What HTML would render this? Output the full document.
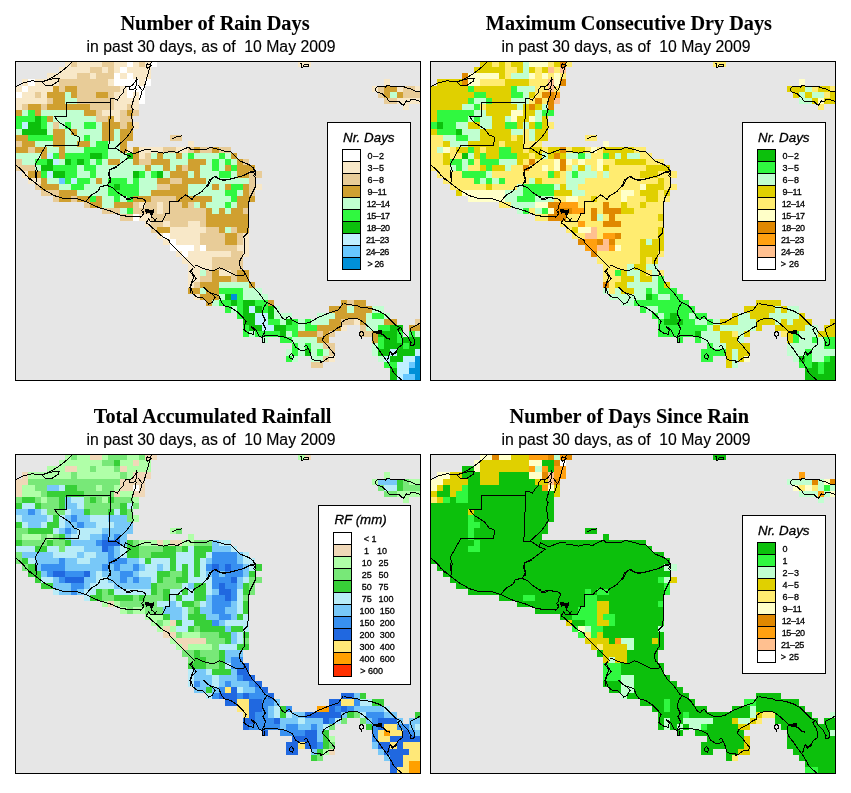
<!DOCTYPE html>
<html><head><meta charset="utf-8"><title>Rainfall maps</title>
<style>
html,body{margin:0;padding:0;background:#fff}
body{width:851px;height:793px;position:relative;overflow:hidden;font-family:"Liberation Sans",sans-serif}
.map{position:absolute;display:block;will-change:transform}
svg text.t1{font-family:"Liberation Serif",serif;font-weight:bold;font-size:20.3px;stroke-width:0.1px}
svg text.t2{font-family:"Liberation Sans",sans-serif;font-size:15.8px;white-space:pre;stroke-width:0.15px}
svg text{font-family:"Liberation Sans",sans-serif;fill:#000;stroke:#000;stroke-width:0.3px}
</style></head><body>

<svg class="map" style="left:0px;top:0px" width="436" height="60" viewBox="0 0 436 60">
<text class="t1" x="120.4" y="29.7" textLength="189.3" lengthAdjust="spacingAndGlyphs">Number of Rain Days</text>
<text class="t2" x="86.5" y="51.5" textLength="249" lengthAdjust="spacingAndGlyphs" xml:space="preserve">in past 30 days, as of  10 May 2009</text>
</svg>
<svg class="map" style="left:15px;top:61px" width="406" height="320" viewBox="0 0 406 320" shape-rendering="crispEdges">
<rect x="0" y="0" width="406" height="320" fill="#e6e6e6"/>
<rect x="50" y="0" width="6" height="6" fill="#f8e8c8"/>
<rect x="56" y="0" width="6" height="6" fill="#e8cc98"/>
<rect x="62" y="0" width="25" height="6" fill="#f8e8c8"/>
<rect x="87" y="0" width="12" height="6" fill="#e8cc98"/>
<rect x="99" y="0" width="13" height="6" fill="#f8e8c8"/>
<rect x="112" y="0" width="6" height="6" fill="#ffffff"/>
<rect x="118" y="0" width="6" height="6" fill="#f8e8c8"/>
<rect x="124" y="0" width="6" height="6" fill="#e8cc98"/>
<rect x="130" y="0" width="6" height="6" fill="#f8e8c8"/>
<rect x="136" y="0" width="6" height="6" fill="#ffffff"/>
<rect x="283" y="0" width="13" height="6" fill="#f8e8c8"/>
<rect x="44" y="6" width="31" height="6" fill="#f8e8c8"/>
<rect x="75" y="6" width="12" height="6" fill="#e8cc98"/>
<rect x="87" y="6" width="6" height="6" fill="#f8e8c8"/>
<rect x="93" y="6" width="6" height="6" fill="#e8cc98"/>
<rect x="99" y="6" width="6" height="6" fill="#f8e8c8"/>
<rect x="105" y="6" width="7" height="6" fill="#ffffff"/>
<rect x="112" y="6" width="24" height="6" fill="#f8e8c8"/>
<rect x="32" y="12" width="30" height="6" fill="#f8e8c8"/>
<rect x="62" y="12" width="13" height="6" fill="#e8cc98"/>
<rect x="75" y="12" width="6" height="6" fill="#f8e8c8"/>
<rect x="81" y="12" width="18" height="6" fill="#e8cc98"/>
<rect x="99" y="12" width="6" height="6" fill="#ffffff"/>
<rect x="105" y="12" width="7" height="6" fill="#f8e8c8"/>
<rect x="112" y="12" width="6" height="6" fill="#ffffff"/>
<rect x="118" y="12" width="18" height="6" fill="#f8e8c8"/>
<rect x="7" y="18" width="6" height="7" fill="#f8e8c8"/>
<rect x="13" y="18" width="7" height="7" fill="#ffffff"/>
<rect x="20" y="18" width="24" height="7" fill="#f8e8c8"/>
<rect x="44" y="18" width="49" height="7" fill="#e8cc98"/>
<rect x="93" y="18" width="6" height="7" fill="#f8e8c8"/>
<rect x="99" y="18" width="25" height="7" fill="#ffffff"/>
<rect x="124" y="18" width="6" height="7" fill="#f8e8c8"/>
<rect x="130" y="18" width="6" height="7" fill="#ffffff"/>
<rect x="369" y="18" width="6" height="7" fill="#f8e8c8"/>
<rect x="1" y="25" width="6" height="6" fill="#f8e8c8"/>
<rect x="7" y="25" width="6" height="6" fill="#ffffff"/>
<rect x="13" y="25" width="25" height="6" fill="#f8e8c8"/>
<rect x="38" y="25" width="6" height="6" fill="#d0a030"/>
<rect x="44" y="25" width="6" height="6" fill="#e8cc98"/>
<rect x="50" y="25" width="12" height="6" fill="#d0a030"/>
<rect x="62" y="25" width="43" height="6" fill="#e8cc98"/>
<rect x="105" y="25" width="7" height="6" fill="#f8e8c8"/>
<rect x="112" y="25" width="18" height="6" fill="#ffffff"/>
<rect x="357" y="25" width="6" height="6" fill="#f8e8c8"/>
<rect x="363" y="25" width="6" height="6" fill="#e8cc98"/>
<rect x="369" y="25" width="13" height="6" fill="#d0a030"/>
<rect x="382" y="25" width="6" height="6" fill="#f8e8c8"/>
<rect x="388" y="25" width="12" height="6" fill="#e8cc98"/>
<rect x="400" y="25" width="6" height="6" fill="#f8e8c8"/>
<rect x="1" y="31" width="6" height="6" fill="#ffffff"/>
<rect x="7" y="31" width="13" height="6" fill="#f8e8c8"/>
<rect x="20" y="31" width="6" height="6" fill="#e8cc98"/>
<rect x="26" y="31" width="6" height="6" fill="#f8e8c8"/>
<rect x="32" y="31" width="18" height="6" fill="#d0a030"/>
<rect x="50" y="31" width="6" height="6" fill="#c0ffd0"/>
<rect x="56" y="31" width="6" height="6" fill="#d0a030"/>
<rect x="62" y="31" width="19" height="6" fill="#e8cc98"/>
<rect x="81" y="31" width="12" height="6" fill="#d0a030"/>
<rect x="93" y="31" width="6" height="6" fill="#e8cc98"/>
<rect x="99" y="31" width="13" height="6" fill="#f8e8c8"/>
<rect x="112" y="31" width="6" height="6" fill="#ffffff"/>
<rect x="118" y="31" width="6" height="6" fill="#f8e8c8"/>
<rect x="124" y="31" width="6" height="6" fill="#ffffff"/>
<rect x="363" y="31" width="6" height="6" fill="#e8cc98"/>
<rect x="369" y="31" width="6" height="6" fill="#d0a030"/>
<rect x="375" y="31" width="7" height="6" fill="#c0ffd0"/>
<rect x="382" y="31" width="6" height="6" fill="#d0a030"/>
<rect x="388" y="31" width="18" height="6" fill="#e8cc98"/>
<rect x="1" y="37" width="31" height="6" fill="#f8e8c8"/>
<rect x="32" y="37" width="6" height="6" fill="#e8cc98"/>
<rect x="38" y="37" width="12" height="6" fill="#d0a030"/>
<rect x="50" y="37" width="12" height="6" fill="#c0ffd0"/>
<rect x="62" y="37" width="37" height="6" fill="#e8cc98"/>
<rect x="99" y="37" width="25" height="6" fill="#f8e8c8"/>
<rect x="124" y="37" width="6" height="6" fill="#ffffff"/>
<rect x="369" y="37" width="13" height="6" fill="#e8cc98"/>
<rect x="382" y="37" width="24" height="6" fill="#f8e8c8"/>
<rect x="1" y="43" width="6" height="6" fill="#f8e8c8"/>
<rect x="7" y="43" width="6" height="6" fill="#e8cc98"/>
<rect x="13" y="43" width="13" height="6" fill="#d0a030"/>
<rect x="26" y="43" width="6" height="6" fill="#e8cc98"/>
<rect x="32" y="43" width="43" height="6" fill="#d0a030"/>
<rect x="75" y="43" width="24" height="6" fill="#e8cc98"/>
<rect x="99" y="43" width="13" height="6" fill="#f8e8c8"/>
<rect x="112" y="43" width="6" height="6" fill="#e8cc98"/>
<rect x="118" y="43" width="6" height="6" fill="#f8e8c8"/>
<rect x="388" y="43" width="6" height="6" fill="#f8e8c8"/>
<rect x="1" y="49" width="6" height="6" fill="#d0a030"/>
<rect x="7" y="49" width="6" height="6" fill="#c0ffd0"/>
<rect x="13" y="49" width="7" height="6" fill="#30f840"/>
<rect x="20" y="49" width="6" height="6" fill="#d0a030"/>
<rect x="26" y="49" width="43" height="6" fill="#c0ffd0"/>
<rect x="69" y="49" width="12" height="6" fill="#d0a030"/>
<rect x="81" y="49" width="6" height="6" fill="#e8cc98"/>
<rect x="87" y="49" width="18" height="6" fill="#f8e8c8"/>
<rect x="105" y="49" width="7" height="6" fill="#e8cc98"/>
<rect x="112" y="49" width="6" height="6" fill="#d0a030"/>
<rect x="118" y="49" width="6" height="6" fill="#e8cc98"/>
<rect x="1" y="55" width="19" height="6" fill="#30f840"/>
<rect x="20" y="55" width="6" height="6" fill="#0cc00c"/>
<rect x="26" y="55" width="6" height="6" fill="#30f840"/>
<rect x="32" y="55" width="6" height="6" fill="#d0a030"/>
<rect x="38" y="55" width="43" height="6" fill="#c0ffd0"/>
<rect x="81" y="55" width="12" height="6" fill="#e8cc98"/>
<rect x="93" y="55" width="6" height="6" fill="#d0a030"/>
<rect x="99" y="55" width="6" height="6" fill="#f8e8c8"/>
<rect x="105" y="55" width="13" height="6" fill="#e8cc98"/>
<rect x="1" y="61" width="6" height="7" fill="#30f840"/>
<rect x="7" y="61" width="6" height="7" fill="#c0f0ff"/>
<rect x="13" y="61" width="13" height="7" fill="#0cc00c"/>
<rect x="26" y="61" width="6" height="7" fill="#30f840"/>
<rect x="32" y="61" width="6" height="7" fill="#c0ffd0"/>
<rect x="38" y="61" width="6" height="7" fill="#e8cc98"/>
<rect x="44" y="61" width="6" height="7" fill="#c0ffd0"/>
<rect x="50" y="61" width="6" height="7" fill="#30f840"/>
<rect x="56" y="61" width="13" height="7" fill="#c0ffd0"/>
<rect x="69" y="61" width="12" height="7" fill="#30f840"/>
<rect x="81" y="61" width="6" height="7" fill="#c0ffd0"/>
<rect x="87" y="61" width="18" height="7" fill="#d0a030"/>
<rect x="105" y="61" width="7" height="7" fill="#e8cc98"/>
<rect x="112" y="61" width="6" height="7" fill="#d0a030"/>
<rect x="118" y="61" width="6" height="7" fill="#f8e8c8"/>
<rect x="1" y="68" width="6" height="6" fill="#c0ffd0"/>
<rect x="7" y="68" width="25" height="6" fill="#0cc00c"/>
<rect x="32" y="68" width="6" height="6" fill="#c0ffd0"/>
<rect x="38" y="68" width="12" height="6" fill="#d0a030"/>
<rect x="50" y="68" width="6" height="6" fill="#c0ffd0"/>
<rect x="56" y="68" width="6" height="6" fill="#d0a030"/>
<rect x="62" y="68" width="25" height="6" fill="#c0ffd0"/>
<rect x="87" y="68" width="12" height="6" fill="#d0a030"/>
<rect x="99" y="68" width="6" height="6" fill="#c0ffd0"/>
<rect x="105" y="68" width="13" height="6" fill="#d0a030"/>
<rect x="1" y="74" width="12" height="6" fill="#d0a030"/>
<rect x="13" y="74" width="25" height="6" fill="#30f840"/>
<rect x="38" y="74" width="12" height="6" fill="#d0a030"/>
<rect x="50" y="74" width="19" height="6" fill="#c0ffd0"/>
<rect x="69" y="74" width="6" height="6" fill="#30f840"/>
<rect x="75" y="74" width="12" height="6" fill="#c0ffd0"/>
<rect x="87" y="74" width="12" height="6" fill="#d0a030"/>
<rect x="99" y="74" width="6" height="6" fill="#c0ffd0"/>
<rect x="105" y="74" width="13" height="6" fill="#d0a030"/>
<rect x="155" y="74" width="12" height="6" fill="#e8cc98"/>
<rect x="1" y="80" width="6" height="6" fill="#e8cc98"/>
<rect x="7" y="80" width="13" height="6" fill="#d0a030"/>
<rect x="20" y="80" width="18" height="6" fill="#c0ffd0"/>
<rect x="38" y="80" width="12" height="6" fill="#d0a030"/>
<rect x="50" y="80" width="12" height="6" fill="#c0ffd0"/>
<rect x="62" y="80" width="13" height="6" fill="#d0a030"/>
<rect x="75" y="80" width="6" height="6" fill="#c0ffd0"/>
<rect x="81" y="80" width="12" height="6" fill="#30f840"/>
<rect x="93" y="80" width="12" height="6" fill="#c0ffd0"/>
<rect x="105" y="80" width="7" height="6" fill="#d0a030"/>
<rect x="173" y="80" width="6" height="6" fill="#f8e8c8"/>
<rect x="1" y="86" width="12" height="6" fill="#d0a030"/>
<rect x="13" y="86" width="7" height="6" fill="#e8cc98"/>
<rect x="20" y="86" width="12" height="6" fill="#d0a030"/>
<rect x="32" y="86" width="12" height="6" fill="#c0ffd0"/>
<rect x="44" y="86" width="6" height="6" fill="#d0a030"/>
<rect x="50" y="86" width="19" height="6" fill="#c0ffd0"/>
<rect x="69" y="86" width="24" height="6" fill="#30f840"/>
<rect x="93" y="86" width="12" height="6" fill="#c0ffd0"/>
<rect x="105" y="86" width="7" height="6" fill="#d0a030"/>
<rect x="112" y="86" width="6" height="6" fill="#f8e8c8"/>
<rect x="118" y="86" width="6" height="6" fill="#d0a030"/>
<rect x="124" y="86" width="24" height="6" fill="#f8e8c8"/>
<rect x="148" y="86" width="13" height="6" fill="#e8cc98"/>
<rect x="161" y="86" width="12" height="6" fill="#f8e8c8"/>
<rect x="173" y="86" width="6" height="6" fill="#e8cc98"/>
<rect x="179" y="86" width="6" height="6" fill="#d0a030"/>
<rect x="185" y="86" width="12" height="6" fill="#e8cc98"/>
<rect x="197" y="86" width="7" height="6" fill="#d0a030"/>
<rect x="204" y="86" width="12" height="6" fill="#e8cc98"/>
<rect x="1" y="92" width="25" height="6" fill="#c0ffd0"/>
<rect x="26" y="92" width="6" height="6" fill="#d0a030"/>
<rect x="32" y="92" width="6" height="6" fill="#c0f0ff"/>
<rect x="38" y="92" width="6" height="6" fill="#30f840"/>
<rect x="44" y="92" width="6" height="6" fill="#d0a030"/>
<rect x="50" y="92" width="25" height="6" fill="#30f840"/>
<rect x="75" y="92" width="12" height="6" fill="#0cc00c"/>
<rect x="87" y="92" width="6" height="6" fill="#30f840"/>
<rect x="93" y="92" width="19" height="6" fill="#c0ffd0"/>
<rect x="112" y="92" width="6" height="6" fill="#0cc00c"/>
<rect x="118" y="92" width="6" height="6" fill="#d0a030"/>
<rect x="124" y="92" width="6" height="6" fill="#f8e8c8"/>
<rect x="130" y="92" width="6" height="6" fill="#e8cc98"/>
<rect x="136" y="92" width="6" height="6" fill="#c0ffd0"/>
<rect x="142" y="92" width="6" height="6" fill="#d0a030"/>
<rect x="148" y="92" width="13" height="6" fill="#c0ffd0"/>
<rect x="161" y="92" width="6" height="6" fill="#d0a030"/>
<rect x="167" y="92" width="6" height="6" fill="#c0ffd0"/>
<rect x="173" y="92" width="6" height="6" fill="#30f840"/>
<rect x="179" y="92" width="25" height="6" fill="#c0ffd0"/>
<rect x="204" y="92" width="6" height="6" fill="#30f840"/>
<rect x="210" y="92" width="6" height="6" fill="#c0ffd0"/>
<rect x="216" y="92" width="6" height="6" fill="#d0a030"/>
<rect x="1" y="98" width="6" height="6" fill="#e8cc98"/>
<rect x="7" y="98" width="13" height="6" fill="#c0ffd0"/>
<rect x="20" y="98" width="12" height="6" fill="#30f840"/>
<rect x="32" y="98" width="6" height="6" fill="#0cc00c"/>
<rect x="38" y="98" width="6" height="6" fill="#c0f0ff"/>
<rect x="44" y="98" width="6" height="6" fill="#c0ffd0"/>
<rect x="50" y="98" width="6" height="6" fill="#0cc00c"/>
<rect x="56" y="98" width="6" height="6" fill="#30f840"/>
<rect x="62" y="98" width="7" height="6" fill="#0cc00c"/>
<rect x="69" y="98" width="6" height="6" fill="#30f840"/>
<rect x="75" y="98" width="6" height="6" fill="#c0ffd0"/>
<rect x="81" y="98" width="6" height="6" fill="#30f840"/>
<rect x="87" y="98" width="6" height="6" fill="#c0ffd0"/>
<rect x="93" y="98" width="12" height="6" fill="#d0a030"/>
<rect x="105" y="98" width="13" height="6" fill="#c0ffd0"/>
<rect x="118" y="98" width="6" height="6" fill="#d0a030"/>
<rect x="124" y="98" width="12" height="6" fill="#e8cc98"/>
<rect x="136" y="98" width="19" height="6" fill="#d0a030"/>
<rect x="155" y="98" width="18" height="6" fill="#c0ffd0"/>
<rect x="173" y="98" width="18" height="6" fill="#d0a030"/>
<rect x="191" y="98" width="6" height="6" fill="#c0ffd0"/>
<rect x="197" y="98" width="7" height="6" fill="#30f840"/>
<rect x="204" y="98" width="6" height="6" fill="#c0ffd0"/>
<rect x="210" y="98" width="6" height="6" fill="#30f840"/>
<rect x="216" y="98" width="6" height="6" fill="#c0ffd0"/>
<rect x="222" y="98" width="6" height="6" fill="#d0a030"/>
<rect x="228" y="98" width="6" height="6" fill="#e8cc98"/>
<rect x="1" y="104" width="19" height="6" fill="#e8cc98"/>
<rect x="20" y="104" width="6" height="6" fill="#c0ffd0"/>
<rect x="26" y="104" width="12" height="6" fill="#0cc00c"/>
<rect x="38" y="104" width="24" height="6" fill="#30f840"/>
<rect x="62" y="104" width="7" height="6" fill="#c0ffd0"/>
<rect x="69" y="104" width="12" height="6" fill="#30f840"/>
<rect x="81" y="104" width="49" height="6" fill="#c0ffd0"/>
<rect x="130" y="104" width="6" height="6" fill="#d0a030"/>
<rect x="136" y="104" width="12" height="6" fill="#c0ffd0"/>
<rect x="148" y="104" width="7" height="6" fill="#d0a030"/>
<rect x="155" y="104" width="6" height="6" fill="#c0ffd0"/>
<rect x="161" y="104" width="6" height="6" fill="#d0a030"/>
<rect x="167" y="104" width="6" height="6" fill="#e8cc98"/>
<rect x="173" y="104" width="12" height="6" fill="#d0a030"/>
<rect x="185" y="104" width="12" height="6" fill="#c0ffd0"/>
<rect x="197" y="104" width="7" height="6" fill="#30f840"/>
<rect x="204" y="104" width="6" height="6" fill="#c0ffd0"/>
<rect x="210" y="104" width="6" height="6" fill="#d0a030"/>
<rect x="216" y="104" width="6" height="6" fill="#30f840"/>
<rect x="222" y="104" width="18" height="6" fill="#d0a030"/>
<rect x="7" y="110" width="6" height="7" fill="#f8e8c8"/>
<rect x="13" y="110" width="13" height="7" fill="#d0a030"/>
<rect x="26" y="110" width="6" height="7" fill="#30f840"/>
<rect x="32" y="110" width="6" height="7" fill="#c0f0ff"/>
<rect x="38" y="110" width="12" height="7" fill="#0cc00c"/>
<rect x="50" y="110" width="12" height="7" fill="#30f840"/>
<rect x="62" y="110" width="13" height="7" fill="#c0ffd0"/>
<rect x="75" y="110" width="6" height="7" fill="#30f840"/>
<rect x="81" y="110" width="37" height="7" fill="#c0ffd0"/>
<rect x="118" y="110" width="6" height="7" fill="#0cc00c"/>
<rect x="124" y="110" width="6" height="7" fill="#30f840"/>
<rect x="130" y="110" width="6" height="7" fill="#c0ffd0"/>
<rect x="136" y="110" width="6" height="7" fill="#30f840"/>
<rect x="142" y="110" width="6" height="7" fill="#0cc00c"/>
<rect x="148" y="110" width="7" height="7" fill="#c0ffd0"/>
<rect x="155" y="110" width="18" height="7" fill="#d0a030"/>
<rect x="173" y="110" width="6" height="7" fill="#c0ffd0"/>
<rect x="179" y="110" width="6" height="7" fill="#d0a030"/>
<rect x="185" y="110" width="19" height="7" fill="#c0ffd0"/>
<rect x="204" y="110" width="12" height="7" fill="#30f840"/>
<rect x="216" y="110" width="6" height="7" fill="#c0ffd0"/>
<rect x="222" y="110" width="12" height="7" fill="#d0a030"/>
<rect x="234" y="110" width="13" height="7" fill="#e8cc98"/>
<rect x="13" y="117" width="13" height="6" fill="#f8e8c8"/>
<rect x="26" y="117" width="6" height="6" fill="#d0a030"/>
<rect x="32" y="117" width="12" height="6" fill="#c0ffd0"/>
<rect x="44" y="117" width="6" height="6" fill="#68c8ff"/>
<rect x="50" y="117" width="6" height="6" fill="#30f840"/>
<rect x="56" y="117" width="6" height="6" fill="#c0f0ff"/>
<rect x="62" y="117" width="13" height="6" fill="#30f840"/>
<rect x="75" y="117" width="6" height="6" fill="#c0ffd0"/>
<rect x="81" y="117" width="6" height="6" fill="#d0a030"/>
<rect x="87" y="117" width="6" height="6" fill="#c0ffd0"/>
<rect x="93" y="117" width="19" height="6" fill="#30f840"/>
<rect x="112" y="117" width="6" height="6" fill="#c0ffd0"/>
<rect x="118" y="117" width="6" height="6" fill="#30f840"/>
<rect x="124" y="117" width="18" height="6" fill="#c0ffd0"/>
<rect x="142" y="117" width="13" height="6" fill="#d0a030"/>
<rect x="155" y="117" width="12" height="6" fill="#e8cc98"/>
<rect x="167" y="117" width="24" height="6" fill="#d0a030"/>
<rect x="191" y="117" width="43" height="6" fill="#c0ffd0"/>
<rect x="234" y="117" width="6" height="6" fill="#e8cc98"/>
<rect x="20" y="123" width="6" height="6" fill="#e8cc98"/>
<rect x="26" y="123" width="18" height="6" fill="#d0a030"/>
<rect x="44" y="123" width="12" height="6" fill="#c0ffd0"/>
<rect x="56" y="123" width="13" height="6" fill="#30f840"/>
<rect x="69" y="123" width="24" height="6" fill="#c0ffd0"/>
<rect x="93" y="123" width="6" height="6" fill="#30f840"/>
<rect x="99" y="123" width="6" height="6" fill="#0cc00c"/>
<rect x="105" y="123" width="19" height="6" fill="#30f840"/>
<rect x="124" y="123" width="18" height="6" fill="#c0ffd0"/>
<rect x="142" y="123" width="13" height="6" fill="#e8cc98"/>
<rect x="155" y="123" width="18" height="6" fill="#d0a030"/>
<rect x="173" y="123" width="24" height="6" fill="#c0ffd0"/>
<rect x="197" y="123" width="7" height="6" fill="#d0a030"/>
<rect x="204" y="123" width="6" height="6" fill="#c0ffd0"/>
<rect x="210" y="123" width="6" height="6" fill="#d0a030"/>
<rect x="216" y="123" width="12" height="6" fill="#30f840"/>
<rect x="228" y="123" width="6" height="6" fill="#d0a030"/>
<rect x="234" y="123" width="6" height="6" fill="#e8cc98"/>
<rect x="240" y="123" width="7" height="6" fill="#f8e8c8"/>
<rect x="26" y="129" width="18" height="6" fill="#e8cc98"/>
<rect x="44" y="129" width="18" height="6" fill="#d0a030"/>
<rect x="62" y="129" width="31" height="6" fill="#c0ffd0"/>
<rect x="93" y="129" width="31" height="6" fill="#30f840"/>
<rect x="124" y="129" width="12" height="6" fill="#c0ffd0"/>
<rect x="136" y="129" width="37" height="6" fill="#d0a030"/>
<rect x="173" y="129" width="37" height="6" fill="#c0ffd0"/>
<rect x="210" y="129" width="12" height="6" fill="#30f840"/>
<rect x="222" y="129" width="6" height="6" fill="#c0ffd0"/>
<rect x="228" y="129" width="6" height="6" fill="#d0a030"/>
<rect x="234" y="129" width="6" height="6" fill="#e8cc98"/>
<rect x="38" y="135" width="6" height="6" fill="#e8cc98"/>
<rect x="44" y="135" width="12" height="6" fill="#d0a030"/>
<rect x="56" y="135" width="6" height="6" fill="#e8cc98"/>
<rect x="62" y="135" width="13" height="6" fill="#d0a030"/>
<rect x="75" y="135" width="6" height="6" fill="#30f840"/>
<rect x="81" y="135" width="6" height="6" fill="#d0a030"/>
<rect x="87" y="135" width="12" height="6" fill="#c0ffd0"/>
<rect x="99" y="135" width="6" height="6" fill="#30f840"/>
<rect x="105" y="135" width="7" height="6" fill="#c0ffd0"/>
<rect x="112" y="135" width="6" height="6" fill="#30f840"/>
<rect x="118" y="135" width="18" height="6" fill="#d0a030"/>
<rect x="136" y="135" width="25" height="6" fill="#e8cc98"/>
<rect x="161" y="135" width="36" height="6" fill="#d0a030"/>
<rect x="197" y="135" width="19" height="6" fill="#c0ffd0"/>
<rect x="216" y="135" width="6" height="6" fill="#30f840"/>
<rect x="222" y="135" width="18" height="6" fill="#d0a030"/>
<rect x="69" y="141" width="6" height="6" fill="#e8cc98"/>
<rect x="75" y="141" width="12" height="6" fill="#d0a030"/>
<rect x="87" y="141" width="12" height="6" fill="#c0ffd0"/>
<rect x="99" y="141" width="19" height="6" fill="#d0a030"/>
<rect x="118" y="141" width="6" height="6" fill="#e8cc98"/>
<rect x="124" y="141" width="6" height="6" fill="#f8e8c8"/>
<rect x="130" y="141" width="12" height="6" fill="#e8cc98"/>
<rect x="142" y="141" width="6" height="6" fill="#f8e8c8"/>
<rect x="148" y="141" width="19" height="6" fill="#e8cc98"/>
<rect x="167" y="141" width="6" height="6" fill="#d0a030"/>
<rect x="173" y="141" width="6" height="6" fill="#e8cc98"/>
<rect x="179" y="141" width="6" height="6" fill="#c0ffd0"/>
<rect x="185" y="141" width="6" height="6" fill="#d0a030"/>
<rect x="191" y="141" width="19" height="6" fill="#c0ffd0"/>
<rect x="210" y="141" width="6" height="6" fill="#30f840"/>
<rect x="216" y="141" width="6" height="6" fill="#c0ffd0"/>
<rect x="222" y="141" width="12" height="6" fill="#d0a030"/>
<rect x="87" y="147" width="18" height="6" fill="#e8cc98"/>
<rect x="105" y="147" width="7" height="6" fill="#c0ffd0"/>
<rect x="112" y="147" width="6" height="6" fill="#30f840"/>
<rect x="118" y="147" width="24" height="6" fill="#e8cc98"/>
<rect x="142" y="147" width="6" height="6" fill="#f8e8c8"/>
<rect x="148" y="147" width="43" height="6" fill="#e8cc98"/>
<rect x="191" y="147" width="6" height="6" fill="#d0a030"/>
<rect x="197" y="147" width="7" height="6" fill="#c0ffd0"/>
<rect x="204" y="147" width="6" height="6" fill="#d0a030"/>
<rect x="210" y="147" width="6" height="6" fill="#c0ffd0"/>
<rect x="216" y="147" width="12" height="6" fill="#d0a030"/>
<rect x="228" y="147" width="6" height="6" fill="#e8cc98"/>
<rect x="105" y="153" width="13" height="7" fill="#e8cc98"/>
<rect x="118" y="153" width="6" height="7" fill="#ffffff"/>
<rect x="124" y="153" width="12" height="7" fill="#f8e8c8"/>
<rect x="136" y="153" width="55" height="7" fill="#e8cc98"/>
<rect x="191" y="153" width="43" height="7" fill="#d0a030"/>
<rect x="130" y="160" width="6" height="6" fill="#f8e8c8"/>
<rect x="136" y="160" width="12" height="6" fill="#e8cc98"/>
<rect x="148" y="160" width="7" height="6" fill="#f8e8c8"/>
<rect x="155" y="160" width="18" height="6" fill="#e8cc98"/>
<rect x="173" y="160" width="12" height="6" fill="#f8e8c8"/>
<rect x="185" y="160" width="6" height="6" fill="#e8cc98"/>
<rect x="191" y="160" width="43" height="6" fill="#d0a030"/>
<rect x="136" y="166" width="6" height="6" fill="#e8cc98"/>
<rect x="142" y="166" width="13" height="6" fill="#d0a030"/>
<rect x="155" y="166" width="36" height="6" fill="#f8e8c8"/>
<rect x="191" y="166" width="13" height="6" fill="#e8cc98"/>
<rect x="204" y="166" width="6" height="6" fill="#d0a030"/>
<rect x="210" y="166" width="6" height="6" fill="#c0ffd0"/>
<rect x="216" y="166" width="6" height="6" fill="#e8cc98"/>
<rect x="222" y="166" width="12" height="6" fill="#d0a030"/>
<rect x="142" y="172" width="6" height="6" fill="#f8e8c8"/>
<rect x="148" y="172" width="7" height="6" fill="#ffffff"/>
<rect x="155" y="172" width="30" height="6" fill="#f8e8c8"/>
<rect x="185" y="172" width="25" height="6" fill="#e8cc98"/>
<rect x="210" y="172" width="12" height="6" fill="#d0a030"/>
<rect x="222" y="172" width="6" height="6" fill="#e8cc98"/>
<rect x="228" y="172" width="6" height="6" fill="#f8e8c8"/>
<rect x="148" y="178" width="7" height="6" fill="#f8e8c8"/>
<rect x="155" y="178" width="6" height="6" fill="#ffffff"/>
<rect x="161" y="178" width="24" height="6" fill="#f8e8c8"/>
<rect x="185" y="178" width="25" height="6" fill="#e8cc98"/>
<rect x="210" y="178" width="12" height="6" fill="#d0a030"/>
<rect x="222" y="178" width="6" height="6" fill="#e8cc98"/>
<rect x="228" y="178" width="6" height="6" fill="#f8e8c8"/>
<rect x="155" y="184" width="24" height="6" fill="#ffffff"/>
<rect x="179" y="184" width="6" height="6" fill="#f8e8c8"/>
<rect x="185" y="184" width="6" height="6" fill="#ffffff"/>
<rect x="191" y="184" width="31" height="6" fill="#e8cc98"/>
<rect x="222" y="184" width="12" height="6" fill="#f8e8c8"/>
<rect x="161" y="190" width="6" height="6" fill="#f8e8c8"/>
<rect x="167" y="190" width="6" height="6" fill="#ffffff"/>
<rect x="173" y="190" width="43" height="6" fill="#f8e8c8"/>
<rect x="216" y="190" width="12" height="6" fill="#e8cc98"/>
<rect x="228" y="190" width="6" height="6" fill="#f8e8c8"/>
<rect x="167" y="196" width="30" height="7" fill="#f8e8c8"/>
<rect x="197" y="196" width="31" height="7" fill="#e8cc98"/>
<rect x="173" y="203" width="24" height="6" fill="#f8e8c8"/>
<rect x="197" y="203" width="31" height="6" fill="#e8cc98"/>
<rect x="173" y="209" width="12" height="6" fill="#f8e8c8"/>
<rect x="185" y="209" width="6" height="6" fill="#c0ffd0"/>
<rect x="191" y="209" width="6" height="6" fill="#e8cc98"/>
<rect x="197" y="209" width="7" height="6" fill="#d0a030"/>
<rect x="204" y="209" width="12" height="6" fill="#f8e8c8"/>
<rect x="216" y="209" width="6" height="6" fill="#e8cc98"/>
<rect x="222" y="209" width="12" height="6" fill="#d0a030"/>
<rect x="173" y="215" width="12" height="6" fill="#f8e8c8"/>
<rect x="185" y="215" width="12" height="6" fill="#e8cc98"/>
<rect x="197" y="215" width="19" height="6" fill="#d0a030"/>
<rect x="216" y="215" width="6" height="6" fill="#e8cc98"/>
<rect x="222" y="215" width="12" height="6" fill="#d0a030"/>
<rect x="173" y="221" width="6" height="6" fill="#f8e8c8"/>
<rect x="179" y="221" width="6" height="6" fill="#e8cc98"/>
<rect x="185" y="221" width="19" height="6" fill="#d0a030"/>
<rect x="204" y="221" width="30" height="6" fill="#c0ffd0"/>
<rect x="234" y="221" width="6" height="6" fill="#d0a030"/>
<rect x="173" y="227" width="12" height="6" fill="#d0a030"/>
<rect x="185" y="227" width="6" height="6" fill="#c0ffd0"/>
<rect x="191" y="227" width="13" height="6" fill="#d0a030"/>
<rect x="204" y="227" width="24" height="6" fill="#30f840"/>
<rect x="228" y="227" width="19" height="6" fill="#c0ffd0"/>
<rect x="179" y="233" width="6" height="6" fill="#f8e8c8"/>
<rect x="185" y="233" width="19" height="6" fill="#d0a030"/>
<rect x="204" y="233" width="6" height="6" fill="#c0ffd0"/>
<rect x="210" y="233" width="6" height="6" fill="#0cc00c"/>
<rect x="216" y="233" width="6" height="6" fill="#0090d8"/>
<rect x="222" y="233" width="6" height="6" fill="#30f840"/>
<rect x="228" y="233" width="25" height="6" fill="#c0ffd0"/>
<rect x="191" y="239" width="6" height="6" fill="#d0a030"/>
<rect x="197" y="239" width="7" height="6" fill="#c0ffd0"/>
<rect x="204" y="239" width="12" height="6" fill="#30f840"/>
<rect x="216" y="239" width="6" height="6" fill="#0cc00c"/>
<rect x="222" y="239" width="6" height="6" fill="#30f840"/>
<rect x="228" y="239" width="12" height="6" fill="#0cc00c"/>
<rect x="240" y="239" width="13" height="6" fill="#30f840"/>
<rect x="253" y="239" width="6" height="6" fill="#d0a030"/>
<rect x="326" y="239" width="6" height="6" fill="#d0a030"/>
<rect x="332" y="239" width="7" height="6" fill="#e8cc98"/>
<rect x="339" y="239" width="12" height="6" fill="#d0a030"/>
<rect x="210" y="245" width="6" height="7" fill="#30f840"/>
<rect x="216" y="245" width="6" height="7" fill="#c0ffd0"/>
<rect x="222" y="245" width="6" height="7" fill="#30f840"/>
<rect x="228" y="245" width="6" height="7" fill="#0cc00c"/>
<rect x="234" y="245" width="6" height="7" fill="#c0f0ff"/>
<rect x="240" y="245" width="7" height="7" fill="#0cc00c"/>
<rect x="247" y="245" width="6" height="7" fill="#30f840"/>
<rect x="253" y="245" width="6" height="7" fill="#0cc00c"/>
<rect x="259" y="245" width="6" height="7" fill="#c0ffd0"/>
<rect x="314" y="245" width="18" height="7" fill="#d0a030"/>
<rect x="332" y="245" width="7" height="7" fill="#c0ffd0"/>
<rect x="339" y="245" width="18" height="7" fill="#d0a030"/>
<rect x="357" y="245" width="12" height="7" fill="#c0ffd0"/>
<rect x="222" y="252" width="6" height="6" fill="#30f840"/>
<rect x="228" y="252" width="12" height="6" fill="#0cc00c"/>
<rect x="240" y="252" width="13" height="6" fill="#c0f0ff"/>
<rect x="253" y="252" width="6" height="6" fill="#0cc00c"/>
<rect x="259" y="252" width="18" height="6" fill="#c0ffd0"/>
<rect x="302" y="252" width="18" height="6" fill="#c0ffd0"/>
<rect x="320" y="252" width="31" height="6" fill="#d0a030"/>
<rect x="351" y="252" width="6" height="6" fill="#c0ffd0"/>
<rect x="357" y="252" width="12" height="6" fill="#30f840"/>
<rect x="369" y="252" width="6" height="6" fill="#c0ffd0"/>
<rect x="228" y="258" width="12" height="6" fill="#0cc00c"/>
<rect x="240" y="258" width="13" height="6" fill="#c0f0ff"/>
<rect x="253" y="258" width="12" height="6" fill="#30f840"/>
<rect x="265" y="258" width="6" height="6" fill="#c0ffd0"/>
<rect x="271" y="258" width="6" height="6" fill="#0cc00c"/>
<rect x="277" y="258" width="6" height="6" fill="#30f840"/>
<rect x="283" y="258" width="7" height="6" fill="#c0ffd0"/>
<rect x="290" y="258" width="6" height="6" fill="#30f840"/>
<rect x="296" y="258" width="18" height="6" fill="#c0ffd0"/>
<rect x="314" y="258" width="12" height="6" fill="#d0a030"/>
<rect x="326" y="258" width="13" height="6" fill="#e8cc98"/>
<rect x="339" y="258" width="6" height="6" fill="#f8e8c8"/>
<rect x="345" y="258" width="6" height="6" fill="#d0a030"/>
<rect x="351" y="258" width="18" height="6" fill="#c0ffd0"/>
<rect x="369" y="258" width="13" height="6" fill="#d0a030"/>
<rect x="400" y="258" width="6" height="6" fill="#e8cc98"/>
<rect x="228" y="264" width="6" height="6" fill="#30f840"/>
<rect x="234" y="264" width="13" height="6" fill="#0cc00c"/>
<rect x="247" y="264" width="12" height="6" fill="#c0f0ff"/>
<rect x="259" y="264" width="12" height="6" fill="#0cc00c"/>
<rect x="271" y="264" width="12" height="6" fill="#30f840"/>
<rect x="283" y="264" width="7" height="6" fill="#c0ffd0"/>
<rect x="290" y="264" width="12" height="6" fill="#30f840"/>
<rect x="302" y="264" width="24" height="6" fill="#d0a030"/>
<rect x="326" y="264" width="6" height="6" fill="#f8e8c8"/>
<rect x="345" y="264" width="6" height="6" fill="#e8cc98"/>
<rect x="351" y="264" width="12" height="6" fill="#c0ffd0"/>
<rect x="363" y="264" width="12" height="6" fill="#30f840"/>
<rect x="375" y="264" width="13" height="6" fill="#0cc00c"/>
<rect x="394" y="264" width="12" height="6" fill="#d0a030"/>
<rect x="228" y="270" width="6" height="6" fill="#30f840"/>
<rect x="234" y="270" width="6" height="6" fill="#c0ffd0"/>
<rect x="240" y="270" width="25" height="6" fill="#30f840"/>
<rect x="265" y="270" width="6" height="6" fill="#0cc00c"/>
<rect x="271" y="270" width="6" height="6" fill="#c0ffd0"/>
<rect x="277" y="270" width="6" height="6" fill="#30f840"/>
<rect x="283" y="270" width="19" height="6" fill="#d0a030"/>
<rect x="302" y="270" width="6" height="6" fill="#e8cc98"/>
<rect x="308" y="270" width="6" height="6" fill="#d0a030"/>
<rect x="314" y="270" width="6" height="6" fill="#e8cc98"/>
<rect x="345" y="270" width="12" height="6" fill="#e8cc98"/>
<rect x="357" y="270" width="6" height="6" fill="#d0a030"/>
<rect x="363" y="270" width="19" height="6" fill="#0cc00c"/>
<rect x="382" y="270" width="6" height="6" fill="#30f840"/>
<rect x="394" y="270" width="6" height="6" fill="#30f840"/>
<rect x="400" y="270" width="6" height="6" fill="#c0ffd0"/>
<rect x="247" y="276" width="6" height="6" fill="#c0ffd0"/>
<rect x="265" y="276" width="12" height="6" fill="#30f840"/>
<rect x="277" y="276" width="25" height="6" fill="#c0ffd0"/>
<rect x="302" y="276" width="12" height="6" fill="#d0a030"/>
<rect x="357" y="276" width="6" height="6" fill="#d0a030"/>
<rect x="363" y="276" width="6" height="6" fill="#30f840"/>
<rect x="369" y="276" width="13" height="6" fill="#0cc00c"/>
<rect x="382" y="276" width="6" height="6" fill="#30f840"/>
<rect x="388" y="276" width="18" height="6" fill="#0cc00c"/>
<rect x="277" y="282" width="6" height="6" fill="#30f840"/>
<rect x="283" y="282" width="7" height="6" fill="#c0ffd0"/>
<rect x="290" y="282" width="6" height="6" fill="#30f840"/>
<rect x="296" y="282" width="12" height="6" fill="#c0ffd0"/>
<rect x="308" y="282" width="12" height="6" fill="#e8cc98"/>
<rect x="357" y="282" width="6" height="6" fill="#c0ffd0"/>
<rect x="363" y="282" width="6" height="6" fill="#30f840"/>
<rect x="369" y="282" width="19" height="6" fill="#0cc00c"/>
<rect x="388" y="282" width="6" height="6" fill="#30f840"/>
<rect x="394" y="282" width="12" height="6" fill="#0cc00c"/>
<rect x="271" y="288" width="6" height="7" fill="#c0ffd0"/>
<rect x="277" y="288" width="6" height="7" fill="#30f840"/>
<rect x="283" y="288" width="7" height="7" fill="#c0ffd0"/>
<rect x="290" y="288" width="6" height="7" fill="#0cc00c"/>
<rect x="296" y="288" width="6" height="7" fill="#c0ffd0"/>
<rect x="302" y="288" width="6" height="7" fill="#30f840"/>
<rect x="308" y="288" width="6" height="7" fill="#c0ffd0"/>
<rect x="314" y="288" width="6" height="7" fill="#e8cc98"/>
<rect x="357" y="288" width="6" height="7" fill="#c0ffd0"/>
<rect x="363" y="288" width="12" height="7" fill="#0cc00c"/>
<rect x="375" y="288" width="7" height="7" fill="#c0f0ff"/>
<rect x="382" y="288" width="18" height="7" fill="#0cc00c"/>
<rect x="400" y="288" width="6" height="7" fill="#c0f0ff"/>
<rect x="271" y="295" width="6" height="6" fill="#30f840"/>
<rect x="277" y="295" width="6" height="6" fill="#c0ffd0"/>
<rect x="296" y="295" width="12" height="6" fill="#c0ffd0"/>
<rect x="308" y="295" width="6" height="6" fill="#e8cc98"/>
<rect x="314" y="295" width="6" height="6" fill="#f8e8c8"/>
<rect x="363" y="295" width="6" height="6" fill="#c0ffd0"/>
<rect x="369" y="295" width="6" height="6" fill="#c0f0ff"/>
<rect x="375" y="295" width="13" height="6" fill="#0cc00c"/>
<rect x="388" y="295" width="12" height="6" fill="#c0f0ff"/>
<rect x="400" y="295" width="6" height="6" fill="#0090d8"/>
<rect x="296" y="301" width="12" height="6" fill="#e8cc98"/>
<rect x="369" y="301" width="13" height="6" fill="#30f840"/>
<rect x="382" y="301" width="12" height="6" fill="#c0f0ff"/>
<rect x="394" y="301" width="6" height="6" fill="#68c8ff"/>
<rect x="400" y="301" width="6" height="6" fill="#0090d8"/>
<rect x="375" y="307" width="7" height="6" fill="#0cc00c"/>
<rect x="382" y="307" width="12" height="6" fill="#c0f0ff"/>
<rect x="394" y="307" width="12" height="6" fill="#0090d8"/>
<rect x="375" y="313" width="7" height="6" fill="#0cc00c"/>
<rect x="382" y="313" width="6" height="6" fill="#c0f0ff"/>
<rect x="388" y="313" width="12" height="6" fill="#68c8ff"/>
<rect x="400" y="313" width="6" height="6" fill="#0090d8"/>
<g fill="none" stroke="#000" stroke-width="1" shape-rendering="crispEdges"><path d="M1.0 25.4 L7.3 22.2 L16.9 19.8 L27.2 21.0 L34.3 17.8 L42.3 13.5 L48.6 8.7 L55.0 3.2 L56.9 0.8"/>
<path d="M27.2 21.0 L30.4 24.6 L37.5 24.1 L43.1 20.3 L43.9 17.8 L39.1 17.5 L32.7 19.0 L27.2 21.0"/>
<path d="M116.6 56.0 L117.7 60.3 L118.1 66.7 L115.3 71.4 L110.5 77.8 L104.2 83.3 L100.2 87.0 L105.8 90.5 L108.9 92.9 L110.5 88.9 L115.3 91.3 L119.3 92.9 L126.4 89.7 L132.7 88.1 L136.1 88.9"/>
<path d="M95.9 41.6 L51.0 41.6 L51.0 55.2 L39.1 55.2 L43.9 61.1 L55.0 68.3 L58.9 73.8 L64.5 76.2 L63.7 84.1 L31.2 84.1 L24.8 95.2 L20.0 104.0 L22.4 109.5 L20.8 117.5"/>
<path d="M95.9 41.6 L94.7 63.5 L93.9 87.0 L100.2 87.0"/>
<path d="M108.9 92.9 L115.3 95.2 L102.6 104.8 L94.7 108.7 L93.9 114.3 L95.4 119.0 L92.3 123.8 L85.1 125.9"/>
<path d="M1.0 104.0 L7.3 109.5 L15.3 119.0"/>
<path d="M4.2 106.0 L10.5 113.9 L20.0 121.9 L29.6 129.0 L39.1 134.6 L47.0 137.0 L61.3 137.4 L70.8 140.6 L83.5 146.5 L94.7 149.7 L105.8 154.4 L115.3 155.5 L125.6 155.5"/>
<path d="M20.8 109.2 L20.8 113.9 L21.6 120.3 L20.0 121.9"/>
<path d="M70.8 140.6 L75.6 134.6 L83.5 129.8 L85.1 125.8 L91.5 124.3 L95.4 121.1"/>
<path d="M101.8 106.0 L94.7 109.2 L93.4 113.1 L95.9 117.9 L95.4 121.1"/>
<path d="M91.5 124.3 L97.8 126.6 L102.6 131.4 L112.1 137.7 L119.3 136.2 L126.4 137.7"/>
<path d="M163.6 140.1 L164.6 138.5 L170.9 133.8 L177.3 138.5 L178.9 135.4 L186.8 130.6 L192.3 124.3 L194.7 118.7 L199.5 115.5 L204.3 117.9 L209.0 119.5 L218.5 117.1 L228.1 114.7 L235.2 111.6 L240.0 110.8"/>
<path d="M237.6 106.0 L240.8 110.8 L240.0 115.5 L240.8 125.0 L237.6 131.4 L234.4 137.7 L233.1 147.3 L233.1 166.3 L232.0 172.7 L228.9 175.8 L229.7 185.4 L229.7 191.7 L226.5 196.5 L224.1 201.2 L225.7 207.6"/>
<path d="M154.7 181.9 L158.2 185.4 L164.6 191.7 L172.5 199.7 L178.1 205.2 L180.4 207.6"/>
<path d="M180.4 204.4 L183.6 205.2 L188.4 207.6 L197.9 210.0 L204.3 206.8 L209.0 208.4 L215.4 211.6 L221.7 214.7 L228.9 214.7 L229.7 212.3"/>
<path d="M178.1 207.6 L174.9 210.8 L178.9 215.5 L176.5 221.9 L174.9 226.6 L175.7 231.9"/>
<path d="M175.7 208.9 L178.1 213.0 L181.2 217.8 L176.5 222.6 L175.7 226.5 L178.1 232.9 L182.0 236.1 L187.6 236.9 L190.8 240.0 L193.9 243.2 L197.1 241.6 L200.3 236.1 L196.3 232.1 L191.6 229.7 L188.4 225.7 L190.8 228.1 L195.5 232.1 L201.1 233.7 L204.3 235.3 L205.8 240.0 L209.0 244.8 L215.4 246.4 L221.7 250.3 L228.1 256.7 L231.2 260.7 L229.7 263.8 L228.9 268.6 L232.8 271.8 L238.4 273.4 L239.2 268.6 L236.0 265.4 L240.8 268.6 L243.9 275.0 L247.1 276.5 L249.5 275.0 L256.6 274.2 L263.0 275.0 L267.7 275.7 L271.1 276.5"/>
<path d="M226.5 207.5 L229.7 211.5 L232.8 217.8 L237.6 225.7 L243.9 232.1 L250.3 240.8 L258.2 244.8 L261.4 248.0 L264.6 252.7 L267.7 257.5 L271.1 259.1"/>
<path d="M251.9 241.6 L248.7 246.4 L247.1 252.7 L250.3 259.1 L247.9 262.3 L250.3 267.0 L249.5 271.8 L247.1 275.7 L247.9 281.3 L249.5 281.3 L249.5 276.5"/>
<path d="M271.0 257.5 L274.2 255.1 L277.3 259.1 L285.3 263.0 L294.8 261.5 L302.7 256.7 L312.3 252.7 L323.4 248.8 L328.1 242.4"/>
<path d="M271.0 276.5 L277.3 279.7 L280.5 286.1 L286.9 290.0 L293.2 287.7 L294.8 290.8 L297.2 298.8 L307.5 300.3"/>
<path d="M274.2 294.8 L276.6 292.4 L278.9 295.6 L277.3 298.0 L275.0 297.2 L274.2 294.8"/>
<path d="M288.5 285.3 L291.6 284.5 L293.2 287.7"/>
<path d="M285.0 2.2 L286.6 2.9 L286.1 6.3 L288.1 6.3"/>
<path d="M288.5 3.8 L293.2 3.8 L293.2 5.7 L288.5 5.7 L288.5 3.8"/>
<path d="M136.0 90.5 L142.3 90.8 L148.7 92.1 L155.0 90.5 L163.0 91.3 L170.1 87.3 L174.1 86.5 L175.7 88.1 L182.0 88.9 L190.0 88.9 L195.5 86.5 L202.7 88.1 L210.6 90.5 L215.4 90.5 L220.1 95.2 L224.9 100.0 L231.2 102.4 L236.0 104.8 L239.2 108.7 L240.8 111.1 L238.4 115.1"/>
<path d="M240.8 110.3 L234.4 111.1 L228.9 114.3 L218.5 117.5 L210.6 119.0 L204.3 118.3 L200.3 115.1 L196.3 118.3 L192.3 125.9"/>
<path d="M157.4 77.8 L162.2 75.4 L167.0 74.9"/>
<path d="M110.0 135.5 L111.4 138.0 L115.6 138.4 L118.5 136.2 L121.3 136.2 L123.4 138.0 L126.9 137.3 L129.8 139.1 L130.8 141.2 L129.1 143.6 L128.7 147.2 L126.6 149.6 L127.6 151.4 L129.1 150.0"/>
<path d="M110.0 155.3 L125.2 155.3 L125.9 156.3 L129.1 152.1 L128.3 150.7"/>
<path d="M135.8 153.2 L136.8 156.3 L139.6 158.5 L141.4 157.8 L140.3 159.2 L138.2 160.6 L135.4 160.6 L133.6 157.8 L131.2 162.0 L134.0 163.4 L138.2 167.6 L141.1 169.8 L145.3 174.0 L149.5 176.8 L153.8 178.9 L154.8 182.0"/>
<path d="M138.2 160.6 L147.4 160.2 L150.9 152.8 L154.5 152.1 L154.1 140.5 L163.6 140.1"/>
<path d="M328.7 242.6 L335.8 243.8 L343.0 245.0 L346.5 246.8 L352.4 246.8 L357.2 247.9 L364.3 250.3 L369.7 253.3 L373.8 257.4 L378.5 262.2 L382.7 265.7 L385.7 266.3 L388.0 271.1 L392.8 275.8 L395.2 280.0 L396.3 281.8"/>
<path d="M405.9 261.6 L399.9 265.1 L395.2 267.5 L396.3 272.3 L398.7 277.0 L399.9 281.8 L398.7 284.1 L395.7 284.1 L395.2 280.6"/>
<path d="M305.0 301.9 L308.6 300.1 L313.3 296.6 L318.6 296.0 L319.8 293.6 L316.9 290.1 L312.1 284.1 L307.4 279.4 L308.6 275.8 L312.1 273.4 L318.0 270.5 L322.8 266.9 L326.4 265.1 L326.9 261.0 L330.5 258.6 L334.7 257.4 L341.8 257.4 L345.3 259.2 L350.1 262.8 L354.8 266.9 L358.4 270.5 L360.8 271.7 L367.9 273.4 L371.4 277.0 L375.0 278.2"/>
<path d="M358.4 270.5 L357.2 275.8 L358.4 281.8 L363.1 287.7 L367.9 294.8 L372.6 300.7 L376.2 306.7 L378.5 311.4 L382.1 315.0 L386.9 319.1"/>
<path d="M385.7 266.3 L382.7 268.7 L386.9 275.8 L388.0 283.5 L383.3 286.5 L380.9 290.7 L377.4 294.2 L375.0 290.7 L373.2 297.2 L371.4 300.1"/>
<path d="M375.0 290.7 L378.5 293.6 L382.1 290.7"/>
<path d="M346.5 270.5 L348.7 271.7 L348.7 274.0 L346.5 275.2 L346.5 277.6 L345.9 275.2 L344.4 274.0 L344.4 271.7 L346.5 270.5"/>
<path d="M136.2 1.1 L135.2 4.2 L134.5 7.1 L133.4 12.0 L131.6 17.6 L129.9 24.0 L128.5 28.2 L126.7 30.3 L126.7 33.2 L125.3 35.3 L124.6 39.5"/>
<path d="M135.2 4.2 L132.3 2.8 L131.3 4.9 L132.3 7.1 L134.5 6.7 L136.2 4.9 L135.2 4.2"/>
<path d="M114.3 26.8 L115.8 25.4 L118.2 23.3 L120.3 20.5 L121.8 16.6 L122.1 18.3 L121.4 23.3 L120.3 27.5 L118.2 28.6 L114.3 28.9 L114.3 26.8"/>
<path d="M123.2 24.0 L124.6 26.1 L126.7 28.9"/>
<path d="M115.8 25.4 L111.2 25.4 L109.1 27.9 L108.0 31.8 L105.5 34.6 L102.4 39.2 L100.6 38.5 L98.5 37.1 L95.6 37.4 L95.3 41.6"/>
<path d="M121.1 28.2 L120.3 33.9 L118.9 37.4 L117.5 42.3 L116.5 45.9 L118.2 48.7 L116.8 52.2 L116.5 56.0"/>
<path d="M360.5 27.2 L362.9 25.4 L369.3 25.1 L370.7 26.1 L371.4 24.7 L375.6 25.1 L381.3 25.4 L388.3 25.4 L391.2 26.8 L395.4 27.5 L398.2 29.3 L400.3 30.3 L405.3 30.7"/>
<path d="M360.5 27.2 L360.1 29.3 L362.2 31.4 L367.2 32.5 L369.3 34.9 L372.1 37.1 L373.5 39.9 L375.6 40.6 L384.1 40.6 L388.3 44.5 L390.5 41.3 L391.5 39.9 L392.6 40.6 L395.4 39.9 L396.1 38.1 L398.2 38.1 L401.8 39.2 L405.3 40.6"/>
<path d="M130.5 148.2 L134.0 148.6 L134.3 151.8 L131.2 152.1Z" fill="#000"/>
<path d="M135.1 149.6 L138.2 148.9 L138.9 150.7 L137.2 153.2 L135.4 152.8Z" fill="#000"/>
<path d="M360.2 270.1 L366.7 269.9 L366.7 272.9 L361.9 272.5Z" fill="#000"/></g>
<g shape-rendering="crispEdges"><rect x="312.5" y="61.5" width="83" height="158" fill="#fff" stroke="#000" stroke-width="1"/>
<text x="328" y="80.8" font-size="13" font-style="italic" textLength="51.5" lengthAdjust="spacingAndGlyphs">Nr. Days</text>
<rect x="327.5" y="88.5" width="18" height="12" fill="#ffffff" stroke="#000" stroke-width="1"/>
<text x="352.6" y="97.6" font-size="9" textLength="16.3">0–2</text>
<rect x="327.5" y="100.5" width="18" height="12" fill="#f8e8c8" stroke="#000" stroke-width="1"/>
<text x="352.6" y="109.6" font-size="9" textLength="16.3">3–5</text>
<rect x="327.5" y="112.5" width="18" height="12" fill="#e8cc98" stroke="#000" stroke-width="1"/>
<text x="352.6" y="121.6" font-size="9" textLength="16.3">6–8</text>
<rect x="327.5" y="124.5" width="18" height="12" fill="#d0a030" stroke="#000" stroke-width="1"/>
<text x="352.6" y="133.6" font-size="9" textLength="19.2">9–11</text>
<rect x="327.5" y="136.5" width="18" height="12" fill="#c0ffd0" stroke="#000" stroke-width="1"/>
<text x="351.8" y="145.6" font-size="9" textLength="23.2">12–14</text>
<rect x="327.5" y="148.5" width="18" height="12" fill="#30f840" stroke="#000" stroke-width="1"/>
<text x="351.8" y="157.6" font-size="9" textLength="23.2">15–17</text>
<rect x="327.5" y="160.5" width="18" height="12" fill="#0cc00c" stroke="#000" stroke-width="1"/>
<text x="351.8" y="169.6" font-size="9" textLength="23.2">18–20</text>
<rect x="327.5" y="172.5" width="18" height="12" fill="#c0f0ff" stroke="#000" stroke-width="1"/>
<text x="351.0" y="181.6" font-size="9" textLength="23.2">21–23</text>
<rect x="327.5" y="184.5" width="18" height="12" fill="#68c8ff" stroke="#000" stroke-width="1"/>
<text x="351.0" y="193.6" font-size="9" textLength="23.2">24–26</text>
<rect x="327.5" y="196.5" width="18" height="12" fill="#0090d8" stroke="#000" stroke-width="1"/>
<text x="352.6" y="205.6" font-size="9" textLength="16.5">&gt; 26</text></g>
<rect x="0.5" y="0.5" width="405" height="319" fill="none" stroke="#000" stroke-width="1"/>
</svg>
<svg class="map" style="left:415px;top:0px" width="436" height="60" viewBox="0 0 436 60">
<text class="t1" x="70.8" y="29.7" textLength="286.2" lengthAdjust="spacingAndGlyphs">Maximum Consecutive Dry Days</text>
<text class="t2" x="86.5" y="51.5" textLength="249" lengthAdjust="spacingAndGlyphs" xml:space="preserve">in past 30 days, as of  10 May 2009</text>
</svg>
<svg class="map" style="left:430px;top:61px" width="406" height="320" viewBox="0 0 406 320" shape-rendering="crispEdges">
<rect x="0" y="0" width="406" height="320" fill="#e6e6e6"/>
<rect x="50" y="0" width="12" height="6" fill="#e0d000"/>
<rect x="62" y="0" width="7" height="6" fill="#ffec70"/>
<rect x="69" y="0" width="6" height="6" fill="#e0d000"/>
<rect x="75" y="0" width="6" height="6" fill="#ffec70"/>
<rect x="81" y="0" width="12" height="6" fill="#e0d000"/>
<rect x="93" y="0" width="6" height="6" fill="#c0ffd0"/>
<rect x="99" y="0" width="19" height="6" fill="#ffffc8"/>
<rect x="118" y="0" width="6" height="6" fill="#ffec70"/>
<rect x="124" y="0" width="6" height="6" fill="#e0d000"/>
<rect x="130" y="0" width="6" height="6" fill="#e08800"/>
<rect x="136" y="0" width="6" height="6" fill="#ffec70"/>
<rect x="283" y="0" width="13" height="6" fill="#ffec70"/>
<rect x="44" y="6" width="31" height="6" fill="#e0d000"/>
<rect x="75" y="6" width="12" height="6" fill="#ffec70"/>
<rect x="87" y="6" width="6" height="6" fill="#e0d000"/>
<rect x="93" y="6" width="6" height="6" fill="#c0ffd0"/>
<rect x="99" y="6" width="6" height="6" fill="#e0d000"/>
<rect x="105" y="6" width="7" height="6" fill="#ffec70"/>
<rect x="112" y="6" width="6" height="6" fill="#e0d000"/>
<rect x="118" y="6" width="6" height="6" fill="#ffc090"/>
<rect x="124" y="6" width="6" height="6" fill="#ffec70"/>
<rect x="130" y="6" width="6" height="6" fill="#ffc090"/>
<rect x="32" y="12" width="6" height="6" fill="#e08800"/>
<rect x="38" y="12" width="31" height="6" fill="#ffffc8"/>
<rect x="69" y="12" width="6" height="6" fill="#e0d000"/>
<rect x="75" y="12" width="6" height="6" fill="#ffec70"/>
<rect x="81" y="12" width="18" height="6" fill="#c0ffd0"/>
<rect x="99" y="12" width="6" height="6" fill="#ffffc8"/>
<rect x="105" y="12" width="7" height="6" fill="#ffec70"/>
<rect x="112" y="12" width="6" height="6" fill="#ffffc8"/>
<rect x="118" y="12" width="6" height="6" fill="#ffec70"/>
<rect x="124" y="12" width="6" height="6" fill="#ffffc8"/>
<rect x="130" y="12" width="6" height="6" fill="#ffec70"/>
<rect x="7" y="18" width="25" height="7" fill="#e0d000"/>
<rect x="32" y="18" width="6" height="7" fill="#e08800"/>
<rect x="38" y="18" width="12" height="7" fill="#ffffc8"/>
<rect x="50" y="18" width="25" height="7" fill="#ffec70"/>
<rect x="75" y="18" width="24" height="7" fill="#e0d000"/>
<rect x="99" y="18" width="19" height="7" fill="#ffec70"/>
<rect x="118" y="18" width="6" height="7" fill="#ffc090"/>
<rect x="124" y="18" width="6" height="7" fill="#ffffc8"/>
<rect x="130" y="18" width="6" height="7" fill="#e08800"/>
<rect x="369" y="18" width="6" height="7" fill="#ffffc8"/>
<rect x="1" y="25" width="37" height="6" fill="#e0d000"/>
<rect x="38" y="25" width="6" height="6" fill="#30f840"/>
<rect x="44" y="25" width="37" height="6" fill="#e0d000"/>
<rect x="81" y="25" width="6" height="6" fill="#30f840"/>
<rect x="87" y="25" width="18" height="6" fill="#c0ffd0"/>
<rect x="105" y="25" width="13" height="6" fill="#ffec70"/>
<rect x="118" y="25" width="6" height="6" fill="#ffc090"/>
<rect x="124" y="25" width="6" height="6" fill="#ffec70"/>
<rect x="357" y="25" width="18" height="6" fill="#e0d000"/>
<rect x="375" y="25" width="7" height="6" fill="#c0ffd0"/>
<rect x="382" y="25" width="6" height="6" fill="#ffec70"/>
<rect x="388" y="25" width="12" height="6" fill="#e0d000"/>
<rect x="400" y="25" width="6" height="6" fill="#ffec70"/>
<rect x="1" y="31" width="43" height="6" fill="#e0d000"/>
<rect x="44" y="31" width="12" height="6" fill="#30f840"/>
<rect x="56" y="31" width="25" height="6" fill="#e0d000"/>
<rect x="81" y="31" width="12" height="6" fill="#30f840"/>
<rect x="93" y="31" width="6" height="6" fill="#c0ffd0"/>
<rect x="99" y="31" width="6" height="6" fill="#e0d000"/>
<rect x="105" y="31" width="7" height="6" fill="#ffec70"/>
<rect x="112" y="31" width="12" height="6" fill="#e08800"/>
<rect x="124" y="31" width="6" height="6" fill="#ffa010"/>
<rect x="363" y="31" width="6" height="6" fill="#e0d000"/>
<rect x="369" y="31" width="6" height="6" fill="#c0ffd0"/>
<rect x="375" y="31" width="7" height="6" fill="#e0d000"/>
<rect x="382" y="31" width="12" height="6" fill="#c0ffd0"/>
<rect x="394" y="31" width="6" height="6" fill="#ffec70"/>
<rect x="400" y="31" width="6" height="6" fill="#e0d000"/>
<rect x="1" y="37" width="37" height="6" fill="#e0d000"/>
<rect x="38" y="37" width="6" height="6" fill="#30f840"/>
<rect x="44" y="37" width="12" height="6" fill="#c0ffd0"/>
<rect x="56" y="37" width="6" height="6" fill="#30f840"/>
<rect x="62" y="37" width="19" height="6" fill="#e0d000"/>
<rect x="81" y="37" width="18" height="6" fill="#c0ffd0"/>
<rect x="99" y="37" width="6" height="6" fill="#ffec70"/>
<rect x="105" y="37" width="7" height="6" fill="#e08800"/>
<rect x="112" y="37" width="6" height="6" fill="#ffec70"/>
<rect x="118" y="37" width="6" height="6" fill="#e08800"/>
<rect x="124" y="37" width="6" height="6" fill="#ffc090"/>
<rect x="369" y="37" width="13" height="6" fill="#c0ffd0"/>
<rect x="382" y="37" width="6" height="6" fill="#e0d000"/>
<rect x="388" y="37" width="6" height="6" fill="#ffffc8"/>
<rect x="394" y="37" width="12" height="6" fill="#e0d000"/>
<rect x="1" y="43" width="31" height="6" fill="#e0d000"/>
<rect x="32" y="43" width="12" height="6" fill="#c0ffd0"/>
<rect x="44" y="43" width="6" height="6" fill="#30f840"/>
<rect x="50" y="43" width="6" height="6" fill="#ffec70"/>
<rect x="56" y="43" width="31" height="6" fill="#e0d000"/>
<rect x="87" y="43" width="6" height="6" fill="#c0ffd0"/>
<rect x="93" y="43" width="6" height="6" fill="#e0d000"/>
<rect x="99" y="43" width="6" height="6" fill="#e08800"/>
<rect x="105" y="43" width="7" height="6" fill="#e0d000"/>
<rect x="112" y="43" width="6" height="6" fill="#c0ffd0"/>
<rect x="118" y="43" width="6" height="6" fill="#e08800"/>
<rect x="388" y="43" width="6" height="6" fill="#ffec70"/>
<rect x="1" y="49" width="6" height="6" fill="#e0d000"/>
<rect x="7" y="49" width="37" height="6" fill="#30f840"/>
<rect x="44" y="49" width="12" height="6" fill="#c0ffd0"/>
<rect x="56" y="49" width="25" height="6" fill="#e0d000"/>
<rect x="81" y="49" width="12" height="6" fill="#ffffc8"/>
<rect x="93" y="49" width="12" height="6" fill="#e0d000"/>
<rect x="105" y="49" width="7" height="6" fill="#c0ffd0"/>
<rect x="112" y="49" width="12" height="6" fill="#30f840"/>
<rect x="1" y="55" width="6" height="6" fill="#e0d000"/>
<rect x="7" y="55" width="31" height="6" fill="#30f840"/>
<rect x="38" y="55" width="6" height="6" fill="#c0ffd0"/>
<rect x="44" y="55" width="6" height="6" fill="#30f840"/>
<rect x="50" y="55" width="12" height="6" fill="#c0ffd0"/>
<rect x="62" y="55" width="13" height="6" fill="#e0d000"/>
<rect x="75" y="55" width="6" height="6" fill="#c0ffd0"/>
<rect x="81" y="55" width="6" height="6" fill="#ffffc8"/>
<rect x="87" y="55" width="12" height="6" fill="#e0d000"/>
<rect x="99" y="55" width="6" height="6" fill="#ffffc8"/>
<rect x="105" y="55" width="7" height="6" fill="#c0ffd0"/>
<rect x="112" y="55" width="6" height="6" fill="#e0d000"/>
<rect x="1" y="61" width="6" height="7" fill="#30f840"/>
<rect x="7" y="61" width="6" height="7" fill="#0cc00c"/>
<rect x="13" y="61" width="13" height="7" fill="#30f840"/>
<rect x="26" y="61" width="12" height="7" fill="#c0ffd0"/>
<rect x="38" y="61" width="12" height="7" fill="#e0d000"/>
<rect x="50" y="61" width="12" height="7" fill="#c0ffd0"/>
<rect x="62" y="61" width="13" height="7" fill="#e0d000"/>
<rect x="75" y="61" width="12" height="7" fill="#30f840"/>
<rect x="87" y="61" width="6" height="7" fill="#e0d000"/>
<rect x="93" y="61" width="6" height="7" fill="#c0ffd0"/>
<rect x="99" y="61" width="6" height="7" fill="#e0d000"/>
<rect x="105" y="61" width="7" height="7" fill="#30f840"/>
<rect x="112" y="61" width="6" height="7" fill="#e0d000"/>
<rect x="118" y="61" width="6" height="7" fill="#ffec70"/>
<rect x="1" y="68" width="6" height="6" fill="#e0d000"/>
<rect x="7" y="68" width="19" height="6" fill="#30f840"/>
<rect x="26" y="68" width="6" height="6" fill="#0cc00c"/>
<rect x="32" y="68" width="18" height="6" fill="#c0ffd0"/>
<rect x="50" y="68" width="31" height="6" fill="#e0d000"/>
<rect x="81" y="68" width="12" height="6" fill="#c0ffd0"/>
<rect x="93" y="68" width="6" height="6" fill="#ffec70"/>
<rect x="99" y="68" width="6" height="6" fill="#c0ffd0"/>
<rect x="105" y="68" width="13" height="6" fill="#e0d000"/>
<rect x="1" y="74" width="12" height="6" fill="#ffec70"/>
<rect x="13" y="74" width="13" height="6" fill="#c0ffd0"/>
<rect x="26" y="74" width="12" height="6" fill="#30f840"/>
<rect x="38" y="74" width="12" height="6" fill="#c0ffd0"/>
<rect x="50" y="74" width="31" height="6" fill="#e0d000"/>
<rect x="81" y="74" width="6" height="6" fill="#ffec70"/>
<rect x="87" y="74" width="6" height="6" fill="#e0d000"/>
<rect x="93" y="74" width="6" height="6" fill="#ffec70"/>
<rect x="99" y="74" width="6" height="6" fill="#c0ffd0"/>
<rect x="105" y="74" width="13" height="6" fill="#e0d000"/>
<rect x="155" y="74" width="12" height="6" fill="#ffec70"/>
<rect x="1" y="80" width="12" height="6" fill="#ffec70"/>
<rect x="13" y="80" width="7" height="6" fill="#e0d000"/>
<rect x="20" y="80" width="18" height="6" fill="#c0ffd0"/>
<rect x="38" y="80" width="31" height="6" fill="#e0d000"/>
<rect x="69" y="80" width="6" height="6" fill="#ffec70"/>
<rect x="75" y="80" width="18" height="6" fill="#e0d000"/>
<rect x="93" y="80" width="19" height="6" fill="#ffec70"/>
<rect x="173" y="80" width="6" height="6" fill="#ffffc8"/>
<rect x="1" y="86" width="6" height="6" fill="#ffec70"/>
<rect x="7" y="86" width="6" height="6" fill="#c0ffd0"/>
<rect x="13" y="86" width="7" height="6" fill="#ffffc8"/>
<rect x="20" y="86" width="6" height="6" fill="#ffec70"/>
<rect x="26" y="86" width="12" height="6" fill="#e0d000"/>
<rect x="38" y="86" width="6" height="6" fill="#30f840"/>
<rect x="44" y="86" width="6" height="6" fill="#e0d000"/>
<rect x="50" y="86" width="6" height="6" fill="#ffec70"/>
<rect x="56" y="86" width="13" height="6" fill="#e0d000"/>
<rect x="69" y="86" width="12" height="6" fill="#30f840"/>
<rect x="81" y="86" width="12" height="6" fill="#e0d000"/>
<rect x="93" y="86" width="6" height="6" fill="#ffec70"/>
<rect x="99" y="86" width="13" height="6" fill="#e0d000"/>
<rect x="112" y="86" width="6" height="6" fill="#ffec70"/>
<rect x="118" y="86" width="12" height="6" fill="#e0d000"/>
<rect x="130" y="86" width="6" height="6" fill="#e08800"/>
<rect x="136" y="86" width="6" height="6" fill="#ffec70"/>
<rect x="142" y="86" width="13" height="6" fill="#e0d000"/>
<rect x="155" y="86" width="6" height="6" fill="#ffec70"/>
<rect x="161" y="86" width="6" height="6" fill="#ffffc8"/>
<rect x="167" y="86" width="6" height="6" fill="#ffec70"/>
<rect x="173" y="86" width="31" height="6" fill="#e0d000"/>
<rect x="204" y="86" width="12" height="6" fill="#ffec70"/>
<rect x="1" y="92" width="12" height="6" fill="#ffec70"/>
<rect x="13" y="92" width="7" height="6" fill="#e0d000"/>
<rect x="20" y="92" width="12" height="6" fill="#ffec70"/>
<rect x="32" y="92" width="6" height="6" fill="#0cc00c"/>
<rect x="38" y="92" width="6" height="6" fill="#c0ffd0"/>
<rect x="44" y="92" width="6" height="6" fill="#e0d000"/>
<rect x="50" y="92" width="6" height="6" fill="#30f840"/>
<rect x="56" y="92" width="13" height="6" fill="#e0d000"/>
<rect x="69" y="92" width="18" height="6" fill="#30f840"/>
<rect x="87" y="92" width="12" height="6" fill="#e0d000"/>
<rect x="99" y="92" width="6" height="6" fill="#ffec70"/>
<rect x="105" y="92" width="7" height="6" fill="#e0d000"/>
<rect x="112" y="92" width="6" height="6" fill="#c0ffd0"/>
<rect x="118" y="92" width="6" height="6" fill="#e0d000"/>
<rect x="124" y="92" width="6" height="6" fill="#e08800"/>
<rect x="130" y="92" width="6" height="6" fill="#e0d000"/>
<rect x="136" y="92" width="12" height="6" fill="#c0ffd0"/>
<rect x="148" y="92" width="7" height="6" fill="#30f840"/>
<rect x="155" y="92" width="6" height="6" fill="#c0ffd0"/>
<rect x="161" y="92" width="12" height="6" fill="#ffec70"/>
<rect x="173" y="92" width="6" height="6" fill="#30f840"/>
<rect x="179" y="92" width="6" height="6" fill="#e0d000"/>
<rect x="185" y="92" width="6" height="6" fill="#c0ffd0"/>
<rect x="191" y="92" width="6" height="6" fill="#e0d000"/>
<rect x="197" y="92" width="13" height="6" fill="#c0ffd0"/>
<rect x="210" y="92" width="12" height="6" fill="#ffec70"/>
<rect x="1" y="98" width="12" height="6" fill="#ffec70"/>
<rect x="13" y="98" width="7" height="6" fill="#e0d000"/>
<rect x="20" y="98" width="12" height="6" fill="#30f840"/>
<rect x="32" y="98" width="6" height="6" fill="#c0ffd0"/>
<rect x="38" y="98" width="6" height="6" fill="#30f840"/>
<rect x="44" y="98" width="6" height="6" fill="#ffec70"/>
<rect x="50" y="98" width="19" height="6" fill="#30f840"/>
<rect x="69" y="98" width="18" height="6" fill="#c0ffd0"/>
<rect x="87" y="98" width="6" height="6" fill="#e0d000"/>
<rect x="93" y="98" width="6" height="6" fill="#ffec70"/>
<rect x="99" y="98" width="6" height="6" fill="#e08800"/>
<rect x="105" y="98" width="19" height="6" fill="#ffec70"/>
<rect x="124" y="98" width="6" height="6" fill="#ffffc8"/>
<rect x="130" y="98" width="6" height="6" fill="#e08800"/>
<rect x="136" y="98" width="6" height="6" fill="#ffffc8"/>
<rect x="142" y="98" width="6" height="6" fill="#ffec70"/>
<rect x="148" y="98" width="7" height="6" fill="#ffffc8"/>
<rect x="155" y="98" width="12" height="6" fill="#ffec70"/>
<rect x="167" y="98" width="6" height="6" fill="#ffffc8"/>
<rect x="173" y="98" width="12" height="6" fill="#ffec70"/>
<rect x="185" y="98" width="31" height="6" fill="#e0d000"/>
<rect x="216" y="98" width="18" height="6" fill="#ffec70"/>
<rect x="1" y="104" width="19" height="6" fill="#ffec70"/>
<rect x="20" y="104" width="6" height="6" fill="#c0ffd0"/>
<rect x="26" y="104" width="6" height="6" fill="#30f840"/>
<rect x="32" y="104" width="6" height="6" fill="#c0ffd0"/>
<rect x="38" y="104" width="12" height="6" fill="#ffec70"/>
<rect x="50" y="104" width="6" height="6" fill="#e0d000"/>
<rect x="56" y="104" width="6" height="6" fill="#30f840"/>
<rect x="62" y="104" width="13" height="6" fill="#e0d000"/>
<rect x="75" y="104" width="6" height="6" fill="#c0ffd0"/>
<rect x="81" y="104" width="12" height="6" fill="#ffec70"/>
<rect x="93" y="104" width="6" height="6" fill="#e08800"/>
<rect x="99" y="104" width="13" height="6" fill="#ffec70"/>
<rect x="112" y="104" width="6" height="6" fill="#ffffc8"/>
<rect x="118" y="104" width="6" height="6" fill="#ffec70"/>
<rect x="124" y="104" width="6" height="6" fill="#ffffc8"/>
<rect x="130" y="104" width="6" height="6" fill="#e08800"/>
<rect x="136" y="104" width="6" height="6" fill="#ffec70"/>
<rect x="142" y="104" width="6" height="6" fill="#c0ffd0"/>
<rect x="148" y="104" width="7" height="6" fill="#e0d000"/>
<rect x="155" y="104" width="6" height="6" fill="#c0ffd0"/>
<rect x="161" y="104" width="6" height="6" fill="#ffec70"/>
<rect x="167" y="104" width="6" height="6" fill="#ffffc8"/>
<rect x="173" y="104" width="6" height="6" fill="#e0d000"/>
<rect x="179" y="104" width="37" height="6" fill="#ffec70"/>
<rect x="216" y="104" width="24" height="6" fill="#e0d000"/>
<rect x="7" y="110" width="25" height="7" fill="#ffec70"/>
<rect x="32" y="110" width="24" height="7" fill="#30f840"/>
<rect x="56" y="110" width="6" height="7" fill="#c0ffd0"/>
<rect x="62" y="110" width="56" height="7" fill="#ffec70"/>
<rect x="118" y="110" width="6" height="7" fill="#30f840"/>
<rect x="124" y="110" width="6" height="7" fill="#e0d000"/>
<rect x="130" y="110" width="6" height="7" fill="#ffec70"/>
<rect x="136" y="110" width="6" height="7" fill="#c0ffd0"/>
<rect x="142" y="110" width="6" height="7" fill="#30f840"/>
<rect x="148" y="110" width="19" height="7" fill="#c0ffd0"/>
<rect x="167" y="110" width="6" height="7" fill="#ffec70"/>
<rect x="173" y="110" width="6" height="7" fill="#c0ffd0"/>
<rect x="179" y="110" width="31" height="7" fill="#ffec70"/>
<rect x="210" y="110" width="18" height="7" fill="#e0d000"/>
<rect x="228" y="110" width="19" height="7" fill="#ffec70"/>
<rect x="13" y="117" width="31" height="6" fill="#ffec70"/>
<rect x="44" y="117" width="6" height="6" fill="#30f840"/>
<rect x="50" y="117" width="6" height="6" fill="#c0ffd0"/>
<rect x="56" y="117" width="6" height="6" fill="#30f840"/>
<rect x="62" y="117" width="7" height="6" fill="#c0ffd0"/>
<rect x="69" y="117" width="6" height="6" fill="#30f840"/>
<rect x="75" y="117" width="24" height="6" fill="#ffec70"/>
<rect x="99" y="117" width="6" height="6" fill="#c0ffd0"/>
<rect x="105" y="117" width="7" height="6" fill="#e0d000"/>
<rect x="112" y="117" width="24" height="6" fill="#ffec70"/>
<rect x="136" y="117" width="19" height="6" fill="#c0ffd0"/>
<rect x="155" y="117" width="73" height="6" fill="#ffec70"/>
<rect x="228" y="117" width="6" height="6" fill="#e0d000"/>
<rect x="234" y="117" width="6" height="6" fill="#ffec70"/>
<rect x="20" y="123" width="36" height="6" fill="#ffec70"/>
<rect x="56" y="123" width="6" height="6" fill="#e0d000"/>
<rect x="62" y="123" width="25" height="6" fill="#ffec70"/>
<rect x="87" y="123" width="6" height="6" fill="#c0ffd0"/>
<rect x="93" y="123" width="31" height="6" fill="#30f840"/>
<rect x="124" y="123" width="6" height="6" fill="#c0ffd0"/>
<rect x="130" y="123" width="6" height="6" fill="#e0d000"/>
<rect x="136" y="123" width="12" height="6" fill="#c0ffd0"/>
<rect x="148" y="123" width="62" height="6" fill="#ffec70"/>
<rect x="210" y="123" width="6" height="6" fill="#ffffc8"/>
<rect x="216" y="123" width="18" height="6" fill="#e0d000"/>
<rect x="234" y="123" width="13" height="6" fill="#ffec70"/>
<rect x="26" y="129" width="6" height="6" fill="#e0d000"/>
<rect x="32" y="129" width="43" height="6" fill="#ffffc8"/>
<rect x="75" y="129" width="18" height="6" fill="#c0ffd0"/>
<rect x="93" y="129" width="31" height="6" fill="#30f840"/>
<rect x="124" y="129" width="18" height="6" fill="#e0d000"/>
<rect x="142" y="129" width="13" height="6" fill="#c0ffd0"/>
<rect x="155" y="129" width="36" height="6" fill="#ffec70"/>
<rect x="191" y="129" width="13" height="6" fill="#ffffc8"/>
<rect x="204" y="129" width="6" height="6" fill="#ffec70"/>
<rect x="210" y="129" width="18" height="6" fill="#e0d000"/>
<rect x="228" y="129" width="6" height="6" fill="#ffec70"/>
<rect x="234" y="129" width="6" height="6" fill="#e0d000"/>
<rect x="38" y="135" width="37" height="6" fill="#ffffc8"/>
<rect x="75" y="135" width="12" height="6" fill="#c0ffd0"/>
<rect x="87" y="135" width="18" height="6" fill="#30f840"/>
<rect x="105" y="135" width="19" height="6" fill="#c0ffd0"/>
<rect x="124" y="135" width="12" height="6" fill="#ffec70"/>
<rect x="136" y="135" width="12" height="6" fill="#ffffc8"/>
<rect x="148" y="135" width="13" height="6" fill="#ffec70"/>
<rect x="161" y="135" width="6" height="6" fill="#e0d000"/>
<rect x="167" y="135" width="24" height="6" fill="#ffec70"/>
<rect x="191" y="135" width="6" height="6" fill="#ffffc8"/>
<rect x="197" y="135" width="19" height="6" fill="#ffec70"/>
<rect x="216" y="135" width="12" height="6" fill="#e0d000"/>
<rect x="228" y="135" width="12" height="6" fill="#ffec70"/>
<rect x="69" y="141" width="12" height="6" fill="#ffec70"/>
<rect x="81" y="141" width="24" height="6" fill="#c0ffd0"/>
<rect x="105" y="141" width="13" height="6" fill="#ffffc8"/>
<rect x="118" y="141" width="12" height="6" fill="#e08800"/>
<rect x="130" y="141" width="18" height="6" fill="#ffa010"/>
<rect x="148" y="141" width="25" height="6" fill="#ffec70"/>
<rect x="173" y="141" width="6" height="6" fill="#e08800"/>
<rect x="179" y="141" width="12" height="6" fill="#ffec70"/>
<rect x="191" y="141" width="6" height="6" fill="#e0d000"/>
<rect x="197" y="141" width="13" height="6" fill="#ffec70"/>
<rect x="210" y="141" width="6" height="6" fill="#e0d000"/>
<rect x="216" y="141" width="18" height="6" fill="#ffec70"/>
<rect x="87" y="147" width="6" height="6" fill="#c0ffd0"/>
<rect x="93" y="147" width="6" height="6" fill="#30f840"/>
<rect x="99" y="147" width="6" height="6" fill="#ffec70"/>
<rect x="105" y="147" width="7" height="6" fill="#c0ffd0"/>
<rect x="112" y="147" width="6" height="6" fill="#30f840"/>
<rect x="118" y="147" width="6" height="6" fill="#ffffc8"/>
<rect x="124" y="147" width="18" height="6" fill="#e08800"/>
<rect x="142" y="147" width="13" height="6" fill="#ffa010"/>
<rect x="155" y="147" width="6" height="6" fill="#ffec70"/>
<rect x="161" y="147" width="6" height="6" fill="#e08800"/>
<rect x="167" y="147" width="6" height="6" fill="#ffec70"/>
<rect x="173" y="147" width="18" height="6" fill="#e08800"/>
<rect x="191" y="147" width="13" height="6" fill="#e0d000"/>
<rect x="204" y="147" width="30" height="6" fill="#ffec70"/>
<rect x="105" y="153" width="13" height="7" fill="#ffec70"/>
<rect x="118" y="153" width="18" height="7" fill="#e08800"/>
<rect x="136" y="153" width="25" height="7" fill="#ffec70"/>
<rect x="161" y="153" width="6" height="7" fill="#e08800"/>
<rect x="167" y="153" width="6" height="7" fill="#c0ffd0"/>
<rect x="173" y="153" width="6" height="7" fill="#ffec70"/>
<rect x="179" y="153" width="6" height="7" fill="#e08800"/>
<rect x="185" y="153" width="43" height="7" fill="#ffec70"/>
<rect x="228" y="153" width="6" height="7" fill="#e0d000"/>
<rect x="130" y="160" width="18" height="6" fill="#ffec70"/>
<rect x="148" y="160" width="7" height="6" fill="#ffa010"/>
<rect x="155" y="160" width="18" height="6" fill="#ffec70"/>
<rect x="173" y="160" width="18" height="6" fill="#e08800"/>
<rect x="191" y="160" width="43" height="6" fill="#ffec70"/>
<rect x="136" y="166" width="6" height="6" fill="#ffec70"/>
<rect x="142" y="166" width="6" height="6" fill="#e0d000"/>
<rect x="148" y="166" width="13" height="6" fill="#ffffc8"/>
<rect x="161" y="166" width="6" height="6" fill="#ffc090"/>
<rect x="167" y="166" width="61" height="6" fill="#ffec70"/>
<rect x="228" y="166" width="6" height="6" fill="#e0d000"/>
<rect x="142" y="172" width="13" height="6" fill="#ffec70"/>
<rect x="155" y="172" width="12" height="6" fill="#ffc090"/>
<rect x="167" y="172" width="6" height="6" fill="#ffec70"/>
<rect x="173" y="172" width="12" height="6" fill="#ffa010"/>
<rect x="185" y="172" width="6" height="6" fill="#e08800"/>
<rect x="191" y="172" width="37" height="6" fill="#ffec70"/>
<rect x="228" y="172" width="6" height="6" fill="#e0d000"/>
<rect x="148" y="178" width="7" height="6" fill="#e08800"/>
<rect x="155" y="178" width="12" height="6" fill="#ffa010"/>
<rect x="167" y="178" width="6" height="6" fill="#e08800"/>
<rect x="173" y="178" width="6" height="6" fill="#ffc090"/>
<rect x="179" y="178" width="6" height="6" fill="#e08800"/>
<rect x="185" y="178" width="25" height="6" fill="#ffec70"/>
<rect x="210" y="178" width="6" height="6" fill="#e0d000"/>
<rect x="216" y="178" width="6" height="6" fill="#c0ffd0"/>
<rect x="222" y="178" width="12" height="6" fill="#e0d000"/>
<rect x="155" y="184" width="12" height="6" fill="#ffa010"/>
<rect x="167" y="184" width="12" height="6" fill="#ffc090"/>
<rect x="179" y="184" width="6" height="6" fill="#ffa010"/>
<rect x="185" y="184" width="6" height="6" fill="#ffffc8"/>
<rect x="191" y="184" width="19" height="6" fill="#ffec70"/>
<rect x="210" y="184" width="24" height="6" fill="#e0d000"/>
<rect x="161" y="190" width="6" height="6" fill="#e08800"/>
<rect x="167" y="190" width="43" height="6" fill="#ffec70"/>
<rect x="210" y="190" width="18" height="6" fill="#e0d000"/>
<rect x="228" y="190" width="6" height="6" fill="#ffec70"/>
<rect x="167" y="196" width="43" height="7" fill="#ffec70"/>
<rect x="210" y="196" width="6" height="7" fill="#e0d000"/>
<rect x="216" y="196" width="6" height="7" fill="#ffec70"/>
<rect x="222" y="196" width="6" height="7" fill="#e0d000"/>
<rect x="173" y="203" width="24" height="6" fill="#ffec70"/>
<rect x="197" y="203" width="7" height="6" fill="#c0ffd0"/>
<rect x="204" y="203" width="12" height="6" fill="#e0d000"/>
<rect x="216" y="203" width="12" height="6" fill="#c0ffd0"/>
<rect x="173" y="209" width="12" height="6" fill="#ffec70"/>
<rect x="185" y="209" width="6" height="6" fill="#30f840"/>
<rect x="191" y="209" width="6" height="6" fill="#e0d000"/>
<rect x="197" y="209" width="13" height="6" fill="#c0ffd0"/>
<rect x="210" y="209" width="6" height="6" fill="#e0d000"/>
<rect x="216" y="209" width="6" height="6" fill="#ffec70"/>
<rect x="222" y="209" width="6" height="6" fill="#c0ffd0"/>
<rect x="228" y="209" width="6" height="6" fill="#ffec70"/>
<rect x="173" y="215" width="18" height="6" fill="#ffec70"/>
<rect x="191" y="215" width="13" height="6" fill="#e0d000"/>
<rect x="204" y="215" width="6" height="6" fill="#c0ffd0"/>
<rect x="210" y="215" width="12" height="6" fill="#e0d000"/>
<rect x="222" y="215" width="6" height="6" fill="#c0ffd0"/>
<rect x="228" y="215" width="6" height="6" fill="#30f840"/>
<rect x="173" y="221" width="6" height="6" fill="#e08800"/>
<rect x="179" y="221" width="6" height="6" fill="#ffec70"/>
<rect x="185" y="221" width="12" height="6" fill="#e0d000"/>
<rect x="197" y="221" width="31" height="6" fill="#c0ffd0"/>
<rect x="228" y="221" width="6" height="6" fill="#30f840"/>
<rect x="234" y="221" width="6" height="6" fill="#e0d000"/>
<rect x="173" y="227" width="6" height="6" fill="#c0ffd0"/>
<rect x="179" y="227" width="6" height="6" fill="#ffec70"/>
<rect x="185" y="227" width="6" height="6" fill="#c0ffd0"/>
<rect x="191" y="227" width="13" height="6" fill="#e0d000"/>
<rect x="204" y="227" width="12" height="6" fill="#c0ffd0"/>
<rect x="216" y="227" width="6" height="6" fill="#30f840"/>
<rect x="222" y="227" width="6" height="6" fill="#c0ffd0"/>
<rect x="228" y="227" width="19" height="6" fill="#30f840"/>
<rect x="179" y="233" width="37" height="6" fill="#c0ffd0"/>
<rect x="216" y="233" width="6" height="6" fill="#0cc00c"/>
<rect x="222" y="233" width="6" height="6" fill="#30f840"/>
<rect x="228" y="233" width="12" height="6" fill="#c0ffd0"/>
<rect x="240" y="233" width="13" height="6" fill="#30f840"/>
<rect x="191" y="239" width="13" height="6" fill="#c0ffd0"/>
<rect x="204" y="239" width="55" height="6" fill="#30f840"/>
<rect x="326" y="239" width="25" height="6" fill="#e0d000"/>
<rect x="210" y="245" width="6" height="7" fill="#30f840"/>
<rect x="216" y="245" width="12" height="7" fill="#c0ffd0"/>
<rect x="228" y="245" width="37" height="7" fill="#30f840"/>
<rect x="314" y="245" width="31" height="7" fill="#e0d000"/>
<rect x="345" y="245" width="6" height="7" fill="#c0ffd0"/>
<rect x="351" y="245" width="6" height="7" fill="#e0d000"/>
<rect x="357" y="245" width="12" height="7" fill="#c0ffd0"/>
<rect x="222" y="252" width="6" height="6" fill="#30f840"/>
<rect x="228" y="252" width="6" height="6" fill="#c0ffd0"/>
<rect x="234" y="252" width="6" height="6" fill="#30f840"/>
<rect x="240" y="252" width="7" height="6" fill="#0cc00c"/>
<rect x="247" y="252" width="12" height="6" fill="#30f840"/>
<rect x="259" y="252" width="6" height="6" fill="#c0ffd0"/>
<rect x="265" y="252" width="12" height="6" fill="#30f840"/>
<rect x="302" y="252" width="6" height="6" fill="#e0d000"/>
<rect x="308" y="252" width="12" height="6" fill="#c0ffd0"/>
<rect x="320" y="252" width="19" height="6" fill="#e0d000"/>
<rect x="339" y="252" width="30" height="6" fill="#c0ffd0"/>
<rect x="369" y="252" width="6" height="6" fill="#e0d000"/>
<rect x="228" y="258" width="6" height="6" fill="#30f840"/>
<rect x="234" y="258" width="19" height="6" fill="#0cc00c"/>
<rect x="253" y="258" width="12" height="6" fill="#30f840"/>
<rect x="265" y="258" width="12" height="6" fill="#c0ffd0"/>
<rect x="277" y="258" width="6" height="6" fill="#30f840"/>
<rect x="283" y="258" width="7" height="6" fill="#c0ffd0"/>
<rect x="290" y="258" width="18" height="6" fill="#e0d000"/>
<rect x="308" y="258" width="18" height="6" fill="#c0ffd0"/>
<rect x="326" y="258" width="19" height="6" fill="#e0d000"/>
<rect x="345" y="258" width="6" height="6" fill="#c0ffd0"/>
<rect x="351" y="258" width="6" height="6" fill="#e0d000"/>
<rect x="357" y="258" width="6" height="6" fill="#c0ffd0"/>
<rect x="363" y="258" width="19" height="6" fill="#e0d000"/>
<rect x="400" y="258" width="6" height="6" fill="#e0d000"/>
<rect x="228" y="264" width="49" height="6" fill="#30f840"/>
<rect x="277" y="264" width="6" height="6" fill="#c0ffd0"/>
<rect x="283" y="264" width="7" height="6" fill="#e0d000"/>
<rect x="290" y="264" width="36" height="6" fill="#c0ffd0"/>
<rect x="326" y="264" width="6" height="6" fill="#e0d000"/>
<rect x="345" y="264" width="30" height="6" fill="#e0d000"/>
<rect x="375" y="264" width="13" height="6" fill="#c0ffd0"/>
<rect x="394" y="264" width="12" height="6" fill="#e0d000"/>
<rect x="228" y="270" width="37" height="6" fill="#30f840"/>
<rect x="265" y="270" width="6" height="6" fill="#0cc00c"/>
<rect x="271" y="270" width="19" height="6" fill="#c0ffd0"/>
<rect x="290" y="270" width="12" height="6" fill="#e0d000"/>
<rect x="302" y="270" width="6" height="6" fill="#ffec70"/>
<rect x="308" y="270" width="6" height="6" fill="#c0ffd0"/>
<rect x="314" y="270" width="6" height="6" fill="#e0d000"/>
<rect x="351" y="270" width="6" height="6" fill="#ffec70"/>
<rect x="357" y="270" width="6" height="6" fill="#e0d000"/>
<rect x="363" y="270" width="6" height="6" fill="#30f840"/>
<rect x="369" y="270" width="19" height="6" fill="#c0ffd0"/>
<rect x="388" y="270" width="18" height="6" fill="#e0d000"/>
<rect x="247" y="276" width="6" height="6" fill="#30f840"/>
<rect x="265" y="276" width="6" height="6" fill="#30f840"/>
<rect x="271" y="276" width="19" height="6" fill="#c0ffd0"/>
<rect x="290" y="276" width="18" height="6" fill="#e0d000"/>
<rect x="308" y="276" width="6" height="6" fill="#c0ffd0"/>
<rect x="357" y="276" width="6" height="6" fill="#e0d000"/>
<rect x="363" y="276" width="6" height="6" fill="#30f840"/>
<rect x="369" y="276" width="13" height="6" fill="#c0ffd0"/>
<rect x="382" y="276" width="6" height="6" fill="#30f840"/>
<rect x="388" y="276" width="6" height="6" fill="#c0ffd0"/>
<rect x="394" y="276" width="12" height="6" fill="#30f840"/>
<rect x="277" y="282" width="6" height="6" fill="#30f840"/>
<rect x="283" y="282" width="13" height="6" fill="#c0ffd0"/>
<rect x="296" y="282" width="24" height="6" fill="#e0d000"/>
<rect x="357" y="282" width="37" height="6" fill="#c0ffd0"/>
<rect x="394" y="282" width="12" height="6" fill="#30f840"/>
<rect x="271" y="288" width="25" height="7" fill="#30f840"/>
<rect x="296" y="288" width="6" height="7" fill="#e0d000"/>
<rect x="302" y="288" width="6" height="7" fill="#c0ffd0"/>
<rect x="308" y="288" width="12" height="7" fill="#e0d000"/>
<rect x="357" y="288" width="18" height="7" fill="#c0ffd0"/>
<rect x="375" y="288" width="7" height="7" fill="#30f840"/>
<rect x="382" y="288" width="24" height="7" fill="#c0ffd0"/>
<rect x="271" y="295" width="12" height="6" fill="#30f840"/>
<rect x="296" y="295" width="6" height="6" fill="#e0d000"/>
<rect x="302" y="295" width="6" height="6" fill="#c0ffd0"/>
<rect x="308" y="295" width="6" height="6" fill="#e0d000"/>
<rect x="314" y="295" width="6" height="6" fill="#ffffc8"/>
<rect x="363" y="295" width="6" height="6" fill="#c0ffd0"/>
<rect x="369" y="295" width="6" height="6" fill="#0cc00c"/>
<rect x="375" y="295" width="7" height="6" fill="#30f840"/>
<rect x="382" y="295" width="12" height="6" fill="#c0ffd0"/>
<rect x="394" y="295" width="6" height="6" fill="#30f840"/>
<rect x="400" y="295" width="6" height="6" fill="#0cc00c"/>
<rect x="296" y="301" width="6" height="6" fill="#e0d000"/>
<rect x="302" y="301" width="6" height="6" fill="#c0ffd0"/>
<rect x="369" y="301" width="13" height="6" fill="#30f840"/>
<rect x="382" y="301" width="6" height="6" fill="#0cc00c"/>
<rect x="388" y="301" width="6" height="6" fill="#30f840"/>
<rect x="394" y="301" width="12" height="6" fill="#0cc00c"/>
<rect x="375" y="307" width="13" height="6" fill="#0cc00c"/>
<rect x="388" y="307" width="6" height="6" fill="#30f840"/>
<rect x="394" y="307" width="12" height="6" fill="#0cc00c"/>
<rect x="375" y="313" width="31" height="6" fill="#0cc00c"/>
<g fill="none" stroke="#000" stroke-width="1" shape-rendering="crispEdges"><path d="M1.0 25.4 L7.3 22.2 L16.9 19.8 L27.2 21.0 L34.3 17.8 L42.3 13.5 L48.6 8.7 L55.0 3.2 L56.9 0.8"/>
<path d="M27.2 21.0 L30.4 24.6 L37.5 24.1 L43.1 20.3 L43.9 17.8 L39.1 17.5 L32.7 19.0 L27.2 21.0"/>
<path d="M116.6 56.0 L117.7 60.3 L118.1 66.7 L115.3 71.4 L110.5 77.8 L104.2 83.3 L100.2 87.0 L105.8 90.5 L108.9 92.9 L110.5 88.9 L115.3 91.3 L119.3 92.9 L126.4 89.7 L132.7 88.1 L136.1 88.9"/>
<path d="M95.9 41.6 L51.0 41.6 L51.0 55.2 L39.1 55.2 L43.9 61.1 L55.0 68.3 L58.9 73.8 L64.5 76.2 L63.7 84.1 L31.2 84.1 L24.8 95.2 L20.0 104.0 L22.4 109.5 L20.8 117.5"/>
<path d="M95.9 41.6 L94.7 63.5 L93.9 87.0 L100.2 87.0"/>
<path d="M108.9 92.9 L115.3 95.2 L102.6 104.8 L94.7 108.7 L93.9 114.3 L95.4 119.0 L92.3 123.8 L85.1 125.9"/>
<path d="M1.0 104.0 L7.3 109.5 L15.3 119.0"/>
<path d="M4.2 106.0 L10.5 113.9 L20.0 121.9 L29.6 129.0 L39.1 134.6 L47.0 137.0 L61.3 137.4 L70.8 140.6 L83.5 146.5 L94.7 149.7 L105.8 154.4 L115.3 155.5 L125.6 155.5"/>
<path d="M20.8 109.2 L20.8 113.9 L21.6 120.3 L20.0 121.9"/>
<path d="M70.8 140.6 L75.6 134.6 L83.5 129.8 L85.1 125.8 L91.5 124.3 L95.4 121.1"/>
<path d="M101.8 106.0 L94.7 109.2 L93.4 113.1 L95.9 117.9 L95.4 121.1"/>
<path d="M91.5 124.3 L97.8 126.6 L102.6 131.4 L112.1 137.7 L119.3 136.2 L126.4 137.7"/>
<path d="M163.6 140.1 L164.6 138.5 L170.9 133.8 L177.3 138.5 L178.9 135.4 L186.8 130.6 L192.3 124.3 L194.7 118.7 L199.5 115.5 L204.3 117.9 L209.0 119.5 L218.5 117.1 L228.1 114.7 L235.2 111.6 L240.0 110.8"/>
<path d="M237.6 106.0 L240.8 110.8 L240.0 115.5 L240.8 125.0 L237.6 131.4 L234.4 137.7 L233.1 147.3 L233.1 166.3 L232.0 172.7 L228.9 175.8 L229.7 185.4 L229.7 191.7 L226.5 196.5 L224.1 201.2 L225.7 207.6"/>
<path d="M154.7 181.9 L158.2 185.4 L164.6 191.7 L172.5 199.7 L178.1 205.2 L180.4 207.6"/>
<path d="M180.4 204.4 L183.6 205.2 L188.4 207.6 L197.9 210.0 L204.3 206.8 L209.0 208.4 L215.4 211.6 L221.7 214.7 L228.9 214.7 L229.7 212.3"/>
<path d="M178.1 207.6 L174.9 210.8 L178.9 215.5 L176.5 221.9 L174.9 226.6 L175.7 231.9"/>
<path d="M175.7 208.9 L178.1 213.0 L181.2 217.8 L176.5 222.6 L175.7 226.5 L178.1 232.9 L182.0 236.1 L187.6 236.9 L190.8 240.0 L193.9 243.2 L197.1 241.6 L200.3 236.1 L196.3 232.1 L191.6 229.7 L188.4 225.7 L190.8 228.1 L195.5 232.1 L201.1 233.7 L204.3 235.3 L205.8 240.0 L209.0 244.8 L215.4 246.4 L221.7 250.3 L228.1 256.7 L231.2 260.7 L229.7 263.8 L228.9 268.6 L232.8 271.8 L238.4 273.4 L239.2 268.6 L236.0 265.4 L240.8 268.6 L243.9 275.0 L247.1 276.5 L249.5 275.0 L256.6 274.2 L263.0 275.0 L267.7 275.7 L271.1 276.5"/>
<path d="M226.5 207.5 L229.7 211.5 L232.8 217.8 L237.6 225.7 L243.9 232.1 L250.3 240.8 L258.2 244.8 L261.4 248.0 L264.6 252.7 L267.7 257.5 L271.1 259.1"/>
<path d="M251.9 241.6 L248.7 246.4 L247.1 252.7 L250.3 259.1 L247.9 262.3 L250.3 267.0 L249.5 271.8 L247.1 275.7 L247.9 281.3 L249.5 281.3 L249.5 276.5"/>
<path d="M271.0 257.5 L274.2 255.1 L277.3 259.1 L285.3 263.0 L294.8 261.5 L302.7 256.7 L312.3 252.7 L323.4 248.8 L328.1 242.4"/>
<path d="M271.0 276.5 L277.3 279.7 L280.5 286.1 L286.9 290.0 L293.2 287.7 L294.8 290.8 L297.2 298.8 L307.5 300.3"/>
<path d="M274.2 294.8 L276.6 292.4 L278.9 295.6 L277.3 298.0 L275.0 297.2 L274.2 294.8"/>
<path d="M288.5 285.3 L291.6 284.5 L293.2 287.7"/>
<path d="M285.0 2.2 L286.6 2.9 L286.1 6.3 L288.1 6.3"/>
<path d="M288.5 3.8 L293.2 3.8 L293.2 5.7 L288.5 5.7 L288.5 3.8"/>
<path d="M136.0 90.5 L142.3 90.8 L148.7 92.1 L155.0 90.5 L163.0 91.3 L170.1 87.3 L174.1 86.5 L175.7 88.1 L182.0 88.9 L190.0 88.9 L195.5 86.5 L202.7 88.1 L210.6 90.5 L215.4 90.5 L220.1 95.2 L224.9 100.0 L231.2 102.4 L236.0 104.8 L239.2 108.7 L240.8 111.1 L238.4 115.1"/>
<path d="M240.8 110.3 L234.4 111.1 L228.9 114.3 L218.5 117.5 L210.6 119.0 L204.3 118.3 L200.3 115.1 L196.3 118.3 L192.3 125.9"/>
<path d="M157.4 77.8 L162.2 75.4 L167.0 74.9"/>
<path d="M110.0 135.5 L111.4 138.0 L115.6 138.4 L118.5 136.2 L121.3 136.2 L123.4 138.0 L126.9 137.3 L129.8 139.1 L130.8 141.2 L129.1 143.6 L128.7 147.2 L126.6 149.6 L127.6 151.4 L129.1 150.0"/>
<path d="M110.0 155.3 L125.2 155.3 L125.9 156.3 L129.1 152.1 L128.3 150.7"/>
<path d="M135.8 153.2 L136.8 156.3 L139.6 158.5 L141.4 157.8 L140.3 159.2 L138.2 160.6 L135.4 160.6 L133.6 157.8 L131.2 162.0 L134.0 163.4 L138.2 167.6 L141.1 169.8 L145.3 174.0 L149.5 176.8 L153.8 178.9 L154.8 182.0"/>
<path d="M138.2 160.6 L147.4 160.2 L150.9 152.8 L154.5 152.1 L154.1 140.5 L163.6 140.1"/>
<path d="M328.7 242.6 L335.8 243.8 L343.0 245.0 L346.5 246.8 L352.4 246.8 L357.2 247.9 L364.3 250.3 L369.7 253.3 L373.8 257.4 L378.5 262.2 L382.7 265.7 L385.7 266.3 L388.0 271.1 L392.8 275.8 L395.2 280.0 L396.3 281.8"/>
<path d="M405.9 261.6 L399.9 265.1 L395.2 267.5 L396.3 272.3 L398.7 277.0 L399.9 281.8 L398.7 284.1 L395.7 284.1 L395.2 280.6"/>
<path d="M305.0 301.9 L308.6 300.1 L313.3 296.6 L318.6 296.0 L319.8 293.6 L316.9 290.1 L312.1 284.1 L307.4 279.4 L308.6 275.8 L312.1 273.4 L318.0 270.5 L322.8 266.9 L326.4 265.1 L326.9 261.0 L330.5 258.6 L334.7 257.4 L341.8 257.4 L345.3 259.2 L350.1 262.8 L354.8 266.9 L358.4 270.5 L360.8 271.7 L367.9 273.4 L371.4 277.0 L375.0 278.2"/>
<path d="M358.4 270.5 L357.2 275.8 L358.4 281.8 L363.1 287.7 L367.9 294.8 L372.6 300.7 L376.2 306.7 L378.5 311.4 L382.1 315.0 L386.9 319.1"/>
<path d="M385.7 266.3 L382.7 268.7 L386.9 275.8 L388.0 283.5 L383.3 286.5 L380.9 290.7 L377.4 294.2 L375.0 290.7 L373.2 297.2 L371.4 300.1"/>
<path d="M375.0 290.7 L378.5 293.6 L382.1 290.7"/>
<path d="M346.5 270.5 L348.7 271.7 L348.7 274.0 L346.5 275.2 L346.5 277.6 L345.9 275.2 L344.4 274.0 L344.4 271.7 L346.5 270.5"/>
<path d="M136.2 1.1 L135.2 4.2 L134.5 7.1 L133.4 12.0 L131.6 17.6 L129.9 24.0 L128.5 28.2 L126.7 30.3 L126.7 33.2 L125.3 35.3 L124.6 39.5"/>
<path d="M135.2 4.2 L132.3 2.8 L131.3 4.9 L132.3 7.1 L134.5 6.7 L136.2 4.9 L135.2 4.2"/>
<path d="M114.3 26.8 L115.8 25.4 L118.2 23.3 L120.3 20.5 L121.8 16.6 L122.1 18.3 L121.4 23.3 L120.3 27.5 L118.2 28.6 L114.3 28.9 L114.3 26.8"/>
<path d="M123.2 24.0 L124.6 26.1 L126.7 28.9"/>
<path d="M115.8 25.4 L111.2 25.4 L109.1 27.9 L108.0 31.8 L105.5 34.6 L102.4 39.2 L100.6 38.5 L98.5 37.1 L95.6 37.4 L95.3 41.6"/>
<path d="M121.1 28.2 L120.3 33.9 L118.9 37.4 L117.5 42.3 L116.5 45.9 L118.2 48.7 L116.8 52.2 L116.5 56.0"/>
<path d="M360.5 27.2 L362.9 25.4 L369.3 25.1 L370.7 26.1 L371.4 24.7 L375.6 25.1 L381.3 25.4 L388.3 25.4 L391.2 26.8 L395.4 27.5 L398.2 29.3 L400.3 30.3 L405.3 30.7"/>
<path d="M360.5 27.2 L360.1 29.3 L362.2 31.4 L367.2 32.5 L369.3 34.9 L372.1 37.1 L373.5 39.9 L375.6 40.6 L384.1 40.6 L388.3 44.5 L390.5 41.3 L391.5 39.9 L392.6 40.6 L395.4 39.9 L396.1 38.1 L398.2 38.1 L401.8 39.2 L405.3 40.6"/>
<path d="M130.5 148.2 L134.0 148.6 L134.3 151.8 L131.2 152.1Z" fill="#000"/>
<path d="M135.1 149.6 L138.2 148.9 L138.9 150.7 L137.2 153.2 L135.4 152.8Z" fill="#000"/>
<path d="M360.2 270.1 L366.7 269.9 L366.7 272.9 L361.9 272.5Z" fill="#000"/></g>
<g shape-rendering="crispEdges"><rect x="312.5" y="61.5" width="83" height="158" fill="#fff" stroke="#000" stroke-width="1"/>
<text x="328" y="80.8" font-size="13" font-style="italic" textLength="51.5" lengthAdjust="spacingAndGlyphs">Nr. Days</text>
<rect x="327.5" y="88.5" width="18" height="12" fill="#0cc00c" stroke="#000" stroke-width="1"/>
<text x="352.6" y="97.6" font-size="9" textLength="16.3">0–2</text>
<rect x="327.5" y="100.5" width="18" height="12" fill="#30f840" stroke="#000" stroke-width="1"/>
<text x="352.6" y="109.6" font-size="9" textLength="16.3">3–5</text>
<rect x="327.5" y="112.5" width="18" height="12" fill="#c0ffd0" stroke="#000" stroke-width="1"/>
<text x="352.6" y="121.6" font-size="9" textLength="16.3">6–8</text>
<rect x="327.5" y="124.5" width="18" height="12" fill="#e0d000" stroke="#000" stroke-width="1"/>
<text x="352.6" y="133.6" font-size="9" textLength="19.2">9–11</text>
<rect x="327.5" y="136.5" width="18" height="12" fill="#ffec70" stroke="#000" stroke-width="1"/>
<text x="351.8" y="145.6" font-size="9" textLength="23.2">12–14</text>
<rect x="327.5" y="148.5" width="18" height="12" fill="#ffffc8" stroke="#000" stroke-width="1"/>
<text x="351.8" y="157.6" font-size="9" textLength="23.2">15–17</text>
<rect x="327.5" y="160.5" width="18" height="12" fill="#e08800" stroke="#000" stroke-width="1"/>
<text x="351.8" y="169.6" font-size="9" textLength="23.2">18–20</text>
<rect x="327.5" y="172.5" width="18" height="12" fill="#ffa010" stroke="#000" stroke-width="1"/>
<text x="351.0" y="181.6" font-size="9" textLength="23.2">21–23</text>
<rect x="327.5" y="184.5" width="18" height="12" fill="#ffc090" stroke="#000" stroke-width="1"/>
<text x="351.0" y="193.6" font-size="9" textLength="23.2">24–26</text>
<rect x="327.5" y="196.5" width="18" height="12" fill="#ffffff" stroke="#000" stroke-width="1"/>
<text x="350.8" y="205.6" font-size="9" textLength="18.3">&gt; 26</text></g>
<rect x="0.5" y="0.5" width="405" height="319" fill="none" stroke="#000" stroke-width="1"/>
</svg>
<svg class="map" style="left:0px;top:393px" width="436" height="60" viewBox="0 0 436 60">
<text class="t1" x="93.8" y="29.7" textLength="237.7" lengthAdjust="spacingAndGlyphs">Total Accumulated Rainfall</text>
<text class="t2" x="86.5" y="51.5" textLength="249" lengthAdjust="spacingAndGlyphs" xml:space="preserve">in past 30 days, as of  10 May 2009</text>
</svg>
<svg class="map" style="left:15px;top:454px" width="406" height="320" viewBox="0 0 406 320" shape-rendering="crispEdges">
<rect x="0" y="0" width="406" height="320" fill="#e6e6e6"/>
<rect x="50" y="0" width="6" height="6" fill="#b0ffa8"/>
<rect x="56" y="0" width="6" height="6" fill="#78e878"/>
<rect x="62" y="0" width="13" height="6" fill="#b0ffa8"/>
<rect x="75" y="0" width="12" height="6" fill="#f0d8b8"/>
<rect x="87" y="0" width="6" height="6" fill="#b0ffa8"/>
<rect x="93" y="0" width="19" height="6" fill="#78e878"/>
<rect x="112" y="0" width="12" height="6" fill="#b0ffa8"/>
<rect x="124" y="0" width="6" height="6" fill="#78e878"/>
<rect x="130" y="0" width="12" height="6" fill="#f0d8b8"/>
<rect x="283" y="0" width="7" height="6" fill="#b0ffa8"/>
<rect x="290" y="0" width="6" height="6" fill="#f0d8b8"/>
<rect x="44" y="6" width="43" height="6" fill="#b0ffa8"/>
<rect x="87" y="6" width="12" height="6" fill="#78e878"/>
<rect x="99" y="6" width="6" height="6" fill="#38d038"/>
<rect x="105" y="6" width="13" height="6" fill="#b0ffa8"/>
<rect x="118" y="6" width="6" height="6" fill="#f0d8b8"/>
<rect x="124" y="6" width="12" height="6" fill="#b0ffa8"/>
<rect x="32" y="12" width="18" height="6" fill="#b0ffa8"/>
<rect x="50" y="12" width="12" height="6" fill="#f0d8b8"/>
<rect x="62" y="12" width="13" height="6" fill="#b0ffa8"/>
<rect x="75" y="12" width="6" height="6" fill="#78e878"/>
<rect x="81" y="12" width="18" height="6" fill="#b0ffa8"/>
<rect x="99" y="12" width="6" height="6" fill="#78e878"/>
<rect x="105" y="12" width="7" height="6" fill="#f0d8b8"/>
<rect x="112" y="12" width="24" height="6" fill="#b0ffa8"/>
<rect x="7" y="18" width="6" height="7" fill="#f0d8b8"/>
<rect x="13" y="18" width="43" height="7" fill="#b0ffa8"/>
<rect x="56" y="18" width="6" height="7" fill="#78e878"/>
<rect x="62" y="18" width="43" height="7" fill="#b0ffa8"/>
<rect x="105" y="18" width="7" height="7" fill="#78e878"/>
<rect x="112" y="18" width="6" height="7" fill="#b0ffa8"/>
<rect x="118" y="18" width="18" height="7" fill="#f0d8b8"/>
<rect x="369" y="18" width="6" height="7" fill="#b0ffa8"/>
<rect x="1" y="25" width="12" height="6" fill="#f0d8b8"/>
<rect x="13" y="25" width="92" height="6" fill="#78e878"/>
<rect x="105" y="25" width="25" height="6" fill="#f0d8b8"/>
<rect x="357" y="25" width="6" height="6" fill="#b0ffa8"/>
<rect x="363" y="25" width="19" height="6" fill="#78c8f8"/>
<rect x="382" y="25" width="6" height="6" fill="#38d038"/>
<rect x="388" y="25" width="6" height="6" fill="#78e878"/>
<rect x="394" y="25" width="12" height="6" fill="#b0ffa8"/>
<rect x="1" y="31" width="6" height="6" fill="#f0d8b8"/>
<rect x="7" y="31" width="13" height="6" fill="#b0ffa8"/>
<rect x="20" y="31" width="12" height="6" fill="#78e878"/>
<rect x="32" y="31" width="12" height="6" fill="#78c8f8"/>
<rect x="44" y="31" width="6" height="6" fill="#b8ecf8"/>
<rect x="50" y="31" width="12" height="6" fill="#38d038"/>
<rect x="62" y="31" width="19" height="6" fill="#78e878"/>
<rect x="81" y="31" width="6" height="6" fill="#b0ffa8"/>
<rect x="87" y="31" width="12" height="6" fill="#78e878"/>
<rect x="99" y="31" width="6" height="6" fill="#b0ffa8"/>
<rect x="105" y="31" width="13" height="6" fill="#f0d8b8"/>
<rect x="118" y="31" width="6" height="6" fill="#ffffff"/>
<rect x="124" y="31" width="6" height="6" fill="#f0d8b8"/>
<rect x="363" y="31" width="6" height="6" fill="#78e878"/>
<rect x="369" y="31" width="13" height="6" fill="#b8ecf8"/>
<rect x="382" y="31" width="6" height="6" fill="#38d038"/>
<rect x="388" y="31" width="18" height="6" fill="#78e878"/>
<rect x="1" y="37" width="6" height="6" fill="#f0d8b8"/>
<rect x="7" y="37" width="19" height="6" fill="#b0ffa8"/>
<rect x="26" y="37" width="6" height="6" fill="#78e878"/>
<rect x="32" y="37" width="37" height="6" fill="#38d038"/>
<rect x="69" y="37" width="30" height="6" fill="#78e878"/>
<rect x="99" y="37" width="6" height="6" fill="#f0d8b8"/>
<rect x="105" y="37" width="13" height="6" fill="#b0ffa8"/>
<rect x="118" y="37" width="12" height="6" fill="#f0d8b8"/>
<rect x="369" y="37" width="13" height="6" fill="#78e878"/>
<rect x="382" y="37" width="24" height="6" fill="#b0ffa8"/>
<rect x="1" y="43" width="6" height="6" fill="#78e878"/>
<rect x="7" y="43" width="13" height="6" fill="#38d038"/>
<rect x="20" y="43" width="6" height="6" fill="#78e878"/>
<rect x="26" y="43" width="6" height="6" fill="#b0ffa8"/>
<rect x="32" y="43" width="12" height="6" fill="#78e878"/>
<rect x="44" y="43" width="6" height="6" fill="#38d038"/>
<rect x="50" y="43" width="6" height="6" fill="#78c8f8"/>
<rect x="56" y="43" width="13" height="6" fill="#b8ecf8"/>
<rect x="69" y="43" width="6" height="6" fill="#78e878"/>
<rect x="75" y="43" width="6" height="6" fill="#38d038"/>
<rect x="81" y="43" width="6" height="6" fill="#78e878"/>
<rect x="87" y="43" width="6" height="6" fill="#b0ffa8"/>
<rect x="93" y="43" width="6" height="6" fill="#38d038"/>
<rect x="99" y="43" width="19" height="6" fill="#78e878"/>
<rect x="118" y="43" width="6" height="6" fill="#b0ffa8"/>
<rect x="388" y="43" width="6" height="6" fill="#b0ffa8"/>
<rect x="1" y="49" width="6" height="6" fill="#38d038"/>
<rect x="7" y="49" width="13" height="6" fill="#b8ecf8"/>
<rect x="20" y="49" width="6" height="6" fill="#38d038"/>
<rect x="26" y="49" width="18" height="6" fill="#78e878"/>
<rect x="44" y="49" width="6" height="6" fill="#38d038"/>
<rect x="50" y="49" width="12" height="6" fill="#78c8f8"/>
<rect x="62" y="49" width="7" height="6" fill="#b8ecf8"/>
<rect x="69" y="49" width="36" height="6" fill="#78e878"/>
<rect x="105" y="49" width="7" height="6" fill="#38d038"/>
<rect x="112" y="49" width="6" height="6" fill="#b8ecf8"/>
<rect x="118" y="49" width="6" height="6" fill="#78e878"/>
<rect x="1" y="55" width="12" height="6" fill="#78c8f8"/>
<rect x="13" y="55" width="7" height="6" fill="#3890f0"/>
<rect x="20" y="55" width="6" height="6" fill="#78c8f8"/>
<rect x="26" y="55" width="6" height="6" fill="#b8ecf8"/>
<rect x="32" y="55" width="18" height="6" fill="#78e878"/>
<rect x="50" y="55" width="6" height="6" fill="#b8ecf8"/>
<rect x="56" y="55" width="13" height="6" fill="#78c8f8"/>
<rect x="69" y="55" width="6" height="6" fill="#38d038"/>
<rect x="75" y="55" width="18" height="6" fill="#78e878"/>
<rect x="93" y="55" width="6" height="6" fill="#38d038"/>
<rect x="99" y="55" width="6" height="6" fill="#b8ecf8"/>
<rect x="105" y="55" width="7" height="6" fill="#38d038"/>
<rect x="112" y="55" width="6" height="6" fill="#78e878"/>
<rect x="1" y="61" width="6" height="7" fill="#b8ecf8"/>
<rect x="7" y="61" width="25" height="7" fill="#78c8f8"/>
<rect x="32" y="61" width="6" height="7" fill="#b8ecf8"/>
<rect x="38" y="61" width="6" height="7" fill="#38d038"/>
<rect x="44" y="61" width="6" height="7" fill="#b8ecf8"/>
<rect x="50" y="61" width="6" height="7" fill="#78c8f8"/>
<rect x="56" y="61" width="6" height="7" fill="#3890f0"/>
<rect x="62" y="61" width="13" height="7" fill="#78c8f8"/>
<rect x="75" y="61" width="18" height="7" fill="#b8ecf8"/>
<rect x="93" y="61" width="19" height="7" fill="#78c8f8"/>
<rect x="112" y="61" width="6" height="7" fill="#78e878"/>
<rect x="118" y="61" width="6" height="7" fill="#b0ffa8"/>
<rect x="1" y="68" width="6" height="6" fill="#38d038"/>
<rect x="7" y="68" width="6" height="6" fill="#b8ecf8"/>
<rect x="13" y="68" width="13" height="6" fill="#78c8f8"/>
<rect x="26" y="68" width="6" height="6" fill="#b8ecf8"/>
<rect x="32" y="68" width="12" height="6" fill="#38d038"/>
<rect x="44" y="68" width="6" height="6" fill="#b8ecf8"/>
<rect x="50" y="68" width="12" height="6" fill="#78c8f8"/>
<rect x="62" y="68" width="7" height="6" fill="#3890f0"/>
<rect x="69" y="68" width="12" height="6" fill="#78c8f8"/>
<rect x="81" y="68" width="18" height="6" fill="#b8ecf8"/>
<rect x="99" y="68" width="19" height="6" fill="#78c8f8"/>
<rect x="1" y="74" width="12" height="6" fill="#78e878"/>
<rect x="13" y="74" width="25" height="6" fill="#38d038"/>
<rect x="38" y="74" width="6" height="6" fill="#b8ecf8"/>
<rect x="44" y="74" width="6" height="6" fill="#78c8f8"/>
<rect x="50" y="74" width="6" height="6" fill="#3890f0"/>
<rect x="56" y="74" width="6" height="6" fill="#78c8f8"/>
<rect x="62" y="74" width="25" height="6" fill="#b8ecf8"/>
<rect x="87" y="74" width="31" height="6" fill="#78c8f8"/>
<rect x="155" y="74" width="6" height="6" fill="#b0ffa8"/>
<rect x="161" y="74" width="6" height="6" fill="#78e878"/>
<rect x="1" y="80" width="6" height="6" fill="#78e878"/>
<rect x="7" y="80" width="19" height="6" fill="#b0ffa8"/>
<rect x="26" y="80" width="6" height="6" fill="#78e878"/>
<rect x="32" y="80" width="6" height="6" fill="#b0ffa8"/>
<rect x="38" y="80" width="6" height="6" fill="#78e878"/>
<rect x="44" y="80" width="6" height="6" fill="#38d038"/>
<rect x="50" y="80" width="6" height="6" fill="#78c8f8"/>
<rect x="56" y="80" width="19" height="6" fill="#b8ecf8"/>
<rect x="75" y="80" width="12" height="6" fill="#78c8f8"/>
<rect x="87" y="80" width="6" height="6" fill="#3890f0"/>
<rect x="93" y="80" width="6" height="6" fill="#78c8f8"/>
<rect x="99" y="80" width="6" height="6" fill="#3890f0"/>
<rect x="105" y="80" width="7" height="6" fill="#78c8f8"/>
<rect x="173" y="80" width="6" height="6" fill="#b0ffa8"/>
<rect x="1" y="86" width="6" height="6" fill="#38d038"/>
<rect x="7" y="86" width="25" height="6" fill="#78e878"/>
<rect x="32" y="86" width="6" height="6" fill="#38d038"/>
<rect x="38" y="86" width="12" height="6" fill="#78e878"/>
<rect x="50" y="86" width="6" height="6" fill="#38d038"/>
<rect x="56" y="86" width="25" height="6" fill="#78c8f8"/>
<rect x="81" y="86" width="6" height="6" fill="#3890f0"/>
<rect x="87" y="86" width="18" height="6" fill="#2068e0"/>
<rect x="105" y="86" width="7" height="6" fill="#78c8f8"/>
<rect x="112" y="86" width="6" height="6" fill="#38d038"/>
<rect x="118" y="86" width="6" height="6" fill="#78e878"/>
<rect x="124" y="86" width="18" height="6" fill="#b0ffa8"/>
<rect x="142" y="86" width="6" height="6" fill="#f0d8b8"/>
<rect x="148" y="86" width="7" height="6" fill="#b0ffa8"/>
<rect x="155" y="86" width="12" height="6" fill="#f0d8b8"/>
<rect x="167" y="86" width="12" height="6" fill="#b0ffa8"/>
<rect x="179" y="86" width="18" height="6" fill="#78e878"/>
<rect x="197" y="86" width="7" height="6" fill="#78c8f8"/>
<rect x="204" y="86" width="12" height="6" fill="#b8ecf8"/>
<rect x="1" y="92" width="19" height="6" fill="#b8ecf8"/>
<rect x="20" y="92" width="12" height="6" fill="#38d038"/>
<rect x="32" y="92" width="12" height="6" fill="#b8ecf8"/>
<rect x="44" y="92" width="6" height="6" fill="#78e878"/>
<rect x="50" y="92" width="19" height="6" fill="#b8ecf8"/>
<rect x="69" y="92" width="18" height="6" fill="#78c8f8"/>
<rect x="87" y="92" width="6" height="6" fill="#2068e0"/>
<rect x="93" y="92" width="6" height="6" fill="#3890f0"/>
<rect x="99" y="92" width="6" height="6" fill="#78c8f8"/>
<rect x="105" y="92" width="7" height="6" fill="#b8ecf8"/>
<rect x="112" y="92" width="12" height="6" fill="#38d038"/>
<rect x="124" y="92" width="24" height="6" fill="#78e878"/>
<rect x="148" y="92" width="13" height="6" fill="#38d038"/>
<rect x="161" y="92" width="6" height="6" fill="#78e878"/>
<rect x="167" y="92" width="6" height="6" fill="#38d038"/>
<rect x="173" y="92" width="6" height="6" fill="#b8ecf8"/>
<rect x="179" y="92" width="18" height="6" fill="#38d038"/>
<rect x="197" y="92" width="19" height="6" fill="#78c8f8"/>
<rect x="216" y="92" width="6" height="6" fill="#b8ecf8"/>
<rect x="1" y="98" width="6" height="6" fill="#78e878"/>
<rect x="7" y="98" width="31" height="6" fill="#78c8f8"/>
<rect x="38" y="98" width="24" height="6" fill="#b8ecf8"/>
<rect x="62" y="98" width="7" height="6" fill="#78c8f8"/>
<rect x="69" y="98" width="12" height="6" fill="#b8ecf8"/>
<rect x="81" y="98" width="12" height="6" fill="#78c8f8"/>
<rect x="93" y="98" width="6" height="6" fill="#3890f0"/>
<rect x="99" y="98" width="6" height="6" fill="#78c8f8"/>
<rect x="105" y="98" width="7" height="6" fill="#b8ecf8"/>
<rect x="112" y="98" width="12" height="6" fill="#38d038"/>
<rect x="124" y="98" width="12" height="6" fill="#78e878"/>
<rect x="136" y="98" width="25" height="6" fill="#38d038"/>
<rect x="161" y="98" width="18" height="6" fill="#b8ecf8"/>
<rect x="179" y="98" width="12" height="6" fill="#38d038"/>
<rect x="191" y="98" width="6" height="6" fill="#b8ecf8"/>
<rect x="197" y="98" width="25" height="6" fill="#3890f0"/>
<rect x="222" y="98" width="6" height="6" fill="#78c8f8"/>
<rect x="228" y="98" width="6" height="6" fill="#b8ecf8"/>
<rect x="1" y="104" width="6" height="6" fill="#78e878"/>
<rect x="7" y="104" width="6" height="6" fill="#38d038"/>
<rect x="13" y="104" width="7" height="6" fill="#b8ecf8"/>
<rect x="20" y="104" width="24" height="6" fill="#78c8f8"/>
<rect x="44" y="104" width="6" height="6" fill="#3890f0"/>
<rect x="50" y="104" width="12" height="6" fill="#78c8f8"/>
<rect x="62" y="104" width="13" height="6" fill="#b8ecf8"/>
<rect x="75" y="104" width="18" height="6" fill="#78c8f8"/>
<rect x="93" y="104" width="19" height="6" fill="#3890f0"/>
<rect x="112" y="104" width="12" height="6" fill="#78c8f8"/>
<rect x="124" y="104" width="6" height="6" fill="#b8ecf8"/>
<rect x="130" y="104" width="6" height="6" fill="#38d038"/>
<rect x="136" y="104" width="19" height="6" fill="#b8ecf8"/>
<rect x="155" y="104" width="6" height="6" fill="#38d038"/>
<rect x="161" y="104" width="18" height="6" fill="#b8ecf8"/>
<rect x="179" y="104" width="6" height="6" fill="#38d038"/>
<rect x="185" y="104" width="6" height="6" fill="#b8ecf8"/>
<rect x="191" y="104" width="6" height="6" fill="#78c8f8"/>
<rect x="197" y="104" width="25" height="6" fill="#3890f0"/>
<rect x="222" y="104" width="6" height="6" fill="#78c8f8"/>
<rect x="228" y="104" width="12" height="6" fill="#b8ecf8"/>
<rect x="7" y="110" width="6" height="7" fill="#78e878"/>
<rect x="13" y="110" width="7" height="7" fill="#38d038"/>
<rect x="20" y="110" width="6" height="7" fill="#78c8f8"/>
<rect x="26" y="110" width="24" height="7" fill="#3890f0"/>
<rect x="50" y="110" width="37" height="7" fill="#78c8f8"/>
<rect x="87" y="110" width="6" height="7" fill="#3890f0"/>
<rect x="93" y="110" width="6" height="7" fill="#78c8f8"/>
<rect x="99" y="110" width="6" height="7" fill="#3890f0"/>
<rect x="105" y="110" width="13" height="7" fill="#78c8f8"/>
<rect x="118" y="110" width="6" height="7" fill="#3890f0"/>
<rect x="124" y="110" width="6" height="7" fill="#78c8f8"/>
<rect x="130" y="110" width="12" height="7" fill="#b8ecf8"/>
<rect x="142" y="110" width="6" height="7" fill="#78c8f8"/>
<rect x="148" y="110" width="7" height="7" fill="#b8ecf8"/>
<rect x="155" y="110" width="6" height="7" fill="#38d038"/>
<rect x="161" y="110" width="6" height="7" fill="#b8ecf8"/>
<rect x="167" y="110" width="6" height="7" fill="#38d038"/>
<rect x="173" y="110" width="6" height="7" fill="#b8ecf8"/>
<rect x="179" y="110" width="6" height="7" fill="#38d038"/>
<rect x="185" y="110" width="6" height="7" fill="#b8ecf8"/>
<rect x="191" y="110" width="6" height="7" fill="#3890f0"/>
<rect x="197" y="110" width="7" height="7" fill="#2068e0"/>
<rect x="204" y="110" width="6" height="7" fill="#3890f0"/>
<rect x="210" y="110" width="6" height="7" fill="#2068e0"/>
<rect x="216" y="110" width="12" height="7" fill="#3890f0"/>
<rect x="228" y="110" width="6" height="7" fill="#78c8f8"/>
<rect x="234" y="110" width="6" height="7" fill="#b8ecf8"/>
<rect x="240" y="110" width="7" height="7" fill="#38d038"/>
<rect x="13" y="117" width="13" height="6" fill="#38d038"/>
<rect x="26" y="117" width="6" height="6" fill="#78c8f8"/>
<rect x="32" y="117" width="6" height="6" fill="#3890f0"/>
<rect x="38" y="117" width="12" height="6" fill="#2068e0"/>
<rect x="50" y="117" width="19" height="6" fill="#3890f0"/>
<rect x="69" y="117" width="6" height="6" fill="#2068e0"/>
<rect x="75" y="117" width="6" height="6" fill="#78c8f8"/>
<rect x="81" y="117" width="6" height="6" fill="#b8ecf8"/>
<rect x="87" y="117" width="18" height="6" fill="#78c8f8"/>
<rect x="105" y="117" width="13" height="6" fill="#3890f0"/>
<rect x="118" y="117" width="6" height="6" fill="#78c8f8"/>
<rect x="124" y="117" width="18" height="6" fill="#b8ecf8"/>
<rect x="142" y="117" width="13" height="6" fill="#38d038"/>
<rect x="155" y="117" width="12" height="6" fill="#78e878"/>
<rect x="167" y="117" width="6" height="6" fill="#38d038"/>
<rect x="173" y="117" width="6" height="6" fill="#b8ecf8"/>
<rect x="179" y="117" width="6" height="6" fill="#38d038"/>
<rect x="185" y="117" width="6" height="6" fill="#b8ecf8"/>
<rect x="191" y="117" width="6" height="6" fill="#78c8f8"/>
<rect x="197" y="117" width="7" height="6" fill="#3890f0"/>
<rect x="204" y="117" width="6" height="6" fill="#78c8f8"/>
<rect x="210" y="117" width="18" height="6" fill="#3890f0"/>
<rect x="228" y="117" width="6" height="6" fill="#78c8f8"/>
<rect x="234" y="117" width="6" height="6" fill="#38d038"/>
<rect x="20" y="123" width="6" height="6" fill="#38d038"/>
<rect x="26" y="123" width="12" height="6" fill="#b8ecf8"/>
<rect x="38" y="123" width="6" height="6" fill="#78c8f8"/>
<rect x="44" y="123" width="6" height="6" fill="#3890f0"/>
<rect x="50" y="123" width="19" height="6" fill="#2068e0"/>
<rect x="69" y="123" width="12" height="6" fill="#78c8f8"/>
<rect x="81" y="123" width="12" height="6" fill="#b8ecf8"/>
<rect x="93" y="123" width="12" height="6" fill="#78c8f8"/>
<rect x="105" y="123" width="7" height="6" fill="#3890f0"/>
<rect x="112" y="123" width="6" height="6" fill="#78c8f8"/>
<rect x="118" y="123" width="6" height="6" fill="#3890f0"/>
<rect x="124" y="123" width="12" height="6" fill="#78c8f8"/>
<rect x="136" y="123" width="6" height="6" fill="#b8ecf8"/>
<rect x="142" y="123" width="6" height="6" fill="#38d038"/>
<rect x="148" y="123" width="13" height="6" fill="#78e878"/>
<rect x="161" y="123" width="12" height="6" fill="#38d038"/>
<rect x="173" y="123" width="24" height="6" fill="#b8ecf8"/>
<rect x="197" y="123" width="19" height="6" fill="#3890f0"/>
<rect x="216" y="123" width="6" height="6" fill="#2068e0"/>
<rect x="222" y="123" width="6" height="6" fill="#78c8f8"/>
<rect x="228" y="123" width="6" height="6" fill="#b8ecf8"/>
<rect x="234" y="123" width="13" height="6" fill="#78e878"/>
<rect x="26" y="129" width="12" height="6" fill="#38d038"/>
<rect x="38" y="129" width="18" height="6" fill="#78c8f8"/>
<rect x="56" y="129" width="13" height="6" fill="#3890f0"/>
<rect x="69" y="129" width="6" height="6" fill="#78c8f8"/>
<rect x="75" y="129" width="24" height="6" fill="#b8ecf8"/>
<rect x="99" y="129" width="37" height="6" fill="#78c8f8"/>
<rect x="136" y="129" width="6" height="6" fill="#38d038"/>
<rect x="142" y="129" width="25" height="6" fill="#78e878"/>
<rect x="167" y="129" width="6" height="6" fill="#b8ecf8"/>
<rect x="173" y="129" width="6" height="6" fill="#78c8f8"/>
<rect x="179" y="129" width="12" height="6" fill="#38d038"/>
<rect x="191" y="129" width="6" height="6" fill="#b8ecf8"/>
<rect x="197" y="129" width="7" height="6" fill="#3890f0"/>
<rect x="204" y="129" width="6" height="6" fill="#2068e0"/>
<rect x="210" y="129" width="12" height="6" fill="#3890f0"/>
<rect x="222" y="129" width="6" height="6" fill="#78c8f8"/>
<rect x="228" y="129" width="6" height="6" fill="#38d038"/>
<rect x="234" y="129" width="6" height="6" fill="#78e878"/>
<rect x="38" y="135" width="6" height="6" fill="#b8ecf8"/>
<rect x="44" y="135" width="12" height="6" fill="#78c8f8"/>
<rect x="56" y="135" width="6" height="6" fill="#3890f0"/>
<rect x="62" y="135" width="7" height="6" fill="#78c8f8"/>
<rect x="69" y="135" width="12" height="6" fill="#b8ecf8"/>
<rect x="81" y="135" width="6" height="6" fill="#38d038"/>
<rect x="87" y="135" width="6" height="6" fill="#78e878"/>
<rect x="93" y="135" width="6" height="6" fill="#38d038"/>
<rect x="99" y="135" width="37" height="6" fill="#b8ecf8"/>
<rect x="136" y="135" width="6" height="6" fill="#38d038"/>
<rect x="142" y="135" width="6" height="6" fill="#78e878"/>
<rect x="148" y="135" width="7" height="6" fill="#38d038"/>
<rect x="155" y="135" width="12" height="6" fill="#b8ecf8"/>
<rect x="167" y="135" width="6" height="6" fill="#38d038"/>
<rect x="173" y="135" width="6" height="6" fill="#b8ecf8"/>
<rect x="179" y="135" width="12" height="6" fill="#38d038"/>
<rect x="191" y="135" width="6" height="6" fill="#b8ecf8"/>
<rect x="197" y="135" width="7" height="6" fill="#78c8f8"/>
<rect x="204" y="135" width="12" height="6" fill="#2068e0"/>
<rect x="216" y="135" width="6" height="6" fill="#3890f0"/>
<rect x="222" y="135" width="6" height="6" fill="#b8ecf8"/>
<rect x="228" y="135" width="6" height="6" fill="#38d038"/>
<rect x="234" y="135" width="6" height="6" fill="#78e878"/>
<rect x="69" y="141" width="6" height="6" fill="#b8ecf8"/>
<rect x="75" y="141" width="12" height="6" fill="#38d038"/>
<rect x="87" y="141" width="12" height="6" fill="#78e878"/>
<rect x="99" y="141" width="19" height="6" fill="#38d038"/>
<rect x="118" y="141" width="6" height="6" fill="#78e878"/>
<rect x="124" y="141" width="6" height="6" fill="#38d038"/>
<rect x="130" y="141" width="18" height="6" fill="#78e878"/>
<rect x="148" y="141" width="7" height="6" fill="#38d038"/>
<rect x="155" y="141" width="6" height="6" fill="#b8ecf8"/>
<rect x="161" y="141" width="6" height="6" fill="#38d038"/>
<rect x="167" y="141" width="12" height="6" fill="#b8ecf8"/>
<rect x="179" y="141" width="12" height="6" fill="#38d038"/>
<rect x="191" y="141" width="6" height="6" fill="#78c8f8"/>
<rect x="197" y="141" width="13" height="6" fill="#3890f0"/>
<rect x="210" y="141" width="6" height="6" fill="#2068e0"/>
<rect x="216" y="141" width="6" height="6" fill="#3890f0"/>
<rect x="222" y="141" width="6" height="6" fill="#b8ecf8"/>
<rect x="228" y="141" width="6" height="6" fill="#78e878"/>
<rect x="87" y="147" width="6" height="6" fill="#b0ffa8"/>
<rect x="93" y="147" width="6" height="6" fill="#f0d8b8"/>
<rect x="99" y="147" width="6" height="6" fill="#b0ffa8"/>
<rect x="105" y="147" width="37" height="6" fill="#78e878"/>
<rect x="142" y="147" width="13" height="6" fill="#b8ecf8"/>
<rect x="155" y="147" width="6" height="6" fill="#78c8f8"/>
<rect x="161" y="147" width="6" height="6" fill="#b8ecf8"/>
<rect x="167" y="147" width="12" height="6" fill="#38d038"/>
<rect x="179" y="147" width="6" height="6" fill="#78e878"/>
<rect x="185" y="147" width="6" height="6" fill="#b8ecf8"/>
<rect x="191" y="147" width="6" height="6" fill="#78c8f8"/>
<rect x="197" y="147" width="19" height="6" fill="#3890f0"/>
<rect x="216" y="147" width="6" height="6" fill="#78c8f8"/>
<rect x="222" y="147" width="6" height="6" fill="#b8ecf8"/>
<rect x="228" y="147" width="6" height="6" fill="#38d038"/>
<rect x="105" y="153" width="7" height="7" fill="#b0ffa8"/>
<rect x="112" y="153" width="6" height="7" fill="#78e878"/>
<rect x="118" y="153" width="12" height="7" fill="#b0ffa8"/>
<rect x="130" y="153" width="18" height="7" fill="#78e878"/>
<rect x="148" y="153" width="19" height="7" fill="#78c8f8"/>
<rect x="167" y="153" width="6" height="7" fill="#b8ecf8"/>
<rect x="173" y="153" width="6" height="7" fill="#78e878"/>
<rect x="179" y="153" width="6" height="7" fill="#38d038"/>
<rect x="185" y="153" width="12" height="7" fill="#78c8f8"/>
<rect x="197" y="153" width="13" height="7" fill="#3890f0"/>
<rect x="210" y="153" width="12" height="7" fill="#78c8f8"/>
<rect x="222" y="153" width="6" height="7" fill="#b8ecf8"/>
<rect x="228" y="153" width="6" height="7" fill="#38d038"/>
<rect x="130" y="160" width="18" height="6" fill="#b0ffa8"/>
<rect x="148" y="160" width="7" height="6" fill="#38d038"/>
<rect x="155" y="160" width="12" height="6" fill="#78c8f8"/>
<rect x="167" y="160" width="6" height="6" fill="#b8ecf8"/>
<rect x="173" y="160" width="18" height="6" fill="#38d038"/>
<rect x="191" y="160" width="13" height="6" fill="#78c8f8"/>
<rect x="204" y="160" width="12" height="6" fill="#3890f0"/>
<rect x="216" y="160" width="6" height="6" fill="#78c8f8"/>
<rect x="222" y="160" width="6" height="6" fill="#38d038"/>
<rect x="228" y="160" width="6" height="6" fill="#b8ecf8"/>
<rect x="136" y="166" width="6" height="6" fill="#b0ffa8"/>
<rect x="142" y="166" width="6" height="6" fill="#78e878"/>
<rect x="148" y="166" width="7" height="6" fill="#b0ffa8"/>
<rect x="155" y="166" width="6" height="6" fill="#f0d8b8"/>
<rect x="161" y="166" width="6" height="6" fill="#38d038"/>
<rect x="167" y="166" width="12" height="6" fill="#b8ecf8"/>
<rect x="179" y="166" width="18" height="6" fill="#38d038"/>
<rect x="197" y="166" width="7" height="6" fill="#3890f0"/>
<rect x="204" y="166" width="6" height="6" fill="#78c8f8"/>
<rect x="210" y="166" width="24" height="6" fill="#b8ecf8"/>
<rect x="142" y="172" width="6" height="6" fill="#b0ffa8"/>
<rect x="148" y="172" width="7" height="6" fill="#f0d8b8"/>
<rect x="155" y="172" width="6" height="6" fill="#b0ffa8"/>
<rect x="161" y="172" width="12" height="6" fill="#b8ecf8"/>
<rect x="173" y="172" width="6" height="6" fill="#38d038"/>
<rect x="179" y="172" width="6" height="6" fill="#78e878"/>
<rect x="185" y="172" width="25" height="6" fill="#38d038"/>
<rect x="210" y="172" width="6" height="6" fill="#78c8f8"/>
<rect x="216" y="172" width="12" height="6" fill="#38d038"/>
<rect x="228" y="172" width="6" height="6" fill="#b8ecf8"/>
<rect x="148" y="178" width="13" height="6" fill="#f0d8b8"/>
<rect x="161" y="178" width="6" height="6" fill="#78e878"/>
<rect x="167" y="178" width="18" height="6" fill="#b0ffa8"/>
<rect x="185" y="178" width="19" height="6" fill="#78e878"/>
<rect x="204" y="178" width="12" height="6" fill="#38d038"/>
<rect x="216" y="178" width="6" height="6" fill="#78c8f8"/>
<rect x="222" y="178" width="6" height="6" fill="#b8ecf8"/>
<rect x="228" y="178" width="6" height="6" fill="#38d038"/>
<rect x="155" y="184" width="6" height="6" fill="#b0ffa8"/>
<rect x="161" y="184" width="30" height="6" fill="#f0d8b8"/>
<rect x="191" y="184" width="19" height="6" fill="#78e878"/>
<rect x="210" y="184" width="6" height="6" fill="#38d038"/>
<rect x="216" y="184" width="6" height="6" fill="#78c8f8"/>
<rect x="222" y="184" width="6" height="6" fill="#b8ecf8"/>
<rect x="228" y="184" width="6" height="6" fill="#78e878"/>
<rect x="161" y="190" width="6" height="6" fill="#b0ffa8"/>
<rect x="167" y="190" width="6" height="6" fill="#f0d8b8"/>
<rect x="173" y="190" width="24" height="6" fill="#b0ffa8"/>
<rect x="197" y="190" width="7" height="6" fill="#78e878"/>
<rect x="204" y="190" width="18" height="6" fill="#b8ecf8"/>
<rect x="222" y="190" width="12" height="6" fill="#38d038"/>
<rect x="167" y="196" width="12" height="7" fill="#78e878"/>
<rect x="179" y="196" width="6" height="7" fill="#38d038"/>
<rect x="185" y="196" width="19" height="7" fill="#78e878"/>
<rect x="204" y="196" width="6" height="7" fill="#38d038"/>
<rect x="210" y="196" width="18" height="7" fill="#78c8f8"/>
<rect x="173" y="203" width="6" height="6" fill="#78e878"/>
<rect x="179" y="203" width="12" height="6" fill="#38d038"/>
<rect x="191" y="203" width="13" height="6" fill="#78e878"/>
<rect x="204" y="203" width="6" height="6" fill="#38d038"/>
<rect x="210" y="203" width="6" height="6" fill="#78c8f8"/>
<rect x="216" y="203" width="12" height="6" fill="#3890f0"/>
<rect x="173" y="209" width="18" height="6" fill="#38d038"/>
<rect x="191" y="209" width="13" height="6" fill="#78e878"/>
<rect x="204" y="209" width="6" height="6" fill="#38d038"/>
<rect x="210" y="209" width="6" height="6" fill="#b8ecf8"/>
<rect x="216" y="209" width="12" height="6" fill="#3890f0"/>
<rect x="228" y="209" width="6" height="6" fill="#2068e0"/>
<rect x="173" y="215" width="6" height="6" fill="#b8ecf8"/>
<rect x="179" y="215" width="12" height="6" fill="#78c8f8"/>
<rect x="191" y="215" width="6" height="6" fill="#b8ecf8"/>
<rect x="197" y="215" width="19" height="6" fill="#38d038"/>
<rect x="216" y="215" width="6" height="6" fill="#78c8f8"/>
<rect x="222" y="215" width="12" height="6" fill="#2068e0"/>
<rect x="173" y="221" width="6" height="6" fill="#b8ecf8"/>
<rect x="179" y="221" width="18" height="6" fill="#78c8f8"/>
<rect x="197" y="221" width="7" height="6" fill="#b8ecf8"/>
<rect x="204" y="221" width="18" height="6" fill="#78c8f8"/>
<rect x="222" y="221" width="6" height="6" fill="#3890f0"/>
<rect x="228" y="221" width="12" height="6" fill="#2068e0"/>
<rect x="173" y="227" width="6" height="6" fill="#b8ecf8"/>
<rect x="179" y="227" width="6" height="6" fill="#3890f0"/>
<rect x="185" y="227" width="12" height="6" fill="#78c8f8"/>
<rect x="197" y="227" width="7" height="6" fill="#b8ecf8"/>
<rect x="204" y="227" width="6" height="6" fill="#78c8f8"/>
<rect x="210" y="227" width="6" height="6" fill="#3890f0"/>
<rect x="216" y="227" width="18" height="6" fill="#78c8f8"/>
<rect x="234" y="227" width="6" height="6" fill="#3890f0"/>
<rect x="240" y="227" width="7" height="6" fill="#2068e0"/>
<rect x="179" y="233" width="12" height="6" fill="#78c8f8"/>
<rect x="191" y="233" width="6" height="6" fill="#38d038"/>
<rect x="197" y="233" width="7" height="6" fill="#78c8f8"/>
<rect x="204" y="233" width="6" height="6" fill="#3890f0"/>
<rect x="210" y="233" width="6" height="6" fill="#ffe878"/>
<rect x="216" y="233" width="6" height="6" fill="#2068e0"/>
<rect x="222" y="233" width="6" height="6" fill="#b8ecf8"/>
<rect x="228" y="233" width="12" height="6" fill="#78c8f8"/>
<rect x="240" y="233" width="7" height="6" fill="#3890f0"/>
<rect x="247" y="233" width="6" height="6" fill="#2068e0"/>
<rect x="191" y="239" width="6" height="6" fill="#b8ecf8"/>
<rect x="197" y="239" width="7" height="6" fill="#3890f0"/>
<rect x="204" y="239" width="18" height="6" fill="#2068e0"/>
<rect x="222" y="239" width="6" height="6" fill="#3890f0"/>
<rect x="228" y="239" width="6" height="6" fill="#2068e0"/>
<rect x="234" y="239" width="19" height="6" fill="#3890f0"/>
<rect x="253" y="239" width="6" height="6" fill="#2068e0"/>
<rect x="326" y="239" width="13" height="6" fill="#2068e0"/>
<rect x="339" y="239" width="6" height="6" fill="#78c8f8"/>
<rect x="345" y="239" width="6" height="6" fill="#38d038"/>
<rect x="210" y="245" width="12" height="7" fill="#2068e0"/>
<rect x="222" y="245" width="12" height="7" fill="#ffe878"/>
<rect x="234" y="245" width="13" height="7" fill="#2068e0"/>
<rect x="247" y="245" width="12" height="7" fill="#3890f0"/>
<rect x="259" y="245" width="6" height="7" fill="#78c8f8"/>
<rect x="314" y="245" width="12" height="7" fill="#2068e0"/>
<rect x="326" y="245" width="13" height="7" fill="#ffe878"/>
<rect x="339" y="245" width="6" height="7" fill="#3890f0"/>
<rect x="345" y="245" width="12" height="7" fill="#b8ecf8"/>
<rect x="357" y="245" width="12" height="7" fill="#38d038"/>
<rect x="222" y="252" width="12" height="6" fill="#ffe878"/>
<rect x="234" y="252" width="13" height="6" fill="#2068e0"/>
<rect x="247" y="252" width="6" height="6" fill="#3890f0"/>
<rect x="253" y="252" width="6" height="6" fill="#78c8f8"/>
<rect x="259" y="252" width="6" height="6" fill="#b8ecf8"/>
<rect x="265" y="252" width="6" height="6" fill="#38d038"/>
<rect x="271" y="252" width="6" height="6" fill="#3890f0"/>
<rect x="302" y="252" width="12" height="6" fill="#ffa000"/>
<rect x="314" y="252" width="6" height="6" fill="#2068e0"/>
<rect x="320" y="252" width="6" height="6" fill="#3890f0"/>
<rect x="326" y="252" width="6" height="6" fill="#2068e0"/>
<rect x="332" y="252" width="7" height="6" fill="#3890f0"/>
<rect x="339" y="252" width="30" height="6" fill="#78c8f8"/>
<rect x="369" y="252" width="6" height="6" fill="#b8ecf8"/>
<rect x="228" y="258" width="6" height="6" fill="#ffe878"/>
<rect x="234" y="258" width="6" height="6" fill="#2068e0"/>
<rect x="240" y="258" width="13" height="6" fill="#3890f0"/>
<rect x="253" y="258" width="6" height="6" fill="#78c8f8"/>
<rect x="259" y="258" width="6" height="6" fill="#b8ecf8"/>
<rect x="265" y="258" width="6" height="6" fill="#38d038"/>
<rect x="271" y="258" width="6" height="6" fill="#b8ecf8"/>
<rect x="277" y="258" width="13" height="6" fill="#78c8f8"/>
<rect x="290" y="258" width="36" height="6" fill="#2068e0"/>
<rect x="326" y="258" width="6" height="6" fill="#78c8f8"/>
<rect x="332" y="258" width="7" height="6" fill="#38d038"/>
<rect x="339" y="258" width="6" height="6" fill="#78e878"/>
<rect x="345" y="258" width="6" height="6" fill="#b8ecf8"/>
<rect x="351" y="258" width="18" height="6" fill="#3890f0"/>
<rect x="369" y="258" width="13" height="6" fill="#78c8f8"/>
<rect x="400" y="258" width="6" height="6" fill="#38d038"/>
<rect x="228" y="264" width="12" height="6" fill="#2068e0"/>
<rect x="240" y="264" width="19" height="6" fill="#3890f0"/>
<rect x="259" y="264" width="6" height="6" fill="#2068e0"/>
<rect x="265" y="264" width="18" height="6" fill="#78c8f8"/>
<rect x="283" y="264" width="7" height="6" fill="#b8ecf8"/>
<rect x="290" y="264" width="18" height="6" fill="#78c8f8"/>
<rect x="308" y="264" width="6" height="6" fill="#2068e0"/>
<rect x="314" y="264" width="6" height="6" fill="#3890f0"/>
<rect x="320" y="264" width="6" height="6" fill="#b8ecf8"/>
<rect x="326" y="264" width="6" height="6" fill="#78e878"/>
<rect x="345" y="264" width="6" height="6" fill="#78e878"/>
<rect x="351" y="264" width="6" height="6" fill="#78c8f8"/>
<rect x="357" y="264" width="6" height="6" fill="#3890f0"/>
<rect x="363" y="264" width="19" height="6" fill="#2068e0"/>
<rect x="382" y="264" width="6" height="6" fill="#78c8f8"/>
<rect x="394" y="264" width="12" height="6" fill="#78c8f8"/>
<rect x="228" y="270" width="6" height="6" fill="#2068e0"/>
<rect x="234" y="270" width="31" height="6" fill="#3890f0"/>
<rect x="265" y="270" width="6" height="6" fill="#78c8f8"/>
<rect x="271" y="270" width="12" height="6" fill="#3890f0"/>
<rect x="283" y="270" width="13" height="6" fill="#78c8f8"/>
<rect x="296" y="270" width="6" height="6" fill="#3890f0"/>
<rect x="302" y="270" width="6" height="6" fill="#78c8f8"/>
<rect x="308" y="270" width="6" height="6" fill="#b8ecf8"/>
<rect x="314" y="270" width="6" height="6" fill="#78e878"/>
<rect x="351" y="270" width="6" height="6" fill="#38d038"/>
<rect x="357" y="270" width="6" height="6" fill="#3890f0"/>
<rect x="363" y="270" width="6" height="6" fill="#2068e0"/>
<rect x="369" y="270" width="13" height="6" fill="#ffe878"/>
<rect x="382" y="270" width="12" height="6" fill="#3890f0"/>
<rect x="394" y="270" width="6" height="6" fill="#78c8f8"/>
<rect x="400" y="270" width="6" height="6" fill="#b8ecf8"/>
<rect x="247" y="276" width="6" height="6" fill="#2068e0"/>
<rect x="265" y="276" width="25" height="6" fill="#3890f0"/>
<rect x="290" y="276" width="12" height="6" fill="#2068e0"/>
<rect x="302" y="276" width="6" height="6" fill="#78c8f8"/>
<rect x="308" y="276" width="6" height="6" fill="#38d038"/>
<rect x="357" y="276" width="6" height="6" fill="#3890f0"/>
<rect x="363" y="276" width="6" height="6" fill="#ffe878"/>
<rect x="369" y="276" width="6" height="6" fill="#ffa000"/>
<rect x="375" y="276" width="13" height="6" fill="#ffe878"/>
<rect x="388" y="276" width="6" height="6" fill="#2068e0"/>
<rect x="394" y="276" width="6" height="6" fill="#3890f0"/>
<rect x="400" y="276" width="6" height="6" fill="#78c8f8"/>
<rect x="277" y="282" width="25" height="6" fill="#2068e0"/>
<rect x="302" y="282" width="6" height="6" fill="#78c8f8"/>
<rect x="308" y="282" width="6" height="6" fill="#38d038"/>
<rect x="314" y="282" width="6" height="6" fill="#b0ffa8"/>
<rect x="357" y="282" width="6" height="6" fill="#3890f0"/>
<rect x="363" y="282" width="12" height="6" fill="#ffe878"/>
<rect x="375" y="282" width="31" height="6" fill="#2068e0"/>
<rect x="271" y="288" width="12" height="7" fill="#2068e0"/>
<rect x="283" y="288" width="7" height="7" fill="#ffe878"/>
<rect x="290" y="288" width="12" height="7" fill="#2068e0"/>
<rect x="302" y="288" width="6" height="7" fill="#3890f0"/>
<rect x="308" y="288" width="6" height="7" fill="#38d038"/>
<rect x="314" y="288" width="6" height="7" fill="#78e878"/>
<rect x="357" y="288" width="6" height="7" fill="#78c8f8"/>
<rect x="363" y="288" width="12" height="7" fill="#2068e0"/>
<rect x="375" y="288" width="7" height="7" fill="#ffe878"/>
<rect x="382" y="288" width="6" height="7" fill="#2068e0"/>
<rect x="388" y="288" width="18" height="7" fill="#ffe878"/>
<rect x="271" y="295" width="12" height="6" fill="#2068e0"/>
<rect x="296" y="295" width="6" height="6" fill="#78c8f8"/>
<rect x="302" y="295" width="6" height="6" fill="#38d038"/>
<rect x="308" y="295" width="6" height="6" fill="#b0ffa8"/>
<rect x="314" y="295" width="6" height="6" fill="#f0d8b8"/>
<rect x="363" y="295" width="6" height="6" fill="#78c8f8"/>
<rect x="369" y="295" width="25" height="6" fill="#2068e0"/>
<rect x="394" y="295" width="12" height="6" fill="#ffe878"/>
<rect x="296" y="301" width="6" height="6" fill="#38d038"/>
<rect x="302" y="301" width="6" height="6" fill="#78e878"/>
<rect x="369" y="301" width="6" height="6" fill="#78c8f8"/>
<rect x="375" y="301" width="13" height="6" fill="#2068e0"/>
<rect x="388" y="301" width="18" height="6" fill="#ffe878"/>
<rect x="375" y="307" width="13" height="6" fill="#2068e0"/>
<rect x="388" y="307" width="6" height="6" fill="#ffe878"/>
<rect x="394" y="307" width="12" height="6" fill="#ffa000"/>
<rect x="375" y="313" width="7" height="6" fill="#2068e0"/>
<rect x="382" y="313" width="12" height="6" fill="#ffe878"/>
<rect x="394" y="313" width="12" height="6" fill="#ffa000"/>
<g fill="none" stroke="#000" stroke-width="1" shape-rendering="crispEdges"><path d="M1.0 25.4 L7.3 22.2 L16.9 19.8 L27.2 21.0 L34.3 17.8 L42.3 13.5 L48.6 8.7 L55.0 3.2 L56.9 0.8"/>
<path d="M27.2 21.0 L30.4 24.6 L37.5 24.1 L43.1 20.3 L43.9 17.8 L39.1 17.5 L32.7 19.0 L27.2 21.0"/>
<path d="M116.6 56.0 L117.7 60.3 L118.1 66.7 L115.3 71.4 L110.5 77.8 L104.2 83.3 L100.2 87.0 L105.8 90.5 L108.9 92.9 L110.5 88.9 L115.3 91.3 L119.3 92.9 L126.4 89.7 L132.7 88.1 L136.1 88.9"/>
<path d="M95.9 41.6 L51.0 41.6 L51.0 55.2 L39.1 55.2 L43.9 61.1 L55.0 68.3 L58.9 73.8 L64.5 76.2 L63.7 84.1 L31.2 84.1 L24.8 95.2 L20.0 104.0 L22.4 109.5 L20.8 117.5"/>
<path d="M95.9 41.6 L94.7 63.5 L93.9 87.0 L100.2 87.0"/>
<path d="M108.9 92.9 L115.3 95.2 L102.6 104.8 L94.7 108.7 L93.9 114.3 L95.4 119.0 L92.3 123.8 L85.1 125.9"/>
<path d="M1.0 104.0 L7.3 109.5 L15.3 119.0"/>
<path d="M4.2 106.0 L10.5 113.9 L20.0 121.9 L29.6 129.0 L39.1 134.6 L47.0 137.0 L61.3 137.4 L70.8 140.6 L83.5 146.5 L94.7 149.7 L105.8 154.4 L115.3 155.5 L125.6 155.5"/>
<path d="M20.8 109.2 L20.8 113.9 L21.6 120.3 L20.0 121.9"/>
<path d="M70.8 140.6 L75.6 134.6 L83.5 129.8 L85.1 125.8 L91.5 124.3 L95.4 121.1"/>
<path d="M101.8 106.0 L94.7 109.2 L93.4 113.1 L95.9 117.9 L95.4 121.1"/>
<path d="M91.5 124.3 L97.8 126.6 L102.6 131.4 L112.1 137.7 L119.3 136.2 L126.4 137.7"/>
<path d="M163.6 140.1 L164.6 138.5 L170.9 133.8 L177.3 138.5 L178.9 135.4 L186.8 130.6 L192.3 124.3 L194.7 118.7 L199.5 115.5 L204.3 117.9 L209.0 119.5 L218.5 117.1 L228.1 114.7 L235.2 111.6 L240.0 110.8"/>
<path d="M237.6 106.0 L240.8 110.8 L240.0 115.5 L240.8 125.0 L237.6 131.4 L234.4 137.7 L233.1 147.3 L233.1 166.3 L232.0 172.7 L228.9 175.8 L229.7 185.4 L229.7 191.7 L226.5 196.5 L224.1 201.2 L225.7 207.6"/>
<path d="M154.7 181.9 L158.2 185.4 L164.6 191.7 L172.5 199.7 L178.1 205.2 L180.4 207.6"/>
<path d="M180.4 204.4 L183.6 205.2 L188.4 207.6 L197.9 210.0 L204.3 206.8 L209.0 208.4 L215.4 211.6 L221.7 214.7 L228.9 214.7 L229.7 212.3"/>
<path d="M178.1 207.6 L174.9 210.8 L178.9 215.5 L176.5 221.9 L174.9 226.6 L175.7 231.9"/>
<path d="M175.7 208.9 L178.1 213.0 L181.2 217.8 L176.5 222.6 L175.7 226.5 L178.1 232.9 L182.0 236.1 L187.6 236.9 L190.8 240.0 L193.9 243.2 L197.1 241.6 L200.3 236.1 L196.3 232.1 L191.6 229.7 L188.4 225.7 L190.8 228.1 L195.5 232.1 L201.1 233.7 L204.3 235.3 L205.8 240.0 L209.0 244.8 L215.4 246.4 L221.7 250.3 L228.1 256.7 L231.2 260.7 L229.7 263.8 L228.9 268.6 L232.8 271.8 L238.4 273.4 L239.2 268.6 L236.0 265.4 L240.8 268.6 L243.9 275.0 L247.1 276.5 L249.5 275.0 L256.6 274.2 L263.0 275.0 L267.7 275.7 L271.1 276.5"/>
<path d="M226.5 207.5 L229.7 211.5 L232.8 217.8 L237.6 225.7 L243.9 232.1 L250.3 240.8 L258.2 244.8 L261.4 248.0 L264.6 252.7 L267.7 257.5 L271.1 259.1"/>
<path d="M251.9 241.6 L248.7 246.4 L247.1 252.7 L250.3 259.1 L247.9 262.3 L250.3 267.0 L249.5 271.8 L247.1 275.7 L247.9 281.3 L249.5 281.3 L249.5 276.5"/>
<path d="M271.0 257.5 L274.2 255.1 L277.3 259.1 L285.3 263.0 L294.8 261.5 L302.7 256.7 L312.3 252.7 L323.4 248.8 L328.1 242.4"/>
<path d="M271.0 276.5 L277.3 279.7 L280.5 286.1 L286.9 290.0 L293.2 287.7 L294.8 290.8 L297.2 298.8 L307.5 300.3"/>
<path d="M274.2 294.8 L276.6 292.4 L278.9 295.6 L277.3 298.0 L275.0 297.2 L274.2 294.8"/>
<path d="M288.5 285.3 L291.6 284.5 L293.2 287.7"/>
<path d="M285.0 2.2 L286.6 2.9 L286.1 6.3 L288.1 6.3"/>
<path d="M288.5 3.8 L293.2 3.8 L293.2 5.7 L288.5 5.7 L288.5 3.8"/>
<path d="M136.0 90.5 L142.3 90.8 L148.7 92.1 L155.0 90.5 L163.0 91.3 L170.1 87.3 L174.1 86.5 L175.7 88.1 L182.0 88.9 L190.0 88.9 L195.5 86.5 L202.7 88.1 L210.6 90.5 L215.4 90.5 L220.1 95.2 L224.9 100.0 L231.2 102.4 L236.0 104.8 L239.2 108.7 L240.8 111.1 L238.4 115.1"/>
<path d="M240.8 110.3 L234.4 111.1 L228.9 114.3 L218.5 117.5 L210.6 119.0 L204.3 118.3 L200.3 115.1 L196.3 118.3 L192.3 125.9"/>
<path d="M157.4 77.8 L162.2 75.4 L167.0 74.9"/>
<path d="M110.0 135.5 L111.4 138.0 L115.6 138.4 L118.5 136.2 L121.3 136.2 L123.4 138.0 L126.9 137.3 L129.8 139.1 L130.8 141.2 L129.1 143.6 L128.7 147.2 L126.6 149.6 L127.6 151.4 L129.1 150.0"/>
<path d="M110.0 155.3 L125.2 155.3 L125.9 156.3 L129.1 152.1 L128.3 150.7"/>
<path d="M135.8 153.2 L136.8 156.3 L139.6 158.5 L141.4 157.8 L140.3 159.2 L138.2 160.6 L135.4 160.6 L133.6 157.8 L131.2 162.0 L134.0 163.4 L138.2 167.6 L141.1 169.8 L145.3 174.0 L149.5 176.8 L153.8 178.9 L154.8 182.0"/>
<path d="M138.2 160.6 L147.4 160.2 L150.9 152.8 L154.5 152.1 L154.1 140.5 L163.6 140.1"/>
<path d="M328.7 242.6 L335.8 243.8 L343.0 245.0 L346.5 246.8 L352.4 246.8 L357.2 247.9 L364.3 250.3 L369.7 253.3 L373.8 257.4 L378.5 262.2 L382.7 265.7 L385.7 266.3 L388.0 271.1 L392.8 275.8 L395.2 280.0 L396.3 281.8"/>
<path d="M405.9 261.6 L399.9 265.1 L395.2 267.5 L396.3 272.3 L398.7 277.0 L399.9 281.8 L398.7 284.1 L395.7 284.1 L395.2 280.6"/>
<path d="M305.0 301.9 L308.6 300.1 L313.3 296.6 L318.6 296.0 L319.8 293.6 L316.9 290.1 L312.1 284.1 L307.4 279.4 L308.6 275.8 L312.1 273.4 L318.0 270.5 L322.8 266.9 L326.4 265.1 L326.9 261.0 L330.5 258.6 L334.7 257.4 L341.8 257.4 L345.3 259.2 L350.1 262.8 L354.8 266.9 L358.4 270.5 L360.8 271.7 L367.9 273.4 L371.4 277.0 L375.0 278.2"/>
<path d="M358.4 270.5 L357.2 275.8 L358.4 281.8 L363.1 287.7 L367.9 294.8 L372.6 300.7 L376.2 306.7 L378.5 311.4 L382.1 315.0 L386.9 319.1"/>
<path d="M385.7 266.3 L382.7 268.7 L386.9 275.8 L388.0 283.5 L383.3 286.5 L380.9 290.7 L377.4 294.2 L375.0 290.7 L373.2 297.2 L371.4 300.1"/>
<path d="M375.0 290.7 L378.5 293.6 L382.1 290.7"/>
<path d="M346.5 270.5 L348.7 271.7 L348.7 274.0 L346.5 275.2 L346.5 277.6 L345.9 275.2 L344.4 274.0 L344.4 271.7 L346.5 270.5"/>
<path d="M136.2 1.1 L135.2 4.2 L134.5 7.1 L133.4 12.0 L131.6 17.6 L129.9 24.0 L128.5 28.2 L126.7 30.3 L126.7 33.2 L125.3 35.3 L124.6 39.5"/>
<path d="M135.2 4.2 L132.3 2.8 L131.3 4.9 L132.3 7.1 L134.5 6.7 L136.2 4.9 L135.2 4.2"/>
<path d="M114.3 26.8 L115.8 25.4 L118.2 23.3 L120.3 20.5 L121.8 16.6 L122.1 18.3 L121.4 23.3 L120.3 27.5 L118.2 28.6 L114.3 28.9 L114.3 26.8"/>
<path d="M123.2 24.0 L124.6 26.1 L126.7 28.9"/>
<path d="M115.8 25.4 L111.2 25.4 L109.1 27.9 L108.0 31.8 L105.5 34.6 L102.4 39.2 L100.6 38.5 L98.5 37.1 L95.6 37.4 L95.3 41.6"/>
<path d="M121.1 28.2 L120.3 33.9 L118.9 37.4 L117.5 42.3 L116.5 45.9 L118.2 48.7 L116.8 52.2 L116.5 56.0"/>
<path d="M360.5 27.2 L362.9 25.4 L369.3 25.1 L370.7 26.1 L371.4 24.7 L375.6 25.1 L381.3 25.4 L388.3 25.4 L391.2 26.8 L395.4 27.5 L398.2 29.3 L400.3 30.3 L405.3 30.7"/>
<path d="M360.5 27.2 L360.1 29.3 L362.2 31.4 L367.2 32.5 L369.3 34.9 L372.1 37.1 L373.5 39.9 L375.6 40.6 L384.1 40.6 L388.3 44.5 L390.5 41.3 L391.5 39.9 L392.6 40.6 L395.4 39.9 L396.1 38.1 L398.2 38.1 L401.8 39.2 L405.3 40.6"/>
<path d="M130.5 148.2 L134.0 148.6 L134.3 151.8 L131.2 152.1Z" fill="#000"/>
<path d="M135.1 149.6 L138.2 148.9 L138.9 150.7 L137.2 153.2 L135.4 152.8Z" fill="#000"/>
<path d="M360.2 270.1 L366.7 269.9 L366.7 272.9 L361.9 272.5Z" fill="#000"/></g>
<g shape-rendering="crispEdges"><rect x="303.5" y="51.5" width="92" height="179" fill="#fff" stroke="#000" stroke-width="1"/>
<text x="319.4" y="70.4" font-size="13" font-style="italic" textLength="52.4" lengthAdjust="spacingAndGlyphs">RF (mm)</text>
<rect x="318.5" y="78.50" width="18" height="12.03" fill="#ffffff" stroke="#000" stroke-width="1"/>
<text x="348.8" y="87.8" font-size="9">&lt; 1</text>
<rect x="318.5" y="90.53" width="18" height="12.03" fill="#f0d8b8" stroke="#000" stroke-width="1"/>
<text x="354.0" y="99.8" font-size="9" text-anchor="end">1</text>
<text x="362.0" y="99.8" font-size="9">10</text>
<rect x="318.5" y="102.56" width="18" height="12.03" fill="#b0ffa8" stroke="#000" stroke-width="1"/>
<text x="356.8" y="111.9" font-size="9" text-anchor="end">10</text>
<text x="363.6" y="111.9" font-size="9">25</text>
<rect x="318.5" y="114.59" width="18" height="12.03" fill="#78e878" stroke="#000" stroke-width="1"/>
<text x="356.8" y="123.9" font-size="9" text-anchor="end">25</text>
<text x="363.6" y="123.9" font-size="9">50</text>
<rect x="318.5" y="126.62" width="18" height="12.03" fill="#38d038" stroke="#000" stroke-width="1"/>
<text x="356.8" y="135.9" font-size="9" text-anchor="end">50</text>
<text x="363.6" y="135.9" font-size="9">75</text>
<rect x="318.5" y="138.65" width="18" height="12.03" fill="#b8ecf8" stroke="#000" stroke-width="1"/>
<text x="356.8" y="148.0" font-size="9" text-anchor="end">75</text>
<text x="363.6" y="148.0" font-size="9">100</text>
<rect x="318.5" y="150.68" width="18" height="12.03" fill="#78c8f8" stroke="#000" stroke-width="1"/>
<text x="359.6" y="160.0" font-size="9" text-anchor="end">100</text>
<text x="364.8" y="160.0" font-size="9">150</text>
<rect x="318.5" y="162.71" width="18" height="12.03" fill="#3890f0" stroke="#000" stroke-width="1"/>
<text x="359.6" y="172.0" font-size="9" text-anchor="end">150</text>
<text x="364.8" y="172.0" font-size="9">200</text>
<rect x="318.5" y="174.74" width="18" height="12.03" fill="#2068e0" stroke="#000" stroke-width="1"/>
<text x="359.6" y="184.0" font-size="9" text-anchor="end">200</text>
<text x="364.8" y="184.0" font-size="9">300</text>
<rect x="318.5" y="186.77" width="18" height="12.03" fill="#ffe878" stroke="#000" stroke-width="1"/>
<text x="359.6" y="196.1" font-size="9" text-anchor="end">300</text>
<text x="364.8" y="196.1" font-size="9">400</text>
<rect x="318.5" y="198.80" width="18" height="12.03" fill="#ffa000" stroke="#000" stroke-width="1"/>
<text x="359.6" y="208.1" font-size="9" text-anchor="end">400</text>
<text x="364.8" y="208.1" font-size="9">600</text>
<rect x="318.5" y="210.83" width="18" height="12.03" fill="#ff3000" stroke="#000" stroke-width="1"/>
<text x="345.3" y="220.1" font-size="9">&gt; 600</text></g>
<rect x="0.5" y="0.5" width="405" height="319" fill="none" stroke="#000" stroke-width="1"/>
</svg>
<svg class="map" style="left:415px;top:393px" width="436" height="60" viewBox="0 0 436 60">
<text class="t1" x="94.5" y="29.7" textLength="239.5" lengthAdjust="spacingAndGlyphs">Number of Days Since Rain</text>
<text class="t2" x="86.5" y="51.5" textLength="249" lengthAdjust="spacingAndGlyphs" xml:space="preserve">in past 30 days, as of  10 May 2009</text>
</svg>
<svg class="map" style="left:430px;top:454px" width="406" height="320" viewBox="0 0 406 320" shape-rendering="crispEdges">
<rect x="0" y="0" width="406" height="320" fill="#e6e6e6"/>
<rect x="50" y="0" width="12" height="6" fill="#ffffc8"/>
<rect x="62" y="0" width="7" height="6" fill="#e08800"/>
<rect x="69" y="0" width="12" height="6" fill="#ffffc8"/>
<rect x="81" y="0" width="18" height="6" fill="#e0d000"/>
<rect x="99" y="0" width="19" height="6" fill="#ffa010"/>
<rect x="118" y="0" width="6" height="6" fill="#e08800"/>
<rect x="124" y="0" width="6" height="6" fill="#c0ffd0"/>
<rect x="130" y="0" width="6" height="6" fill="#ffa010"/>
<rect x="136" y="0" width="6" height="6" fill="#e08800"/>
<rect x="283" y="0" width="13" height="6" fill="#0cc00c"/>
<rect x="44" y="6" width="6" height="6" fill="#ffffc8"/>
<rect x="50" y="6" width="49" height="6" fill="#e0d000"/>
<rect x="99" y="6" width="13" height="6" fill="#ffffc8"/>
<rect x="112" y="6" width="12" height="6" fill="#0cc00c"/>
<rect x="124" y="6" width="6" height="6" fill="#e08800"/>
<rect x="130" y="6" width="6" height="6" fill="#ffffff"/>
<rect x="32" y="12" width="12" height="6" fill="#0cc00c"/>
<rect x="44" y="12" width="6" height="6" fill="#ffffc8"/>
<rect x="50" y="12" width="49" height="6" fill="#e0d000"/>
<rect x="99" y="12" width="6" height="6" fill="#ffa010"/>
<rect x="105" y="12" width="7" height="6" fill="#c0ffd0"/>
<rect x="112" y="12" width="6" height="6" fill="#ffa010"/>
<rect x="118" y="12" width="6" height="6" fill="#0cc00c"/>
<rect x="124" y="12" width="12" height="6" fill="#ffa010"/>
<rect x="7" y="18" width="13" height="7" fill="#ffffc8"/>
<rect x="20" y="18" width="12" height="7" fill="#e0d000"/>
<rect x="32" y="18" width="18" height="7" fill="#0cc00c"/>
<rect x="50" y="18" width="19" height="7" fill="#e0d000"/>
<rect x="69" y="18" width="30" height="7" fill="#0cc00c"/>
<rect x="99" y="18" width="13" height="7" fill="#ffffc8"/>
<rect x="112" y="18" width="6" height="7" fill="#e08800"/>
<rect x="118" y="18" width="6" height="7" fill="#ffc090"/>
<rect x="124" y="18" width="12" height="7" fill="#ffa010"/>
<rect x="369" y="18" width="6" height="7" fill="#ffa010"/>
<rect x="1" y="25" width="12" height="6" fill="#ffffc8"/>
<rect x="13" y="25" width="25" height="6" fill="#e0d000"/>
<rect x="38" y="25" width="12" height="6" fill="#0cc00c"/>
<rect x="50" y="25" width="19" height="6" fill="#e0d000"/>
<rect x="69" y="25" width="36" height="6" fill="#0cc00c"/>
<rect x="105" y="25" width="13" height="6" fill="#e0d000"/>
<rect x="118" y="25" width="6" height="6" fill="#ffc090"/>
<rect x="124" y="25" width="6" height="6" fill="#e08800"/>
<rect x="357" y="25" width="25" height="6" fill="#c0ffd0"/>
<rect x="382" y="25" width="6" height="6" fill="#e08800"/>
<rect x="388" y="25" width="6" height="6" fill="#c0ffd0"/>
<rect x="394" y="25" width="6" height="6" fill="#ffffc8"/>
<rect x="400" y="25" width="6" height="6" fill="#e08800"/>
<rect x="1" y="31" width="6" height="6" fill="#ffffc8"/>
<rect x="7" y="31" width="6" height="6" fill="#e0d000"/>
<rect x="13" y="31" width="7" height="6" fill="#0cc00c"/>
<rect x="20" y="31" width="12" height="6" fill="#e0d000"/>
<rect x="32" y="31" width="6" height="6" fill="#30f840"/>
<rect x="38" y="31" width="74" height="6" fill="#0cc00c"/>
<rect x="112" y="31" width="6" height="6" fill="#ffa010"/>
<rect x="118" y="31" width="6" height="6" fill="#ffffc8"/>
<rect x="124" y="31" width="6" height="6" fill="#e0d000"/>
<rect x="363" y="31" width="6" height="6" fill="#ffffc8"/>
<rect x="369" y="31" width="6" height="6" fill="#ffec70"/>
<rect x="375" y="31" width="7" height="6" fill="#ffffc8"/>
<rect x="382" y="31" width="6" height="6" fill="#ffec70"/>
<rect x="388" y="31" width="6" height="6" fill="#c0ffd0"/>
<rect x="394" y="31" width="6" height="6" fill="#30f840"/>
<rect x="400" y="31" width="6" height="6" fill="#c0ffd0"/>
<rect x="1" y="37" width="6" height="6" fill="#e0d000"/>
<rect x="7" y="37" width="13" height="6" fill="#0cc00c"/>
<rect x="20" y="37" width="6" height="6" fill="#e0d000"/>
<rect x="26" y="37" width="12" height="6" fill="#30f840"/>
<rect x="38" y="37" width="86" height="6" fill="#0cc00c"/>
<rect x="124" y="37" width="6" height="6" fill="#e0d000"/>
<rect x="369" y="37" width="19" height="6" fill="#c0ffd0"/>
<rect x="388" y="37" width="6" height="6" fill="#ffa010"/>
<rect x="394" y="37" width="6" height="6" fill="#c0ffd0"/>
<rect x="400" y="37" width="6" height="6" fill="#ffffc8"/>
<rect x="1" y="43" width="6" height="6" fill="#ffec70"/>
<rect x="7" y="43" width="6" height="6" fill="#e0d000"/>
<rect x="13" y="43" width="7" height="6" fill="#30f840"/>
<rect x="20" y="43" width="6" height="6" fill="#0cc00c"/>
<rect x="26" y="43" width="12" height="6" fill="#30f840"/>
<rect x="38" y="43" width="86" height="6" fill="#0cc00c"/>
<rect x="388" y="43" width="6" height="6" fill="#c0ffd0"/>
<rect x="1" y="49" width="123" height="6" fill="#0cc00c"/>
<rect x="1" y="55" width="37" height="6" fill="#0cc00c"/>
<rect x="38" y="55" width="6" height="6" fill="#e0d000"/>
<rect x="44" y="55" width="80" height="6" fill="#0cc00c"/>
<rect x="1" y="61" width="37" height="7" fill="#0cc00c"/>
<rect x="38" y="61" width="6" height="7" fill="#30f840"/>
<rect x="44" y="61" width="80" height="7" fill="#0cc00c"/>
<rect x="1" y="68" width="37" height="6" fill="#0cc00c"/>
<rect x="38" y="68" width="12" height="6" fill="#30f840"/>
<rect x="50" y="68" width="68" height="6" fill="#0cc00c"/>
<rect x="1" y="74" width="37" height="6" fill="#0cc00c"/>
<rect x="38" y="74" width="6" height="6" fill="#30f840"/>
<rect x="44" y="74" width="74" height="6" fill="#0cc00c"/>
<rect x="155" y="74" width="12" height="6" fill="#0cc00c"/>
<rect x="1" y="80" width="37" height="6" fill="#0cc00c"/>
<rect x="38" y="80" width="6" height="6" fill="#30f840"/>
<rect x="44" y="80" width="68" height="6" fill="#0cc00c"/>
<rect x="173" y="80" width="6" height="6" fill="#0cc00c"/>
<rect x="1" y="86" width="43" height="6" fill="#0cc00c"/>
<rect x="44" y="86" width="6" height="6" fill="#30f840"/>
<rect x="50" y="86" width="166" height="6" fill="#0cc00c"/>
<rect x="1" y="92" width="37" height="6" fill="#0cc00c"/>
<rect x="38" y="92" width="12" height="6" fill="#30f840"/>
<rect x="50" y="92" width="172" height="6" fill="#0cc00c"/>
<rect x="1" y="98" width="233" height="6" fill="#0cc00c"/>
<rect x="1" y="104" width="239" height="6" fill="#0cc00c"/>
<rect x="7" y="110" width="227" height="7" fill="#0cc00c"/>
<rect x="234" y="110" width="13" height="7" fill="#c0ffd0"/>
<rect x="13" y="117" width="227" height="6" fill="#0cc00c"/>
<rect x="20" y="123" width="208" height="6" fill="#0cc00c"/>
<rect x="228" y="123" width="6" height="6" fill="#30f840"/>
<rect x="234" y="123" width="6" height="6" fill="#c0ffd0"/>
<rect x="240" y="123" width="7" height="6" fill="#e0d000"/>
<rect x="26" y="129" width="208" height="6" fill="#0cc00c"/>
<rect x="234" y="129" width="6" height="6" fill="#30f840"/>
<rect x="38" y="135" width="117" height="6" fill="#0cc00c"/>
<rect x="155" y="135" width="6" height="6" fill="#30f840"/>
<rect x="161" y="135" width="6" height="6" fill="#0cc00c"/>
<rect x="167" y="135" width="12" height="6" fill="#30f840"/>
<rect x="179" y="135" width="55" height="6" fill="#0cc00c"/>
<rect x="234" y="135" width="6" height="6" fill="#30f840"/>
<rect x="69" y="141" width="24" height="6" fill="#0cc00c"/>
<rect x="93" y="141" width="12" height="6" fill="#30f840"/>
<rect x="105" y="141" width="50" height="6" fill="#0cc00c"/>
<rect x="155" y="141" width="12" height="6" fill="#30f840"/>
<rect x="167" y="141" width="67" height="6" fill="#0cc00c"/>
<rect x="87" y="147" width="68" height="6" fill="#0cc00c"/>
<rect x="155" y="147" width="12" height="6" fill="#30f840"/>
<rect x="167" y="147" width="12" height="6" fill="#e0d000"/>
<rect x="179" y="147" width="49" height="6" fill="#0cc00c"/>
<rect x="228" y="147" width="6" height="6" fill="#30f840"/>
<rect x="105" y="153" width="43" height="7" fill="#0cc00c"/>
<rect x="148" y="153" width="19" height="7" fill="#30f840"/>
<rect x="167" y="153" width="12" height="7" fill="#e0d000"/>
<rect x="179" y="153" width="55" height="7" fill="#0cc00c"/>
<rect x="130" y="160" width="12" height="6" fill="#0cc00c"/>
<rect x="142" y="160" width="25" height="6" fill="#30f840"/>
<rect x="167" y="160" width="6" height="6" fill="#e0d000"/>
<rect x="173" y="160" width="12" height="6" fill="#30f840"/>
<rect x="185" y="160" width="49" height="6" fill="#0cc00c"/>
<rect x="136" y="166" width="6" height="6" fill="#e0d000"/>
<rect x="142" y="166" width="13" height="6" fill="#0cc00c"/>
<rect x="155" y="166" width="12" height="6" fill="#30f840"/>
<rect x="167" y="166" width="12" height="6" fill="#e0d000"/>
<rect x="179" y="166" width="6" height="6" fill="#30f840"/>
<rect x="185" y="166" width="49" height="6" fill="#0cc00c"/>
<rect x="142" y="172" width="6" height="6" fill="#30f840"/>
<rect x="148" y="172" width="7" height="6" fill="#ffffc8"/>
<rect x="155" y="172" width="6" height="6" fill="#c0ffd0"/>
<rect x="161" y="172" width="12" height="6" fill="#30f840"/>
<rect x="173" y="172" width="55" height="6" fill="#0cc00c"/>
<rect x="228" y="172" width="6" height="6" fill="#c0ffd0"/>
<rect x="148" y="178" width="7" height="6" fill="#30f840"/>
<rect x="155" y="178" width="6" height="6" fill="#ffec70"/>
<rect x="161" y="178" width="6" height="6" fill="#30f840"/>
<rect x="167" y="178" width="6" height="6" fill="#e0d000"/>
<rect x="173" y="178" width="61" height="6" fill="#0cc00c"/>
<rect x="155" y="184" width="24" height="6" fill="#e0d000"/>
<rect x="179" y="184" width="6" height="6" fill="#0cc00c"/>
<rect x="185" y="184" width="6" height="6" fill="#ffa010"/>
<rect x="191" y="184" width="13" height="6" fill="#c0ffd0"/>
<rect x="204" y="184" width="18" height="6" fill="#0cc00c"/>
<rect x="222" y="184" width="6" height="6" fill="#e0d000"/>
<rect x="228" y="184" width="6" height="6" fill="#0cc00c"/>
<rect x="161" y="190" width="6" height="6" fill="#e0d000"/>
<rect x="167" y="190" width="6" height="6" fill="#ffec70"/>
<rect x="173" y="190" width="24" height="6" fill="#e0d000"/>
<rect x="197" y="190" width="7" height="6" fill="#c0ffd0"/>
<rect x="204" y="190" width="30" height="6" fill="#0cc00c"/>
<rect x="167" y="196" width="6" height="7" fill="#0cc00c"/>
<rect x="173" y="196" width="24" height="7" fill="#e0d000"/>
<rect x="197" y="196" width="31" height="7" fill="#0cc00c"/>
<rect x="173" y="203" width="6" height="6" fill="#e0d000"/>
<rect x="179" y="203" width="6" height="6" fill="#c0ffd0"/>
<rect x="185" y="203" width="12" height="6" fill="#e0d000"/>
<rect x="197" y="203" width="31" height="6" fill="#0cc00c"/>
<rect x="173" y="209" width="18" height="6" fill="#30f840"/>
<rect x="191" y="209" width="43" height="6" fill="#0cc00c"/>
<rect x="173" y="215" width="18" height="6" fill="#30f840"/>
<rect x="191" y="215" width="43" height="6" fill="#0cc00c"/>
<rect x="173" y="221" width="18" height="6" fill="#30f840"/>
<rect x="191" y="221" width="13" height="6" fill="#c0ffd0"/>
<rect x="204" y="221" width="36" height="6" fill="#0cc00c"/>
<rect x="173" y="227" width="18" height="6" fill="#0cc00c"/>
<rect x="191" y="227" width="13" height="6" fill="#c0ffd0"/>
<rect x="204" y="227" width="43" height="6" fill="#0cc00c"/>
<rect x="179" y="233" width="12" height="6" fill="#0cc00c"/>
<rect x="191" y="233" width="13" height="6" fill="#c0ffd0"/>
<rect x="204" y="233" width="49" height="6" fill="#0cc00c"/>
<rect x="191" y="239" width="6" height="6" fill="#c0ffd0"/>
<rect x="197" y="239" width="62" height="6" fill="#0cc00c"/>
<rect x="326" y="239" width="25" height="6" fill="#0cc00c"/>
<rect x="210" y="245" width="24" height="7" fill="#0cc00c"/>
<rect x="234" y="245" width="6" height="7" fill="#30f840"/>
<rect x="240" y="245" width="25" height="7" fill="#0cc00c"/>
<rect x="314" y="245" width="12" height="7" fill="#30f840"/>
<rect x="326" y="245" width="43" height="7" fill="#0cc00c"/>
<rect x="222" y="252" width="12" height="6" fill="#0cc00c"/>
<rect x="234" y="252" width="6" height="6" fill="#30f840"/>
<rect x="240" y="252" width="37" height="6" fill="#0cc00c"/>
<rect x="302" y="252" width="18" height="6" fill="#0cc00c"/>
<rect x="320" y="252" width="6" height="6" fill="#c0ffd0"/>
<rect x="326" y="252" width="49" height="6" fill="#0cc00c"/>
<rect x="228" y="258" width="25" height="6" fill="#0cc00c"/>
<rect x="253" y="258" width="6" height="6" fill="#30f840"/>
<rect x="259" y="258" width="61" height="6" fill="#0cc00c"/>
<rect x="320" y="258" width="6" height="6" fill="#c0ffd0"/>
<rect x="326" y="258" width="6" height="6" fill="#e0d000"/>
<rect x="332" y="258" width="13" height="6" fill="#ffec70"/>
<rect x="345" y="258" width="37" height="6" fill="#0cc00c"/>
<rect x="400" y="258" width="6" height="6" fill="#c0ffd0"/>
<rect x="228" y="264" width="6" height="6" fill="#0cc00c"/>
<rect x="234" y="264" width="6" height="6" fill="#c0ffd0"/>
<rect x="240" y="264" width="13" height="6" fill="#0cc00c"/>
<rect x="253" y="264" width="30" height="6" fill="#c0ffd0"/>
<rect x="283" y="264" width="19" height="6" fill="#0cc00c"/>
<rect x="302" y="264" width="6" height="6" fill="#e0d000"/>
<rect x="308" y="264" width="12" height="6" fill="#c0ffd0"/>
<rect x="320" y="264" width="6" height="6" fill="#e0d000"/>
<rect x="326" y="264" width="6" height="6" fill="#ffec70"/>
<rect x="345" y="264" width="43" height="6" fill="#0cc00c"/>
<rect x="394" y="264" width="12" height="6" fill="#0cc00c"/>
<rect x="228" y="270" width="6" height="6" fill="#0cc00c"/>
<rect x="234" y="270" width="6" height="6" fill="#c0ffd0"/>
<rect x="240" y="270" width="7" height="6" fill="#0cc00c"/>
<rect x="247" y="270" width="6" height="6" fill="#c0ffd0"/>
<rect x="253" y="270" width="6" height="6" fill="#0cc00c"/>
<rect x="259" y="270" width="12" height="6" fill="#c0ffd0"/>
<rect x="271" y="270" width="6" height="6" fill="#30f840"/>
<rect x="277" y="270" width="31" height="6" fill="#0cc00c"/>
<rect x="308" y="270" width="12" height="6" fill="#e0d000"/>
<rect x="351" y="270" width="55" height="6" fill="#0cc00c"/>
<rect x="247" y="276" width="6" height="6" fill="#0cc00c"/>
<rect x="265" y="276" width="49" height="6" fill="#0cc00c"/>
<rect x="357" y="276" width="43" height="6" fill="#0cc00c"/>
<rect x="400" y="276" width="6" height="6" fill="#c0ffd0"/>
<rect x="277" y="282" width="37" height="6" fill="#0cc00c"/>
<rect x="314" y="282" width="6" height="6" fill="#e0d000"/>
<rect x="357" y="282" width="49" height="6" fill="#0cc00c"/>
<rect x="271" y="288" width="43" height="7" fill="#0cc00c"/>
<rect x="314" y="288" width="6" height="7" fill="#e0d000"/>
<rect x="357" y="288" width="49" height="7" fill="#0cc00c"/>
<rect x="271" y="295" width="12" height="6" fill="#0cc00c"/>
<rect x="296" y="295" width="12" height="6" fill="#0cc00c"/>
<rect x="308" y="295" width="12" height="6" fill="#e0d000"/>
<rect x="363" y="295" width="43" height="6" fill="#0cc00c"/>
<rect x="296" y="301" width="6" height="6" fill="#0cc00c"/>
<rect x="302" y="301" width="6" height="6" fill="#ffec70"/>
<rect x="369" y="301" width="37" height="6" fill="#0cc00c"/>
<rect x="375" y="307" width="31" height="6" fill="#0cc00c"/>
<rect x="375" y="313" width="13" height="6" fill="#30f840"/>
<rect x="388" y="313" width="18" height="6" fill="#0cc00c"/>
<g fill="none" stroke="#000" stroke-width="1" shape-rendering="crispEdges"><path d="M1.0 25.4 L7.3 22.2 L16.9 19.8 L27.2 21.0 L34.3 17.8 L42.3 13.5 L48.6 8.7 L55.0 3.2 L56.9 0.8"/>
<path d="M27.2 21.0 L30.4 24.6 L37.5 24.1 L43.1 20.3 L43.9 17.8 L39.1 17.5 L32.7 19.0 L27.2 21.0"/>
<path d="M116.6 56.0 L117.7 60.3 L118.1 66.7 L115.3 71.4 L110.5 77.8 L104.2 83.3 L100.2 87.0 L105.8 90.5 L108.9 92.9 L110.5 88.9 L115.3 91.3 L119.3 92.9 L126.4 89.7 L132.7 88.1 L136.1 88.9"/>
<path d="M95.9 41.6 L51.0 41.6 L51.0 55.2 L39.1 55.2 L43.9 61.1 L55.0 68.3 L58.9 73.8 L64.5 76.2 L63.7 84.1 L31.2 84.1 L24.8 95.2 L20.0 104.0 L22.4 109.5 L20.8 117.5"/>
<path d="M95.9 41.6 L94.7 63.5 L93.9 87.0 L100.2 87.0"/>
<path d="M108.9 92.9 L115.3 95.2 L102.6 104.8 L94.7 108.7 L93.9 114.3 L95.4 119.0 L92.3 123.8 L85.1 125.9"/>
<path d="M1.0 104.0 L7.3 109.5 L15.3 119.0"/>
<path d="M4.2 106.0 L10.5 113.9 L20.0 121.9 L29.6 129.0 L39.1 134.6 L47.0 137.0 L61.3 137.4 L70.8 140.6 L83.5 146.5 L94.7 149.7 L105.8 154.4 L115.3 155.5 L125.6 155.5"/>
<path d="M20.8 109.2 L20.8 113.9 L21.6 120.3 L20.0 121.9"/>
<path d="M70.8 140.6 L75.6 134.6 L83.5 129.8 L85.1 125.8 L91.5 124.3 L95.4 121.1"/>
<path d="M101.8 106.0 L94.7 109.2 L93.4 113.1 L95.9 117.9 L95.4 121.1"/>
<path d="M91.5 124.3 L97.8 126.6 L102.6 131.4 L112.1 137.7 L119.3 136.2 L126.4 137.7"/>
<path d="M163.6 140.1 L164.6 138.5 L170.9 133.8 L177.3 138.5 L178.9 135.4 L186.8 130.6 L192.3 124.3 L194.7 118.7 L199.5 115.5 L204.3 117.9 L209.0 119.5 L218.5 117.1 L228.1 114.7 L235.2 111.6 L240.0 110.8"/>
<path d="M237.6 106.0 L240.8 110.8 L240.0 115.5 L240.8 125.0 L237.6 131.4 L234.4 137.7 L233.1 147.3 L233.1 166.3 L232.0 172.7 L228.9 175.8 L229.7 185.4 L229.7 191.7 L226.5 196.5 L224.1 201.2 L225.7 207.6"/>
<path d="M154.7 181.9 L158.2 185.4 L164.6 191.7 L172.5 199.7 L178.1 205.2 L180.4 207.6"/>
<path d="M180.4 204.4 L183.6 205.2 L188.4 207.6 L197.9 210.0 L204.3 206.8 L209.0 208.4 L215.4 211.6 L221.7 214.7 L228.9 214.7 L229.7 212.3"/>
<path d="M178.1 207.6 L174.9 210.8 L178.9 215.5 L176.5 221.9 L174.9 226.6 L175.7 231.9"/>
<path d="M175.7 208.9 L178.1 213.0 L181.2 217.8 L176.5 222.6 L175.7 226.5 L178.1 232.9 L182.0 236.1 L187.6 236.9 L190.8 240.0 L193.9 243.2 L197.1 241.6 L200.3 236.1 L196.3 232.1 L191.6 229.7 L188.4 225.7 L190.8 228.1 L195.5 232.1 L201.1 233.7 L204.3 235.3 L205.8 240.0 L209.0 244.8 L215.4 246.4 L221.7 250.3 L228.1 256.7 L231.2 260.7 L229.7 263.8 L228.9 268.6 L232.8 271.8 L238.4 273.4 L239.2 268.6 L236.0 265.4 L240.8 268.6 L243.9 275.0 L247.1 276.5 L249.5 275.0 L256.6 274.2 L263.0 275.0 L267.7 275.7 L271.1 276.5"/>
<path d="M226.5 207.5 L229.7 211.5 L232.8 217.8 L237.6 225.7 L243.9 232.1 L250.3 240.8 L258.2 244.8 L261.4 248.0 L264.6 252.7 L267.7 257.5 L271.1 259.1"/>
<path d="M251.9 241.6 L248.7 246.4 L247.1 252.7 L250.3 259.1 L247.9 262.3 L250.3 267.0 L249.5 271.8 L247.1 275.7 L247.9 281.3 L249.5 281.3 L249.5 276.5"/>
<path d="M271.0 257.5 L274.2 255.1 L277.3 259.1 L285.3 263.0 L294.8 261.5 L302.7 256.7 L312.3 252.7 L323.4 248.8 L328.1 242.4"/>
<path d="M271.0 276.5 L277.3 279.7 L280.5 286.1 L286.9 290.0 L293.2 287.7 L294.8 290.8 L297.2 298.8 L307.5 300.3"/>
<path d="M274.2 294.8 L276.6 292.4 L278.9 295.6 L277.3 298.0 L275.0 297.2 L274.2 294.8"/>
<path d="M288.5 285.3 L291.6 284.5 L293.2 287.7"/>
<path d="M285.0 2.2 L286.6 2.9 L286.1 6.3 L288.1 6.3"/>
<path d="M288.5 3.8 L293.2 3.8 L293.2 5.7 L288.5 5.7 L288.5 3.8"/>
<path d="M136.0 90.5 L142.3 90.8 L148.7 92.1 L155.0 90.5 L163.0 91.3 L170.1 87.3 L174.1 86.5 L175.7 88.1 L182.0 88.9 L190.0 88.9 L195.5 86.5 L202.7 88.1 L210.6 90.5 L215.4 90.5 L220.1 95.2 L224.9 100.0 L231.2 102.4 L236.0 104.8 L239.2 108.7 L240.8 111.1 L238.4 115.1"/>
<path d="M240.8 110.3 L234.4 111.1 L228.9 114.3 L218.5 117.5 L210.6 119.0 L204.3 118.3 L200.3 115.1 L196.3 118.3 L192.3 125.9"/>
<path d="M157.4 77.8 L162.2 75.4 L167.0 74.9"/>
<path d="M110.0 135.5 L111.4 138.0 L115.6 138.4 L118.5 136.2 L121.3 136.2 L123.4 138.0 L126.9 137.3 L129.8 139.1 L130.8 141.2 L129.1 143.6 L128.7 147.2 L126.6 149.6 L127.6 151.4 L129.1 150.0"/>
<path d="M110.0 155.3 L125.2 155.3 L125.9 156.3 L129.1 152.1 L128.3 150.7"/>
<path d="M135.8 153.2 L136.8 156.3 L139.6 158.5 L141.4 157.8 L140.3 159.2 L138.2 160.6 L135.4 160.6 L133.6 157.8 L131.2 162.0 L134.0 163.4 L138.2 167.6 L141.1 169.8 L145.3 174.0 L149.5 176.8 L153.8 178.9 L154.8 182.0"/>
<path d="M138.2 160.6 L147.4 160.2 L150.9 152.8 L154.5 152.1 L154.1 140.5 L163.6 140.1"/>
<path d="M328.7 242.6 L335.8 243.8 L343.0 245.0 L346.5 246.8 L352.4 246.8 L357.2 247.9 L364.3 250.3 L369.7 253.3 L373.8 257.4 L378.5 262.2 L382.7 265.7 L385.7 266.3 L388.0 271.1 L392.8 275.8 L395.2 280.0 L396.3 281.8"/>
<path d="M405.9 261.6 L399.9 265.1 L395.2 267.5 L396.3 272.3 L398.7 277.0 L399.9 281.8 L398.7 284.1 L395.7 284.1 L395.2 280.6"/>
<path d="M305.0 301.9 L308.6 300.1 L313.3 296.6 L318.6 296.0 L319.8 293.6 L316.9 290.1 L312.1 284.1 L307.4 279.4 L308.6 275.8 L312.1 273.4 L318.0 270.5 L322.8 266.9 L326.4 265.1 L326.9 261.0 L330.5 258.6 L334.7 257.4 L341.8 257.4 L345.3 259.2 L350.1 262.8 L354.8 266.9 L358.4 270.5 L360.8 271.7 L367.9 273.4 L371.4 277.0 L375.0 278.2"/>
<path d="M358.4 270.5 L357.2 275.8 L358.4 281.8 L363.1 287.7 L367.9 294.8 L372.6 300.7 L376.2 306.7 L378.5 311.4 L382.1 315.0 L386.9 319.1"/>
<path d="M385.7 266.3 L382.7 268.7 L386.9 275.8 L388.0 283.5 L383.3 286.5 L380.9 290.7 L377.4 294.2 L375.0 290.7 L373.2 297.2 L371.4 300.1"/>
<path d="M375.0 290.7 L378.5 293.6 L382.1 290.7"/>
<path d="M346.5 270.5 L348.7 271.7 L348.7 274.0 L346.5 275.2 L346.5 277.6 L345.9 275.2 L344.4 274.0 L344.4 271.7 L346.5 270.5"/>
<path d="M136.2 1.1 L135.2 4.2 L134.5 7.1 L133.4 12.0 L131.6 17.6 L129.9 24.0 L128.5 28.2 L126.7 30.3 L126.7 33.2 L125.3 35.3 L124.6 39.5"/>
<path d="M135.2 4.2 L132.3 2.8 L131.3 4.9 L132.3 7.1 L134.5 6.7 L136.2 4.9 L135.2 4.2"/>
<path d="M114.3 26.8 L115.8 25.4 L118.2 23.3 L120.3 20.5 L121.8 16.6 L122.1 18.3 L121.4 23.3 L120.3 27.5 L118.2 28.6 L114.3 28.9 L114.3 26.8"/>
<path d="M123.2 24.0 L124.6 26.1 L126.7 28.9"/>
<path d="M115.8 25.4 L111.2 25.4 L109.1 27.9 L108.0 31.8 L105.5 34.6 L102.4 39.2 L100.6 38.5 L98.5 37.1 L95.6 37.4 L95.3 41.6"/>
<path d="M121.1 28.2 L120.3 33.9 L118.9 37.4 L117.5 42.3 L116.5 45.9 L118.2 48.7 L116.8 52.2 L116.5 56.0"/>
<path d="M360.5 27.2 L362.9 25.4 L369.3 25.1 L370.7 26.1 L371.4 24.7 L375.6 25.1 L381.3 25.4 L388.3 25.4 L391.2 26.8 L395.4 27.5 L398.2 29.3 L400.3 30.3 L405.3 30.7"/>
<path d="M360.5 27.2 L360.1 29.3 L362.2 31.4 L367.2 32.5 L369.3 34.9 L372.1 37.1 L373.5 39.9 L375.6 40.6 L384.1 40.6 L388.3 44.5 L390.5 41.3 L391.5 39.9 L392.6 40.6 L395.4 39.9 L396.1 38.1 L398.2 38.1 L401.8 39.2 L405.3 40.6"/>
<path d="M130.5 148.2 L134.0 148.6 L134.3 151.8 L131.2 152.1Z" fill="#000"/>
<path d="M135.1 149.6 L138.2 148.9 L138.9 150.7 L137.2 153.2 L135.4 152.8Z" fill="#000"/>
<path d="M360.2 270.1 L366.7 269.9 L366.7 272.9 L361.9 272.5Z" fill="#000"/></g>
<g shape-rendering="crispEdges"><rect x="312.5" y="61.5" width="83" height="158" fill="#fff" stroke="#000" stroke-width="1"/>
<text x="328" y="80.8" font-size="13" font-style="italic" textLength="51.5" lengthAdjust="spacingAndGlyphs">Nr. Days</text>
<rect x="327.5" y="88.5" width="18" height="12" fill="#0cc00c" stroke="#000" stroke-width="1"/>
<text x="352.6" y="97.6" font-size="9">0</text>
<rect x="327.5" y="100.5" width="18" height="12" fill="#30f840" stroke="#000" stroke-width="1"/>
<text x="352.6" y="109.6" font-size="9">1</text>
<rect x="327.5" y="112.5" width="18" height="12" fill="#c0ffd0" stroke="#000" stroke-width="1"/>
<text x="352.6" y="121.6" font-size="9" textLength="16.3">2–3</text>
<rect x="327.5" y="124.5" width="18" height="12" fill="#e0d000" stroke="#000" stroke-width="1"/>
<text x="352.6" y="133.6" font-size="9" textLength="16.3">4–5</text>
<rect x="327.5" y="136.5" width="18" height="12" fill="#ffec70" stroke="#000" stroke-width="1"/>
<text x="352.6" y="145.6" font-size="9" textLength="16.3">6–8</text>
<rect x="327.5" y="148.5" width="18" height="12" fill="#ffffc8" stroke="#000" stroke-width="1"/>
<text x="352.6" y="157.6" font-size="9" textLength="19.2">9–11</text>
<rect x="327.5" y="160.5" width="18" height="12" fill="#e08800" stroke="#000" stroke-width="1"/>
<text x="351.8" y="169.6" font-size="9" textLength="23.2">12–14</text>
<rect x="327.5" y="172.5" width="18" height="12" fill="#ffa010" stroke="#000" stroke-width="1"/>
<text x="351.8" y="181.6" font-size="9" textLength="23.2">15–20</text>
<rect x="327.5" y="184.5" width="18" height="12" fill="#ffc090" stroke="#000" stroke-width="1"/>
<text x="351.0" y="193.6" font-size="9" textLength="23.2">21–25</text>
<rect x="327.5" y="196.5" width="18" height="12" fill="#ffffff" stroke="#000" stroke-width="1"/>
<text x="350.8" y="205.6" font-size="9" textLength="18.3">&gt; 25</text></g>
<rect x="0.5" y="0.5" width="405" height="319" fill="none" stroke="#000" stroke-width="1"/>
</svg>
</body></html>
